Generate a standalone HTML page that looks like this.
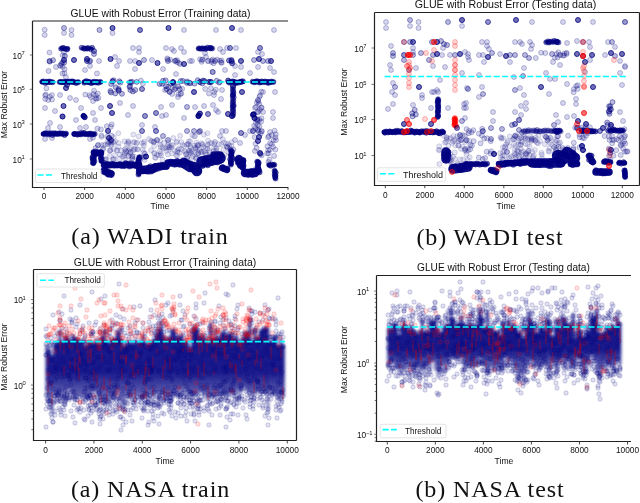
<!DOCTYPE html><html><head><meta charset="utf-8"><style>html,body{margin:0;padding:0;background:#fff;width:640px;height:503px;overflow:hidden}svg{position:absolute;left:0;top:0;filter:blur(0.35px)}text{font-family:"Liberation Sans",sans-serif;fill:#111}.cap{font-family:"Liberation Serif",serif}</style></head><body>
<svg width="640" height="503" viewBox="0 0 640 503">
<defs><filter id="bl" x="-10%" y="-10%" width="120%" height="120%"><feGaussianBlur stdDeviation="1.5"/></filter><clipPath id="c1"><rect x="32" y="21" width="256" height="166"/></clipPath><clipPath id="c2"><rect x="374" y="12.5" width="265" height="172.7"/></clipPath><clipPath id="c3"><rect x="33.4" y="269.5" width="263" height="171"/></clipPath><clipPath id="c4"><rect x="376.7" y="275.3" width="254" height="166"/></clipPath></defs>
<g clip-path="url(#c1)" class="w">
<path d="M61 48.5H68" fill="none" stroke="#000080" stroke-opacity="0.80" stroke-width="3.5" stroke-linecap="round" stroke-linejoin="round"/>
<g fill="#000080" fill-opacity="0.48" stroke="#000080" stroke-opacity="0.48" stroke-width="1"><circle cx=61.1 cy=48.7 r=2.5 /><circle cx=62.4 cy=48.1 r=2.5 /><circle cx=63.6 cy=48.0 r=2.5 /><circle cx=64.8 cy=48.7 r=2.5 /><circle cx=66.8 cy=49.4 r=2.5 /><circle cx=67.5 cy=48.8 r=2.5 /></g>
<path d="M82 48.5H92" fill="none" stroke="#000080" stroke-opacity="0.80" stroke-width="3.5" stroke-linecap="round" stroke-linejoin="round"/>
<g fill="#000080" fill-opacity="0.48" stroke="#000080" stroke-opacity="0.48" stroke-width="1"><circle cx=81.6 cy=47.7 r=2.5 /><circle cx=83.9 cy=48.3 r=2.5 /><circle cx=84.5 cy=48.7 r=2.5 /><circle cx=86.6 cy=48.4 r=2.5 /><circle cx=87.3 cy=48.6 r=2.5 /><circle cx=88.3 cy=48.0 r=2.5 /><circle cx=90.8 cy=49.3 r=2.5 /><circle cx=92.1 cy=47.8 r=2.5 /></g>
<path d="M198 48.5H212" fill="none" stroke="#000080" stroke-opacity="0.80" stroke-width="3.5" stroke-linecap="round" stroke-linejoin="round"/>
<g fill="#000080" fill-opacity="0.48" stroke="#000080" stroke-opacity="0.48" stroke-width="1"><circle cx=198.6 cy=48.5 r=2.5 /><circle cx=199.8 cy=48.4 r=2.5 /><circle cx=201.2 cy=48.8 r=2.5 /><circle cx=202.2 cy=48.4 r=2.5 /><circle cx=203.3 cy=48.4 r=2.5 /><circle cx=205.3 cy=48.7 r=2.5 /><circle cx=205.8 cy=48.8 r=2.5 /><circle cx=207.5 cy=47.6 r=2.5 /><circle cx=209.6 cy=47.9 r=2.5 /><circle cx=210.3 cy=48.3 r=2.5 /><circle cx=212.2 cy=48.5 r=2.5 /></g>
<path d="M42 82H52" fill="none" stroke="#000080" stroke-opacity="0.95" stroke-width="4.5" stroke-linecap="round" stroke-linejoin="round"/>
<g fill="#000080" fill-opacity="0.57" stroke="#000080" stroke-opacity="0.57" stroke-width="1"><circle cx=42.2 cy=81.8 r=2.5 /><circle cx=43.5 cy=81.4 r=2.5 /><circle cx=45.4 cy=83.0 r=2.5 /><circle cx=46.6 cy=81.7 r=2.5 /><circle cx=48.0 cy=82.2 r=2.5 /><circle cx=49.3 cy=81.5 r=2.5 /><circle cx=50.4 cy=82.0 r=2.5 /><circle cx=52.6 cy=82.2 r=2.5 /></g>
<path d="M60 82H78" fill="none" stroke="#000080" stroke-opacity="0.95" stroke-width="4.5" stroke-linecap="round" stroke-linejoin="round"/>
<g fill="#000080" fill-opacity="0.57" stroke="#000080" stroke-opacity="0.57" stroke-width="1"><circle cx=59.7 cy=82.0 r=2.5 /><circle cx=61.2 cy=81.9 r=2.5 /><circle cx=62.7 cy=82.2 r=2.5 /><circle cx=64.0 cy=82.2 r=2.5 /><circle cx=65.5 cy=81.6 r=2.5 /><circle cx=67.2 cy=81.8 r=2.5 /><circle cx=69.0 cy=81.6 r=2.5 /><circle cx=68.8 cy=82.2 r=2.5 /><circle cx=71.4 cy=81.4 r=2.5 /><circle cx=72.2 cy=82.0 r=2.5 /><circle cx=72.9 cy=81.5 r=2.5 /><circle cx=74.9 cy=82.4 r=2.5 /><circle cx=76.3 cy=83.0 r=2.5 /><circle cx=78.3 cy=82.2 r=2.5 /></g>
<path d="M84 82H100" fill="none" stroke="#000080" stroke-opacity="0.95" stroke-width="4.5" stroke-linecap="round" stroke-linejoin="round"/>
<g fill="#000080" fill-opacity="0.57" stroke="#000080" stroke-opacity="0.57" stroke-width="1"><circle cx=84.3 cy=82.7 r=2.5 /><circle cx=85.3 cy=81.4 r=2.5 /><circle cx=86.9 cy=81.3 r=2.5 /><circle cx=88.4 cy=82.2 r=2.5 /><circle cx=89.1 cy=81.9 r=2.5 /><circle cx=91.0 cy=83.0 r=2.5 /><circle cx=92.2 cy=82.6 r=2.5 /><circle cx=92.9 cy=82.4 r=2.5 /><circle cx=94.2 cy=81.7 r=2.5 /><circle cx=96.0 cy=82.5 r=2.5 /><circle cx=97.1 cy=81.9 r=2.5 /><circle cx=98.3 cy=82.8 r=2.5 /><circle cx=100.5 cy=81.9 r=2.5 /></g>
<path d="M228 82H243" fill="none" stroke="#000080" stroke-opacity="0.95" stroke-width="4.5" stroke-linecap="round" stroke-linejoin="round"/>
<g fill="#000080" fill-opacity="0.57" stroke="#000080" stroke-opacity="0.57" stroke-width="1"><circle cx=228.1 cy=80.5 r=2.5 /><circle cx=229.2 cy=82.6 r=2.5 /><circle cx=230.9 cy=82.1 r=2.5 /><circle cx=232.5 cy=81.4 r=2.5 /><circle cx=233.7 cy=81.8 r=2.5 /><circle cx=234.7 cy=82.2 r=2.5 /><circle cx=235.6 cy=83.0 r=2.5 /><circle cx=236.7 cy=82.7 r=2.5 /><circle cx=238.7 cy=82.6 r=2.5 /><circle cx=240.3 cy=81.8 r=2.5 /><circle cx=241.4 cy=81.7 r=2.5 /><circle cx=242.9 cy=81.3 r=2.5 /></g>
<path d="M253 82H273" fill="none" stroke="#000080" stroke-opacity="0.95" stroke-width="4.5" stroke-linecap="round" stroke-linejoin="round"/>
<g fill="#000080" fill-opacity="0.57" stroke="#000080" stroke-opacity="0.57" stroke-width="1"><circle cx=252.6 cy=81.7 r=2.5 /><circle cx=254.6 cy=82.3 r=2.5 /><circle cx=256.0 cy=81.4 r=2.5 /><circle cx=257.0 cy=81.4 r=2.5 /><circle cx=258.2 cy=81.5 r=2.5 /><circle cx=259.8 cy=82.6 r=2.5 /><circle cx=260.7 cy=82.1 r=2.5 /><circle cx=261.8 cy=81.4 r=2.5 /><circle cx=263.7 cy=82.1 r=2.5 /><circle cx=264.9 cy=81.5 r=2.5 /><circle cx=266.9 cy=81.9 r=2.5 /><circle cx=268.1 cy=82.9 r=2.5 /><circle cx=268.5 cy=81.9 r=2.5 /><circle cx=270.3 cy=82.3 r=2.5 /><circle cx=271.5 cy=81.6 r=2.5 /><circle cx=273.4 cy=81.9 r=2.5 /></g>
<path d="M233 88L233 115" fill="none" stroke="#000080" stroke-opacity="0.60" stroke-width="3.0" stroke-linecap="round" stroke-linejoin="round"/>
<g fill="#000080" fill-opacity="0.36" stroke="#000080" stroke-opacity="0.36" stroke-width="1"><circle cx=233.0 cy=87.9 r=2.5 /><circle cx=232.9 cy=89.2 r=2.5 /><circle cx=233.0 cy=91.1 r=2.5 /><circle cx=233.1 cy=91.9 r=2.5 /><circle cx=233.5 cy=92.9 r=2.5 /><circle cx=232.8 cy=95.0 r=2.5 /><circle cx=232.7 cy=96.3 r=2.5 /><circle cx=233.8 cy=97.2 r=2.5 /><circle cx=232.9 cy=99.0 r=2.5 /><circle cx=233.3 cy=100.3 r=2.5 /><circle cx=232.9 cy=101.8 r=2.5 /><circle cx=233.1 cy=102.8 r=2.5 /><circle cx=232.6 cy=103.9 r=2.5 /><circle cx=233.8 cy=105.6 r=2.5 /><circle cx=232.6 cy=107.2 r=2.5 /><circle cx=233.1 cy=108.7 r=2.5 /><circle cx=233.1 cy=110.2 r=2.5 /><circle cx=232.6 cy=110.8 r=2.5 /><circle cx=233.3 cy=112.3 r=2.5 /><circle cx=233.1 cy=114.0 r=2.5 /><circle cx=233.0 cy=115.5 r=2.5 /></g>
<path d="M43 134H66" fill="none" stroke="#000080" stroke-opacity="0.95" stroke-width="4.5" stroke-linecap="round" stroke-linejoin="round"/>
<g fill="#000080" fill-opacity="0.57" stroke="#000080" stroke-opacity="0.57" stroke-width="1"><circle cx=43.6 cy=133.9 r=2.5 /><circle cx=45.4 cy=133.6 r=2.5 /><circle cx=45.4 cy=133.2 r=2.5 /><circle cx=47.2 cy=133.4 r=2.5 /><circle cx=48.5 cy=134.5 r=2.5 /><circle cx=50.0 cy=133.3 r=2.5 /><circle cx=51.2 cy=133.4 r=2.5 /><circle cx=52.5 cy=135.1 r=2.5 /><circle cx=53.5 cy=133.2 r=2.5 /><circle cx=55.5 cy=133.6 r=2.5 /><circle cx=55.9 cy=133.5 r=2.5 /><circle cx=57.7 cy=133.9 r=2.5 /><circle cx=59.3 cy=133.3 r=2.5 /><circle cx=60.6 cy=133.5 r=2.5 /><circle cx=62.2 cy=133.5 r=2.5 /><circle cx=63.2 cy=133.7 r=2.5 /><circle cx=64.6 cy=135.1 r=2.5 /><circle cx=66.0 cy=133.5 r=2.5 /></g>
<path d="M74 134H94" fill="none" stroke="#000080" stroke-opacity="0.95" stroke-width="4.5" stroke-linecap="round" stroke-linejoin="round"/>
<g fill="#000080" fill-opacity="0.57" stroke="#000080" stroke-opacity="0.57" stroke-width="1"><circle cx=74.2 cy=134.0 r=2.5 /><circle cx=74.4 cy=133.9 r=2.5 /><circle cx=76.7 cy=133.9 r=2.5 /><circle cx=77.7 cy=134.7 r=2.5 /><circle cx=79.0 cy=134.1 r=2.5 /><circle cx=80.9 cy=134.4 r=2.5 /><circle cx=81.5 cy=133.1 r=2.5 /><circle cx=83.5 cy=133.4 r=2.5 /><circle cx=84.3 cy=132.9 r=2.5 /><circle cx=85.3 cy=134.2 r=2.5 /><circle cx=87.6 cy=134.2 r=2.5 /><circle cx=88.8 cy=134.0 r=2.5 /><circle cx=90.3 cy=133.5 r=2.5 /><circle cx=92.0 cy=134.2 r=2.5 /><circle cx=92.7 cy=134.6 r=2.5 /><circle cx=94.7 cy=134.0 r=2.5 /></g>
<path d="M94 153L101 153" fill="none" stroke="#000080" stroke-opacity="0.95" stroke-width="6.5" stroke-linecap="round" stroke-linejoin="round"/>
<g fill="#000080" fill-opacity="0.57" stroke="#000080" stroke-opacity="0.57" stroke-width="1"><circle cx=93.5 cy=152.0 r=2.5 /><circle cx=95.5 cy=151.4 r=2.5 /><circle cx=96.0 cy=154.1 r=2.5 /><circle cx=98.7 cy=152.4 r=2.5 /><circle cx=99.7 cy=153.0 r=2.5 /><circle cx=101.0 cy=152.1 r=2.5 /></g>
<path d="M94 157L93 163" fill="none" stroke="#000080" stroke-opacity="0.95" stroke-width="5.5" stroke-linecap="round" stroke-linejoin="round"/>
<g fill="#000080" fill-opacity="0.57" stroke="#000080" stroke-opacity="0.57" stroke-width="1"><circle cx=92.5 cy=157.0 r=2.5 /><circle cx=92.6 cy=158.3 r=2.5 /><circle cx=92.8 cy=159.4 r=2.5 /><circle cx=94.4 cy=161.2 r=2.5 /><circle cx=93.5 cy=163.1 r=2.5 /></g>
<path d="M101 156L101 161" fill="none" stroke="#000080" stroke-opacity="0.95" stroke-width="4.5" stroke-linecap="round" stroke-linejoin="round"/>
<g fill="#000080" fill-opacity="0.57" stroke="#000080" stroke-opacity="0.57" stroke-width="1"><circle cx=100.8 cy=154.9 r=2.5 /><circle cx=100.8 cy=158.1 r=2.5 /><circle cx=101.7 cy=158.7 r=2.5 /><circle cx=101.4 cy=161.0 r=2.5 /></g>
<path d="M104 165L139 165" fill="none" stroke="#000080" stroke-opacity="0.95" stroke-width="6.5" stroke-linecap="round" stroke-linejoin="round"/>
<g fill="#000080" fill-opacity="0.57" stroke="#000080" stroke-opacity="0.57" stroke-width="1"><circle cx=104.4 cy=163.1 r=2.5 /><circle cx=105.6 cy=164.8 r=2.5 /><circle cx=106.7 cy=166.3 r=2.5 /><circle cx=108.0 cy=164.0 r=2.5 /><circle cx=109.5 cy=165.6 r=2.5 /><circle cx=111.1 cy=164.3 r=2.5 /><circle cx=112.8 cy=164.0 r=2.5 /><circle cx=113.0 cy=164.5 r=2.5 /><circle cx=114.5 cy=165.5 r=2.5 /><circle cx=116.4 cy=164.8 r=2.5 /><circle cx=117.3 cy=165.3 r=2.5 /><circle cx=118.9 cy=164.7 r=2.5 /><circle cx=120.2 cy=164.1 r=2.5 /><circle cx=121.7 cy=166.0 r=2.5 /><circle cx=123.1 cy=165.0 r=2.5 /><circle cx=124.2 cy=166.1 r=2.5 /><circle cx=125.5 cy=163.1 r=2.5 /><circle cx=126.3 cy=163.7 r=2.5 /><circle cx=128.3 cy=163.7 r=2.5 /><circle cx=129.5 cy=166.5 r=2.5 /><circle cx=130.7 cy=163.2 r=2.5 /><circle cx=132.1 cy=165.4 r=2.5 /><circle cx=133.2 cy=164.2 r=2.5 /><circle cx=135.6 cy=166.1 r=2.5 /><circle cx=135.9 cy=165.7 r=2.5 /><circle cx=138.2 cy=165.6 r=2.5 /><circle cx=138.9 cy=164.4 r=2.5 /></g>
<path d="M104 171L111 174" fill="none" stroke="#000080" stroke-opacity="0.95" stroke-width="7.5" stroke-linecap="round" stroke-linejoin="round"/>
<g fill="#000080" fill-opacity="0.57" stroke="#000080" stroke-opacity="0.57" stroke-width="1"><circle cx=104.5 cy=171.2 r=2.5 /><circle cx=105.8 cy=171.1 r=2.5 /><circle cx=107.2 cy=172.2 r=2.5 /><circle cx=107.8 cy=174.5 r=2.5 /><circle cx=108.6 cy=174.6 r=2.5 /><circle cx=111.2 cy=172.9 r=2.5 /></g>
<path d="M139 157L139 174" fill="none" stroke="#000080" stroke-opacity="0.95" stroke-width="4.5" stroke-linecap="round" stroke-linejoin="round"/>
<g fill="#000080" fill-opacity="0.57" stroke="#000080" stroke-opacity="0.57" stroke-width="1"><circle cx=139.6 cy=157.2 r=2.5 /><circle cx=138.9 cy=158.8 r=2.5 /><circle cx=138.5 cy=160.0 r=2.5 /><circle cx=138.4 cy=161.8 r=2.5 /><circle cx=138.2 cy=162.3 r=2.5 /><circle cx=139.1 cy=163.4 r=2.5 /><circle cx=139.3 cy=165.1 r=2.5 /><circle cx=138.5 cy=167.1 r=2.5 /><circle cx=139.5 cy=167.9 r=2.5 /><circle cx=139.1 cy=169.5 r=2.5 /><circle cx=138.9 cy=169.1 r=2.5 /><circle cx=138.7 cy=171.3 r=2.5 /><circle cx=138.8 cy=172.6 r=2.5 /><circle cx=138.5 cy=174.5 r=2.5 /></g>
<path d="M142 170L153 169" fill="none" stroke="#000080" stroke-opacity="0.95" stroke-width="8.5" stroke-linecap="round" stroke-linejoin="round"/>
<g fill="#000080" fill-opacity="0.57" stroke="#000080" stroke-opacity="0.57" stroke-width="1"><circle cx=142.2 cy=169.0 r=2.5 /><circle cx=143.1 cy=170.7 r=2.5 /><circle cx=145.1 cy=171.2 r=2.5 /><circle cx=146.6 cy=171.5 r=2.5 /><circle cx=148.6 cy=171.8 r=2.5 /><circle cx=148.7 cy=167.5 r=2.5 /><circle cx=150.3 cy=166.3 r=2.5 /><circle cx=151.3 cy=171.6 r=2.5 /><circle cx=152.5 cy=170.4 r=2.5 /></g>
<path d="M155 167L166 166" fill="none" stroke="#000080" stroke-opacity="0.95" stroke-width="7.5" stroke-linecap="round" stroke-linejoin="round"/>
<g fill="#000080" fill-opacity="0.57" stroke="#000080" stroke-opacity="0.57" stroke-width="1"><circle cx=155.2 cy=165.8 r=2.5 /><circle cx=155.8 cy=169.4 r=2.5 /><circle cx=158.4 cy=168.6 r=2.5 /><circle cx=158.5 cy=165.3 r=2.5 /><circle cx=160.7 cy=167.5 r=2.5 /><circle cx=161.7 cy=164.7 r=2.5 /><circle cx=163.2 cy=165.0 r=2.5 /><circle cx=164.1 cy=165.9 r=2.5 /><circle cx=166.4 cy=166.9 r=2.5 /></g>
<path d="M168 163L180 163" fill="none" stroke="#000080" stroke-opacity="0.95" stroke-width="7.5" stroke-linecap="round" stroke-linejoin="round"/>
<g fill="#000080" fill-opacity="0.57" stroke="#000080" stroke-opacity="0.57" stroke-width="1"><circle cx=167.7 cy=164.4 r=2.5 /><circle cx=169.2 cy=162.4 r=2.5 /><circle cx=170.9 cy=161.6 r=2.5 /><circle cx=173.0 cy=162.5 r=2.5 /><circle cx=173.6 cy=162.1 r=2.5 /><circle cx=174.6 cy=164.8 r=2.5 /><circle cx=176.5 cy=164.3 r=2.5 /><circle cx=177.1 cy=160.8 r=2.5 /><circle cx=178.3 cy=162.2 r=2.5 /><circle cx=179.8 cy=164.9 r=2.5 /></g>
<path d="M184 163L190 167" fill="none" stroke="#000080" stroke-opacity="0.95" stroke-width="10.5" stroke-linecap="round" stroke-linejoin="round"/>
<g fill="#000080" fill-opacity="0.57" stroke="#000080" stroke-opacity="0.57" stroke-width="1"><circle cx=185.1 cy=161.0 r=2.5 /><circle cx=183.4 cy=165.4 r=2.5 /><circle cx=187.2 cy=162.4 r=2.5 /><circle cx=189.0 cy=163.0 r=2.5 /><circle cx=190.5 cy=164.0 r=2.5 /><circle cx=191.1 cy=163.6 r=2.5 /></g>
<path d="M194 167L197 171" fill="none" stroke="#000080" stroke-opacity="0.95" stroke-width="10.5" stroke-linecap="round" stroke-linejoin="round"/>
<g fill="#000080" fill-opacity="0.57" stroke="#000080" stroke-opacity="0.57" stroke-width="1"><circle cx=192.0 cy=168.1 r=2.5 /><circle cx=196.9 cy=167.2 r=2.5 /><circle cx=195.3 cy=171.4 r=2.5 /><circle cx=199.0 cy=169.9 r=2.5 /></g>
<path d="M202 162L212 160L220 158" fill="none" stroke="#000080" stroke-opacity="0.95" stroke-width="11.5" stroke-linecap="round" stroke-linejoin="round"/>
<g fill="#000080" fill-opacity="0.57" stroke="#000080" stroke-opacity="0.57" stroke-width="1"><circle cx=202.6 cy=166.0 r=2.5 /><circle cx=204.2 cy=163.8 r=2.5 /><circle cx=204.8 cy=159.0 r=2.5 /><circle cx=206.9 cy=161.0 r=2.5 /><circle cx=207.8 cy=165.3 r=2.5 /><circle cx=208.9 cy=161.0 r=2.5 /><circle cx=211.1 cy=161.7 r=2.5 /><circle cx=212.6 cy=161.9 r=2.5 /><circle cx=212.1 cy=160.1 r=2.5 /><circle cx=212.9 cy=159.3 r=2.5 /><circle cx=215.0 cy=159.8 r=2.5 /><circle cx=217.3 cy=162.5 r=2.5 /><circle cx=216.2 cy=155.6 r=2.5 /><circle cx=219.4 cy=161.6 r=2.5 /><circle cx=219.5 cy=155.4 r=2.5 /></g>
<path d="M214 155L220 155" fill="none" stroke="#000080" stroke-opacity="0.95" stroke-width="7.5" stroke-linecap="round" stroke-linejoin="round"/>
<g fill="#000080" fill-opacity="0.57" stroke="#000080" stroke-opacity="0.57" stroke-width="1"><circle cx=213.5 cy=157.0 r=2.5 /><circle cx=215.6 cy=156.0 r=2.5 /><circle cx=217.4 cy=156.3 r=2.5 /><circle cx=218.5 cy=156.6 r=2.5 /><circle cx=220.7 cy=156.9 r=2.5 /></g>
<path d="M222 168L227 170" fill="none" stroke="#000080" stroke-opacity="0.95" stroke-width="6.5" stroke-linecap="round" stroke-linejoin="round"/>
<g fill="#000080" fill-opacity="0.57" stroke="#000080" stroke-opacity="0.57" stroke-width="1"><circle cx=222.7 cy=167.1 r=2.5 /><circle cx=223.6 cy=167.6 r=2.5 /><circle cx=223.8 cy=169.0 r=2.5 /><circle cx=226.2 cy=168.8 r=2.5 /><circle cx=227.4 cy=168.5 r=2.5 /></g>
<path d="M231 151L231 164" fill="none" stroke="#000080" stroke-opacity="0.95" stroke-width="4.5" stroke-linecap="round" stroke-linejoin="round"/>
<g fill="#000080" fill-opacity="0.57" stroke="#000080" stroke-opacity="0.57" stroke-width="1"><circle cx=230.8 cy=150.2 r=2.5 /><circle cx=232.0 cy=151.7 r=2.5 /><circle cx=231.5 cy=153.2 r=2.5 /><circle cx=231.3 cy=154.6 r=2.5 /><circle cx=230.9 cy=155.7 r=2.5 /><circle cx=232.2 cy=157.6 r=2.5 /><circle cx=232.3 cy=159.4 r=2.5 /><circle cx=230.2 cy=159.2 r=2.5 /><circle cx=230.8 cy=161.4 r=2.5 /><circle cx=230.9 cy=163.0 r=2.5 /><circle cx=231.0 cy=164.6 r=2.5 /></g>
<path d="M239 159L241 165" fill="none" stroke="#000080" stroke-opacity="0.95" stroke-width="8.5" stroke-linecap="round" stroke-linejoin="round"/>
<g fill="#000080" fill-opacity="0.57" stroke="#000080" stroke-opacity="0.57" stroke-width="1"><circle cx=237.0 cy=159.6 r=2.5 /><circle cx=239.0 cy=161.0 r=2.5 /><circle cx=237.7 cy=162.7 r=2.5 /><circle cx=240.7 cy=162.9 r=2.5 /><circle cx=242.7 cy=164.6 r=2.5 /></g>
<path d="M245 173L255 173" fill="none" stroke="#000080" stroke-opacity="0.95" stroke-width="8.5" stroke-linecap="round" stroke-linejoin="round"/>
<g fill="#000080" fill-opacity="0.57" stroke="#000080" stroke-opacity="0.57" stroke-width="1"><circle cx=245.0 cy=172.3 r=2.5 /><circle cx=246.6 cy=172.9 r=2.5 /><circle cx=248.2 cy=174.9 r=2.5 /><circle cx=249.2 cy=172.0 r=2.5 /><circle cx=251.1 cy=170.9 r=2.5 /><circle cx=252.3 cy=175.0 r=2.5 /><circle cx=254.0 cy=170.4 r=2.5 /><circle cx=254.9 cy=171.0 r=2.5 /></g>
<path d="M243 160L243 168" fill="none" stroke="#000080" stroke-opacity="0.95" stroke-width="5.5" stroke-linecap="round" stroke-linejoin="round"/>
<g fill="#000080" fill-opacity="0.57" stroke="#000080" stroke-opacity="0.57" stroke-width="1"><circle cx=243.5 cy=160.3 r=2.5 /><circle cx=243.4 cy=161.4 r=2.5 /><circle cx=242.9 cy=162.4 r=2.5 /><circle cx=242.5 cy=163.7 r=2.5 /><circle cx=243.6 cy=165.8 r=2.5 /><circle cx=241.9 cy=166.4 r=2.5 /><circle cx=242.8 cy=168.0 r=2.5 /></g>
<path d="M258 162L258 172" fill="none" stroke="#000080" stroke-opacity="0.95" stroke-width="5.5" stroke-linecap="round" stroke-linejoin="round"/>
<g fill="#000080" fill-opacity="0.57" stroke="#000080" stroke-opacity="0.57" stroke-width="1"><circle cx=257.2 cy=161.7 r=2.5 /><circle cx=258.7 cy=162.9 r=2.5 /><circle cx=258.2 cy=164.1 r=2.5 /><circle cx=257.5 cy=166.8 r=2.5 /><circle cx=258.0 cy=168.8 r=2.5 /><circle cx=258.6 cy=169.1 r=2.5 /><circle cx=259.2 cy=170.6 r=2.5 /><circle cx=259.6 cy=172.3 r=2.5 /></g>
<path d="M269 165L274 165" fill="none" stroke="#000080" stroke-opacity="0.95" stroke-width="4.5" stroke-linecap="round" stroke-linejoin="round"/>
<g fill="#000080" fill-opacity="0.57" stroke="#000080" stroke-opacity="0.57" stroke-width="1"><circle cx=269.2 cy=164.9 r=2.5 /><circle cx=270.8 cy=165.7 r=2.5 /><circle cx=272.4 cy=164.6 r=2.5 /><circle cx=274.3 cy=164.8 r=2.5 /></g>
<path d="M275 171L275 178" fill="none" stroke="#000080" stroke-opacity="0.95" stroke-width="4.5" stroke-linecap="round" stroke-linejoin="round"/>
<g fill="#000080" fill-opacity="0.57" stroke="#000080" stroke-opacity="0.57" stroke-width="1"><circle cx=274.6 cy=170.7 r=2.5 /><circle cx=275.7 cy=172.7 r=2.5 /><circle cx=274.7 cy=174.3 r=2.5 /><circle cx=275.5 cy=175.7 r=2.5 /><circle cx=275.1 cy=176.7 r=2.5 /><circle cx=275.5 cy=178.5 r=2.5 /></g>
<g fill="#000080" fill-opacity="0.105" stroke="#000080" stroke-opacity="0.15" stroke-width="1">
<circle cx=113.9 cy=142.9 r=2.5 /><circle cx=138.0 cy=149.4 r=2.5 /><circle cx=136.2 cy=143.5 r=2.5 /><circle cx=119.9 cy=154.7 r=2.5 /><circle cx=103.7 cy=145.0 r=2.5 /><circle cx=131.7 cy=159.2 r=2.5 /><circle cx=143.7 cy=143.3 r=2.5 /><circle cx=124.2 cy=156.2 r=2.5 /><circle cx=124.1 cy=154.7 r=2.5 /><circle cx=110.9 cy=142.4 r=2.5 /><circle cx=107.5 cy=141.7 r=2.5 /><circle cx=126.2 cy=151.3 r=2.5 /><circle cx=126.9 cy=143.9 r=2.5 /><circle cx=110.8 cy=145.1 r=2.5 /><circle cx=138.3 cy=160.8 r=2.5 /><circle cx=141.9 cy=142.9 r=2.5 /><circle cx=105.6 cy=160.0 r=2.5 /><circle cx=122.4 cy=156.3 r=2.5 /><circle cx=116.7 cy=150.3 r=2.5 /><circle cx=124.6 cy=149.6 r=2.5 /><circle cx=128.2 cy=141.3 r=2.5 /><circle cx=132.4 cy=157.9 r=2.5 /><circle cx=110.6 cy=150.1 r=2.5 /><circle cx=134.1 cy=149.1 r=2.5 /><circle cx=111.2 cy=144.3 r=2.5 /><circle cx=124.5 cy=141.3 r=2.5 /><circle cx=140.5 cy=157.0 r=2.5 /><circle cx=132.6 cy=158.2 r=2.5 /><circle cx=129.4 cy=149.1 r=2.5 /><circle cx=128.2 cy=151.1 r=2.5 /><circle cx=144.3 cy=157.1 r=2.5 /><circle cx=113.8 cy=159.2 r=2.5 /><circle cx=134.3 cy=156.6 r=2.5 /><circle cx=137.2 cy=149.1 r=2.5 /><circle cx=140.7 cy=158.6 r=2.5 /><circle cx=132.2 cy=156.3 r=2.5 /><circle cx=135.1 cy=149.1 r=2.5 /><circle cx=133.4 cy=142.4 r=2.5 /><circle cx=117.4 cy=150.4 r=2.5 /><circle cx=103.4 cy=148.1 r=2.5 /><circle cx=129.8 cy=153.5 r=2.5 /><circle cx=112.7 cy=159.9 r=2.5 /><circle cx=131.0 cy=147.8 r=2.5 /><circle cx=130.7 cy=152.4 r=2.5 /><circle cx=125.4 cy=148.8 r=2.5 /><circle cx=145.0 cy=153.8 r=2.5 /><circle cx=132.5 cy=156.2 r=2.5 /><circle cx=144.2 cy=141.5 r=2.5 /><circle cx=128.8 cy=155.8 r=2.5 /><circle cx=113.8 cy=149.0 r=2.5 /><circle cx=105.1 cy=144.9 r=2.5 /><circle cx=118.8 cy=143.0 r=2.5 /><circle cx=113.5 cy=159.1 r=2.5 /><circle cx=126.1 cy=151.2 r=2.5 /><circle cx=143.6 cy=152.4 r=2.5 /><circle cx=144.8 cy=153.8 r=2.5 /><circle cx=137.0 cy=142.5 r=2.5 /><circle cx=128.1 cy=156.2 r=2.5 /><circle cx=104.9 cy=159.6 r=2.5 /><circle cx=109.7 cy=150.4 r=2.5 /><circle cx=110.1 cy=150.9 r=2.5 /><circle cx=128.7 cy=142.2 r=2.5 /><circle cx=142.7 cy=149.4 r=2.5 /><circle cx=125.1 cy=153.0 r=2.5 /><circle cx=118.4 cy=146.7 r=2.5 /><circle cx=130.5 cy=152.2 r=2.5 /><circle cx=114.9 cy=155.3 r=2.5 /><circle cx=115.4 cy=141.3 r=2.5 /><circle cx=113.3 cy=141.9 r=2.5 /><circle cx=109.6 cy=156.1 r=2.5 /><circle cx=119.4 cy=159.0 r=2.5 /><circle cx=134.4 cy=142.0 r=2.5 /><circle cx=144.5 cy=159.9 r=2.5 /><circle cx=106.1 cy=159.1 r=2.5 /><circle cx=121.0 cy=150.6 r=2.5 /><circle cx=143.9 cy=145.9 r=2.5 /><circle cx=125.0 cy=159.7 r=2.5 /><circle cx=133.4 cy=150.4 r=2.5 /><circle cx=144.1 cy=157.3 r=2.5 /><circle cx=128.4 cy=143.3 r=2.5 /><circle cx=181.2 cy=149.1 r=2.5 /><circle cx=160.2 cy=141.0 r=2.5 /><circle cx=176.4 cy=142.5 r=2.5 /><circle cx=172.1 cy=153.4 r=2.5 /><circle cx=172.8 cy=145.2 r=2.5 /><circle cx=179.1 cy=148.4 r=2.5 /><circle cx=188.9 cy=150.6 r=2.5 /><circle cx=199.9 cy=159.1 r=2.5 /><circle cx=186.7 cy=144.8 r=2.5 /><circle cx=155.7 cy=157.9 r=2.5 /><circle cx=189.2 cy=152.5 r=2.5 /><circle cx=168.0 cy=145.4 r=2.5 /><circle cx=184.3 cy=151.3 r=2.5 /><circle cx=179.6 cy=152.7 r=2.5 /><circle cx=187.7 cy=143.8 r=2.5 /><circle cx=162.4 cy=159.6 r=2.5 /><circle cx=195.8 cy=157.6 r=2.5 /><circle cx=152.0 cy=141.2 r=2.5 /><circle cx=163.5 cy=148.5 r=2.5 /><circle cx=181.2 cy=142.0 r=2.5 /><circle cx=177.1 cy=141.4 r=2.5 /><circle cx=154.3 cy=153.5 r=2.5 /><circle cx=177.5 cy=152.6 r=2.5 /><circle cx=168.7 cy=149.6 r=2.5 /><circle cx=160.5 cy=146.9 r=2.5 /><circle cx=187.2 cy=156.8 r=2.5 /><circle cx=153.7 cy=142.4 r=2.5 /><circle cx=190.5 cy=152.5 r=2.5 /><circle cx=188.4 cy=144.3 r=2.5 /><circle cx=171.2 cy=145.2 r=2.5 /><circle cx=190.5 cy=147.4 r=2.5 /><circle cx=182.7 cy=159.8 r=2.5 /><circle cx=166.3 cy=151.0 r=2.5 /><circle cx=187.3 cy=158.4 r=2.5 /><circle cx=171.4 cy=147.4 r=2.5 /><circle cx=154.9 cy=157.5 r=2.5 /><circle cx=153.9 cy=141.7 r=2.5 /><circle cx=178.2 cy=149.7 r=2.5 /><circle cx=184.3 cy=146.0 r=2.5 /><circle cx=188.8 cy=141.5 r=2.5 /><circle cx=160.7 cy=153.2 r=2.5 /><circle cx=154.1 cy=146.1 r=2.5 /><circle cx=186.2 cy=153.9 r=2.5 /><circle cx=164.1 cy=142.9 r=2.5 /><circle cx=167.9 cy=154.5 r=2.5 /><circle cx=168.3 cy=142.3 r=2.5 /><circle cx=185.5 cy=151.4 r=2.5 /><circle cx=195.9 cy=158.8 r=2.5 /><circle cx=195.7 cy=148.8 r=2.5 /><circle cx=190.2 cy=146.1 r=2.5 /><circle cx=165.9 cy=148.0 r=2.5 /><circle cx=196.7 cy=157.9 r=2.5 /><circle cx=162.4 cy=147.2 r=2.5 /><circle cx=168.3 cy=147.3 r=2.5 /><circle cx=169.8 cy=147.8 r=2.5 /><circle cx=159.7 cy=151.3 r=2.5 /><circle cx=189.9 cy=150.8 r=2.5 /><circle cx=191.8 cy=151.3 r=2.5 /><circle cx=158.8 cy=155.2 r=2.5 /><circle cx=194.0 cy=145.6 r=2.5 /><circle cx=151.1 cy=150.3 r=2.5 /><circle cx=177.2 cy=151.3 r=2.5 /><circle cx=198.3 cy=153.0 r=2.5 /><circle cx=190.2 cy=141.3 r=2.5 /><circle cx=177.3 cy=155.8 r=2.5 /><circle cx=154.2 cy=141.6 r=2.5 /><circle cx=186.9 cy=158.0 r=2.5 /><circle cx=154.2 cy=152.7 r=2.5 /><circle cx=157.2 cy=154.9 r=2.5 /><circle cx=182.5 cy=144.9 r=2.5 /><circle cx=161.0 cy=155.3 r=2.5 /><circle cx=176.1 cy=155.3 r=2.5 /><circle cx=169.7 cy=146.8 r=2.5 /><circle cx=198.4 cy=153.4 r=2.5 /><circle cx=174.7 cy=150.7 r=2.5 /><circle cx=186.0 cy=154.2 r=2.5 /><circle cx=195.7 cy=148.2 r=2.5 /><circle cx=191.3 cy=153.3 r=2.5 /><circle cx=192.7 cy=156.1 r=2.5 /><circle cx=191.7 cy=157.8 r=2.5 /><circle cx=233.3 cy=150.0 r=2.5 /><circle cx=216.0 cy=150.9 r=2.5 /><circle cx=227.1 cy=146.9 r=2.5 /><circle cx=211.8 cy=143.0 r=2.5 /><circle cx=224.6 cy=154.9 r=2.5 /><circle cx=210.0 cy=143.3 r=2.5 /><circle cx=203.2 cy=146.9 r=2.5 /><circle cx=206.7 cy=154.6 r=2.5 /><circle cx=197.4 cy=145.3 r=2.5 /><circle cx=199.6 cy=150.1 r=2.5 /><circle cx=226.0 cy=143.5 r=2.5 /><circle cx=197.5 cy=147.4 r=2.5 /><circle cx=218.4 cy=153.7 r=2.5 /><circle cx=196.5 cy=142.5 r=2.5 /><circle cx=202.4 cy=144.0 r=2.5 /><circle cx=204.4 cy=151.0 r=2.5 /><circle cx=218.8 cy=144.1 r=2.5 /><circle cx=202.4 cy=144.9 r=2.5 /><circle cx=201.9 cy=151.6 r=2.5 /><circle cx=207.5 cy=148.7 r=2.5 /><circle cx=227.7 cy=147.7 r=2.5 /><circle cx=205.4 cy=153.4 r=2.5 /><circle cx=231.6 cy=145.8 r=2.5 /><circle cx=216.9 cy=154.4 r=2.5 /><circle cx=214.3 cy=144.1 r=2.5 /><circle cx=197.0 cy=154.3 r=2.5 /><circle cx=227.1 cy=146.4 r=2.5 /><circle cx=216.1 cy=148.2 r=2.5 /><circle cx=206.0 cy=154.9 r=2.5 /><circle cx=221.3 cy=144.3 r=2.5 /><circle cx=195.4 cy=147.6 r=2.5 /><circle cx=209.9 cy=152.2 r=2.5 /><circle cx=223.5 cy=149.5 r=2.5 /><circle cx=201.3 cy=143.2 r=2.5 /><circle cx=207.9 cy=144.6 r=2.5 /><circle cx=229.8 cy=148.2 r=2.5 /><circle cx=220.5 cy=154.9 r=2.5 /><circle cx=205.7 cy=148.5 r=2.5 /><circle cx=201.0 cy=151.8 r=2.5 /><circle cx=195.1 cy=152.5 r=2.5 /><circle cx=228.8 cy=152.5 r=2.5 /><circle cx=198.3 cy=144.8 r=2.5 /><circle cx=223.7 cy=142.4 r=2.5 /><circle cx=214.2 cy=147.6 r=2.5 /><circle cx=233.2 cy=149.2 r=2.5 /><circle cx=229.3 cy=145.3 r=2.5 /><circle cx=226.6 cy=146.8 r=2.5 /><circle cx=231.7 cy=142.3 r=2.5 /><circle cx=228.1 cy=143.9 r=2.5 /><circle cx=216.7 cy=148.4 r=2.5 /><circle cx=201.3 cy=152.6 r=2.5 /><circle cx=207.5 cy=145.4 r=2.5 /><circle cx=198.0 cy=145.3 r=2.5 /><circle cx=213.7 cy=151.0 r=2.5 /><circle cx=209.4 cy=150.6 r=2.5 /><circle cx=113.7 cy=137.1 r=2.5 /><circle cx=160.0 cy=144.6 r=2.5 /><circle cx=207.9 cy=140.5 r=2.5 /><circle cx=101.6 cy=136.9 r=2.5 /><circle cx=192.3 cy=135.1 r=2.5 /><circle cx=173.3 cy=138.0 r=2.5 /><circle cx=101.4 cy=144.9 r=2.5 /><circle cx=203.9 cy=134.7 r=2.5 /><circle cx=180.1 cy=135.8 r=2.5 /><circle cx=148.9 cy=139.0 r=2.5 /><circle cx=138.8 cy=136.4 r=2.5 /><circle cx=151.0 cy=140.7 r=2.5 /><circle cx=133.3 cy=134.6 r=2.5 /><circle cx=195.1 cy=136.3 r=2.5 /><circle cx=222.9 cy=139.3 r=2.5 /><circle cx=194.1 cy=136.3 r=2.5 /><circle cx=207.5 cy=133.2 r=2.5 /><circle cx=118.3 cy=133.2 r=2.5 />
</g>
<g fill="#000080" fill-opacity="0.168" stroke="#000080" stroke-opacity="0.24" stroke-width="1">
<circle cx=44.7 cy=29.7 r=2.5 /><circle cx=44.7 cy=35.0 r=2.5 /><circle cx=64.0 cy=33.0 r=2.5 /><circle cx=71.5 cy=30.0 r=2.5 /><circle cx=71.5 cy=35.0 r=2.5 /><circle cx=112.5 cy=33.0 r=2.5 /><circle cx=184.0 cy=30.0 r=2.5 /><circle cx=216.0 cy=30.0 r=2.5 /><circle cx=241.0 cy=30.0 r=2.5 /><circle cx=274.0 cy=30.0 r=2.5 /><circle cx=64.0 cy=52.0 r=2.5 /><circle cx=65.0 cy=56.0 r=2.5 /><circle cx=205.0 cy=53.0 r=2.5 /><circle cx=206.0 cy=57.0 r=2.5 /><circle cx=49.5 cy=52.5 r=2.5 /><circle cx=133.0 cy=48.0 r=2.5 /><circle cx=139.0 cy=48.0 r=2.5 /><circle cx=139.0 cy=52.0 r=2.5 /><circle cx=166.0 cy=48.0 r=2.5 /><circle cx=172.0 cy=49.0 r=2.5 /><circle cx=174.0 cy=51.0 r=2.5 /><circle cx=181.0 cy=48.0 r=2.5 /><circle cx=184.0 cy=52.0 r=2.5 /><circle cx=220.0 cy=49.0 r=2.5 /><circle cx=258.0 cy=52.0 r=2.5 /><circle cx=262.0 cy=54.0 r=2.5 /><circle cx=227.0 cy=48.0 r=2.5 /><circle cx=236.0 cy=48.0 r=2.5 /><circle cx=223.0 cy=52.0 r=2.5 /><circle cx=62.7 cy=66.8 r=2.5 /><circle cx=64.5 cy=73.2 r=2.5 /><circle cx=62.4 cy=62.0 r=2.5 /><circle cx=62.4 cy=73.6 r=2.5 /><circle cx=64.8 cy=56.0 r=2.5 /><circle cx=65.9 cy=77.2 r=2.5 /><circle cx=64.6 cy=69.2 r=2.5 /><circle cx=62.6 cy=55.3 r=2.5 /><circle cx=89.4 cy=61.7 r=2.5 /><circle cx=90.2 cy=60.8 r=2.5 /><circle cx=90.1 cy=61.0 r=2.5 /><circle cx=99.0 cy=61.0 r=2.5 /><circle cx=115.0 cy=57.0 r=2.5 /><circle cx=119.0 cy=61.0 r=2.5 /><circle cx=117.0 cy=66.0 r=2.5 /><circle cx=130.0 cy=61.0 r=2.5 /><circle cx=135.0 cy=61.0 r=2.5 /><circle cx=152.0 cy=60.0 r=2.5 /><circle cx=190.0 cy=61.0 r=2.5 /><circle cx=192.0 cy=61.0 r=2.5 /><circle cx=170.2 cy=59.7 r=2.5 /><circle cx=180.0 cy=64.0 r=2.5 /><circle cx=177.1 cy=62.2 r=2.5 /><circle cx=167.7 cy=59.4 r=2.5 /><circle cx=167.2 cy=58.4 r=2.5 /><circle cx=175.8 cy=60.4 r=2.5 /><circle cx=177.2 cy=60.3 r=2.5 /><circle cx=179.2 cy=63.1 r=2.5 /><circle cx=200.0 cy=59.3 r=2.5 /><circle cx=220.0 cy=60.8 r=2.5 /><circle cx=221.6 cy=60.4 r=2.5 /><circle cx=201.6 cy=61.8 r=2.5 /><circle cx=217.1 cy=59.6 r=2.5 /><circle cx=201.9 cy=60.0 r=2.5 /><circle cx=221.2 cy=62.5 r=2.5 /><circle cx=202.6 cy=59.5 r=2.5 /><circle cx=211.6 cy=61.9 r=2.5 /><circle cx=211.4 cy=60.5 r=2.5 /><circle cx=212.6 cy=59.6 r=2.5 /><circle cx=221.7 cy=62.8 r=2.5 /><circle cx=213.6 cy=63.3 r=2.5 /><circle cx=48.5 cy=71.0 r=2.5 /><circle cx=97.0 cy=73.5 r=2.5 /><circle cx=85.0 cy=70.0 r=2.5 /><circle cx=135.0 cy=69.0 r=2.5 /><circle cx=163.0 cy=69.0 r=2.5 /><circle cx=176.0 cy=74.0 r=2.5 /><circle cx=213.0 cy=72.0 r=2.5 /><circle cx=235.0 cy=66.0 r=2.5 /><circle cx=241.0 cy=67.0 r=2.5 /><circle cx=258.0 cy=67.0 r=2.5 /><circle cx=270.0 cy=68.0 r=2.5 /><circle cx=274.0 cy=72.0 r=2.5 /><circle cx=235.0 cy=75.0 r=2.5 /><circle cx=90.0 cy=66.0 r=2.5 /><circle cx=56.0 cy=67.0 r=2.5 /><circle cx=225.0 cy=70.0 r=2.5 /><circle cx=250.0 cy=73.0 r=2.5 /><circle cx=142.9 cy=83.5 r=2.5 /><circle cx=140.9 cy=80.6 r=2.5 /><circle cx=220.0 cy=82.0 r=2.5 /><circle cx=51.9 cy=95.0 r=2.5 /><circle cx=46.4 cy=88.4 r=2.5 /><circle cx=45.2 cy=98.9 r=2.5 /><circle cx=52.0 cy=99.6 r=2.5 /><circle cx=45.2 cy=95.6 r=2.5 /><circle cx=49.8 cy=96.8 r=2.5 /><circle cx=48.2 cy=100.0 r=2.5 /><circle cx=45.8 cy=94.6 r=2.5 /><circle cx=95.8 cy=98.5 r=2.5 /><circle cx=95.8 cy=95.6 r=2.5 /><circle cx=96.7 cy=98.7 r=2.5 /><circle cx=89.6 cy=95.3 r=2.5 /><circle cx=98.4 cy=98.1 r=2.5 /><circle cx=90.7 cy=96.9 r=2.5 /><circle cx=97.8 cy=93.6 r=2.5 /><circle cx=94.0 cy=90.7 r=2.5 /><circle cx=93.3 cy=94.1 r=2.5 /><circle cx=85.3 cy=94.6 r=2.5 /><circle cx=172.2 cy=93.9 r=2.5 /><circle cx=169.5 cy=91.7 r=2.5 /><circle cx=166.6 cy=89.3 r=2.5 /><circle cx=180.5 cy=94.1 r=2.5 /><circle cx=182.2 cy=88.8 r=2.5 /><circle cx=175.4 cy=88.2 r=2.5 /><circle cx=165.1 cy=90.0 r=2.5 /><circle cx=181.3 cy=93.5 r=2.5 /><circle cx=178.4 cy=94.5 r=2.5 /><circle cx=168.4 cy=86.7 r=2.5 /><circle cx=172.4 cy=87.8 r=2.5 /><circle cx=166.9 cy=89.1 r=2.5 /><circle cx=214.2 cy=92.0 r=2.5 /><circle cx=209.0 cy=93.5 r=2.5 /><circle cx=205.2 cy=89.0 r=2.5 /><circle cx=210.9 cy=88.2 r=2.5 /><circle cx=215.8 cy=89.7 r=2.5 /><circle cx=45.0 cy=108.0 r=2.5 /><circle cx=76.0 cy=100.0 r=2.5 /><circle cx=76.0 cy=120.0 r=2.5 /><circle cx=93.0 cy=101.0 r=2.5 /><circle cx=101.0 cy=108.0 r=2.5 /><circle cx=93.0 cy=113.0 r=2.5 /><circle cx=95.0 cy=120.0 r=2.5 /><circle cx=50.0 cy=123.0 r=2.5 /><circle cx=133.0 cy=106.0 r=2.5 /><circle cx=161.0 cy=107.0 r=2.5 /><circle cx=178.0 cy=97.0 r=2.5 /><circle cx=195.0 cy=107.0 r=2.5 /><circle cx=204.0 cy=106.0 r=2.5 /><circle cx=213.0 cy=105.0 r=2.5 /><circle cx=162.0 cy=116.0 r=2.5 /><circle cx=166.0 cy=115.0 r=2.5 /><circle cx=184.0 cy=118.0 r=2.5 /><circle cx=218.0 cy=112.0 r=2.5 /><circle cx=222.0 cy=90.0 r=2.5 /><circle cx=214.0 cy=95.0 r=2.5 /><circle cx=221.0 cy=99.0 r=2.5 /><circle cx=216.0 cy=110.0 r=2.5 /><circle cx=263.0 cy=112.0 r=2.5 /><circle cx=273.0 cy=112.0 r=2.5 /><circle cx=273.0 cy=118.0 r=2.5 /><circle cx=263.0 cy=92.0 r=2.5 /><circle cx=275.0 cy=92.0 r=2.5 /><circle cx=142.0 cy=125.0 r=2.5 /><circle cx=155.0 cy=127.0 r=2.5 /><circle cx=60.0 cy=95.0 r=2.5 /><circle cx=70.0 cy=98.0 r=2.5 /><circle cx=120.0 cy=103.0 r=2.5 /><circle cx=128.0 cy=115.0 r=2.5 /><circle cx=172.0 cy=105.0 r=2.5 /><circle cx=55.0 cy=111.0 r=2.5 /><circle cx=81.0 cy=108.0 r=2.5 /><circle cx=255.1 cy=107.8 r=2.5 /><circle cx=260.0 cy=95.5 r=2.5 /><circle cx=256.9 cy=102.5 r=2.5 /><circle cx=259.9 cy=109.9 r=2.5 /><circle cx=259.3 cy=119.8 r=2.5 /><circle cx=257.8 cy=121.3 r=2.5 /><circle cx=261.3 cy=91.7 r=2.5 /><circle cx=261.5 cy=118.3 r=2.5 /><circle cx=255.9 cy=107.0 r=2.5 /><circle cx=259.4 cy=126.2 r=2.5 /><circle cx=257.6 cy=111.9 r=2.5 /><circle cx=261.2 cy=121.5 r=2.5 /><circle cx=261.6 cy=107.5 r=2.5 /><circle cx=259.6 cy=96.6 r=2.5 /><circle cx=45.0 cy=139.0 r=2.5 /><circle cx=48.0 cy=128.0 r=2.5 /><circle cx=60.0 cy=127.0 r=2.5 /><circle cx=80.0 cy=128.0 r=2.5 /><circle cx=86.0 cy=127.0 r=2.5 /><circle cx=52.0 cy=138.0 r=2.5 /><circle cx=90.0 cy=139.0 r=2.5 /><circle cx=102.8 cy=149.5 r=2.5 /><circle cx=97.9 cy=145.4 r=2.5 /><circle cx=95.5 cy=148.0 r=2.5 /><circle cx=101.4 cy=135.7 r=2.5 /><circle cx=92.9 cy=137.7 r=2.5 /><circle cx=98.1 cy=144.9 r=2.5 /><circle cx=97.4 cy=128.6 r=2.5 /><circle cx=100.9 cy=129.4 r=2.5 /><circle cx=110.8 cy=126.8 r=2.5 /><circle cx=108.0 cy=144.1 r=2.5 /><circle cx=106.8 cy=126.2 r=2.5 /><circle cx=109.1 cy=142.3 r=2.5 /><circle cx=111.0 cy=141.3 r=2.5 /><circle cx=111.7 cy=135.8 r=2.5 /><circle cx=111.7 cy=124.4 r=2.5 /><circle cx=107.3 cy=136.7 r=2.5 /><circle cx=255.6 cy=143.7 r=2.5 /><circle cx=258.7 cy=131.4 r=2.5 /><circle cx=260.6 cy=133.6 r=2.5 /><circle cx=255.8 cy=122.9 r=2.5 /><circle cx=260.6 cy=154.0 r=2.5 /><circle cx=254.9 cy=151.0 r=2.5 /><circle cx=261.7 cy=131.5 r=2.5 /><circle cx=258.2 cy=112.1 r=2.5 /><circle cx=257.8 cy=130.2 r=2.5 /><circle cx=258.4 cy=101.7 r=2.5 /><circle cx=261.7 cy=131.0 r=2.5 /><circle cx=256.6 cy=148.1 r=2.5 /><circle cx=258.1 cy=129.5 r=2.5 /><circle cx=259.2 cy=104.0 r=2.5 /><circle cx=257.8 cy=124.8 r=2.5 /><circle cx=261.6 cy=155.4 r=2.5 /><circle cx=255.4 cy=128.4 r=2.5 /><circle cx=254.1 cy=126.0 r=2.5 /><circle cx=260.3 cy=154.0 r=2.5 /><circle cx=257.3 cy=119.0 r=2.5 /><circle cx=254.7 cy=137.1 r=2.5 /><circle cx=261.3 cy=107.8 r=2.5 /><circle cx=274.6 cy=130.7 r=2.5 /><circle cx=268.1 cy=137.3 r=2.5 /><circle cx=273.6 cy=140.3 r=2.5 /><circle cx=269.9 cy=149.8 r=2.5 /><circle cx=267.2 cy=153.4 r=2.5 /><circle cx=267.4 cy=146.3 r=2.5 /><circle cx=268.8 cy=136.3 r=2.5 /><circle cx=271.8 cy=144.0 r=2.5 /><circle cx=270.1 cy=143.2 r=2.5 /><circle cx=271.8 cy=135.1 r=2.5 /><circle cx=268.2 cy=150.2 r=2.5 /><circle cx=273.0 cy=146.9 r=2.5 /><circle cx=275.4 cy=149.6 r=2.5 /><circle cx=275.4 cy=137.4 r=2.5 /><circle cx=274.1 cy=155.9 r=2.5 /><circle cx=275.9 cy=140.1 r=2.5 /><circle cx=269.5 cy=159.5 r=2.5 /><circle cx=268.4 cy=161.9 r=2.5 /><circle cx=275.8 cy=134.3 r=2.5 /><circle cx=268.6 cy=153.3 r=2.5 /><circle cx=215.0 cy=142.0 r=2.5 /><circle cx=220.0 cy=136.0 r=2.5 /><circle cx=240.0 cy=143.0 r=2.5 /><circle cx=222.0 cy=131.0 r=2.5 /><circle cx=226.0 cy=131.0 r=2.5 /><circle cx=250.0 cy=131.0 r=2.5 /><circle cx=235.0 cy=140.0 r=2.5 /><circle cx=245.0 cy=135.0 r=2.5 /><circle cx=270.0 cy=132.0 r=2.5 />
</g>
<g fill="#000080" fill-opacity="0.280" stroke="#000080" stroke-opacity="0.4" stroke-width="1">
<circle cx=64.0 cy=28.0 r=2.5 /><circle cx=99.5 cy=30.0 r=2.5 /><circle cx=140.0 cy=30.0 r=2.5 /><circle cx=140.0 cy=30.0 r=2.5 /><circle cx=94.0 cy=54.0 r=2.5 /><circle cx=49.7 cy=61.6 r=2.5 /><circle cx=53.0 cy=60.2 r=2.5 /><circle cx=49.5 cy=60.9 r=2.5 /><circle cx=64.2 cy=62.5 r=2.5 /><circle cx=61.5 cy=63.9 r=2.5 /><circle cx=60.2 cy=65.7 r=2.5 /><circle cx=144.0 cy=60.0 r=2.5 /><circle cx=168.0 cy=61.0 r=2.5 /><circle cx=175.0 cy=61.0 r=2.5 /><circle cx=208.0 cy=61.0 r=2.5 /><circle cx=215.0 cy=61.0 r=2.5 /><circle cx=254.0 cy=60.0 r=2.5 /><circle cx=263.0 cy=61.0 r=2.5 /><circle cx=268.0 cy=61.0 r=2.5 /><circle cx=212.5 cy=72.0 r=2.5 /><circle cx=112.5 cy=81.6 r=2.5 /><circle cx=120.3 cy=82.6 r=2.5 /><circle cx=111.2 cy=84.0 r=2.5 /><circle cx=112.6 cy=81.0 r=2.5 /><circle cx=119.3 cy=81.3 r=2.5 /><circle cx=113.6 cy=80.3 r=2.5 /><circle cx=129.7 cy=82.3 r=2.5 /><circle cx=130.9 cy=82.4 r=2.5 /><circle cx=132.0 cy=81.8 r=2.5 /><circle cx=136.7 cy=81.9 r=2.5 /><circle cx=173.5 cy=83.3 r=2.5 /><circle cx=163.0 cy=80.8 r=2.5 /><circle cx=170.8 cy=83.8 r=2.5 /><circle cx=162.1 cy=83.8 r=2.5 /><circle cx=173.1 cy=82.4 r=2.5 /><circle cx=165.7 cy=80.4 r=2.5 /><circle cx=159.6 cy=83.9 r=2.5 /><circle cx=189.5 cy=82.8 r=2.5 /><circle cx=190.3 cy=83.3 r=2.5 /><circle cx=203.9 cy=81.2 r=2.5 /><circle cx=187.0 cy=82.9 r=2.5 /><circle cx=182.8 cy=80.9 r=2.5 /><circle cx=202.4 cy=83.4 r=2.5 /><circle cx=204.6 cy=81.1 r=2.5 /><circle cx=216.7 cy=80.8 r=2.5 /><circle cx=180.7 cy=81.1 r=2.5 /><circle cx=197.8 cy=80.2 r=2.5 /><circle cx=187.1 cy=81.5 r=2.5 /><circle cx=202.9 cy=80.5 r=2.5 /><circle cx=194.5 cy=83.6 r=2.5 /><circle cx=219.2 cy=82.6 r=2.5 /><circle cx=121.9 cy=93.8 r=2.5 /><circle cx=118.7 cy=88.9 r=2.5 /><circle cx=118.8 cy=90.8 r=2.5 /><circle cx=115.3 cy=93.4 r=2.5 /><circle cx=111.0 cy=92.5 r=2.5 /><circle cx=110.4 cy=91.0 r=2.5 /><circle cx=115.8 cy=87.3 r=2.5 /><circle cx=118.4 cy=90.0 r=2.5 /><circle cx=132.9 cy=91.5 r=2.5 /><circle cx=130.0 cy=86.1 r=2.5 /><circle cx=130.4 cy=90.1 r=2.5 /><circle cx=129.6 cy=87.0 r=2.5 /><circle cx=135.2 cy=90.0 r=2.5 /><circle cx=174.4 cy=89.5 r=2.5 /><circle cx=169.7 cy=91.9 r=2.5 /><circle cx=179.7 cy=89.2 r=2.5 /><circle cx=166.1 cy=86.2 r=2.5 /><circle cx=178.1 cy=86.3 r=2.5 /><circle cx=187.0 cy=107.0 r=2.5 /><circle cx=258.0 cy=100.0 r=2.5 /><circle cx=257.0 cy=120.0 r=2.5 /><circle cx=187.0 cy=131.0 r=2.5 /><circle cx=194.0 cy=131.0 r=2.5 /><circle cx=199.0 cy=132.0 r=2.5 /><circle cx=200.0 cy=131.0 r=2.5 /><circle cx=163.0 cy=136.0 r=2.5 /><circle cx=168.0 cy=140.0 r=2.5 /><circle cx=157.0 cy=140.0 r=2.5 />
</g>
<g fill="#000080" fill-opacity="0.420" stroke="#000080" stroke-opacity="0.6" stroke-width="1">
<circle cx=94.0 cy=51.0 r=2.5 /><circle cx=211.0 cy=48.0 r=2.5 /><circle cx=230.0 cy=48.0 r=2.5 /><circle cx=260.0 cy=48.0 r=2.5 /><circle cx=87.0 cy=61.0 r=2.5 /><circle cx=231.6 cy=61.3 r=2.5 /><circle cx=231.4 cy=60.1 r=2.5 /><circle cx=229.0 cy=60.4 r=2.5 /><circle cx=232.2 cy=63.3 r=2.5 /><circle cx=67.0 cy=85.0 r=2.5 /><circle cx=142.0 cy=89.0 r=2.5 /><circle cx=145.0 cy=116.0 r=2.5 /><circle cx=156.0 cy=113.0 r=2.5 /><circle cx=208.0 cy=114.0 r=2.5 /><circle cx=111.0 cy=140.0 r=2.5 /><circle cx=253.0 cy=131.0 r=2.5 /><circle cx=241.0 cy=133.0 r=2.5 /><circle cx=142.0 cy=131.0 r=2.5 /><circle cx=156.0 cy=131.0 r=2.5 />
</g>
<g fill="#000080" fill-opacity="0.560" stroke="#000080" stroke-opacity="0.8" stroke-width="1">
<circle cx=112.5 cy=28.0 r=2.5 /><circle cx=168.5 cy=28.0 r=2.5 /><circle cx=232.0 cy=28.0 r=2.5 /><circle cx=64.0 cy=60.0 r=2.5 /><circle cx=74.0 cy=60.0 r=2.5 /><circle cx=87.0 cy=59.0 r=2.5 /><circle cx=110.5 cy=59.0 r=2.5 /><circle cx=139.0 cy=63.0 r=2.5 /><circle cx=157.5 cy=63.0 r=2.5 /><circle cx=184.0 cy=64.0 r=2.5 /><circle cx=241.0 cy=61.0 r=2.5 /><circle cx=259.0 cy=59.0 r=2.5 /><circle cx=271.0 cy=61.0 r=2.5 /><circle cx=173.0 cy=82.0 r=2.5 /><circle cx=200.0 cy=82.0 r=2.5 /><circle cx=209.0 cy=82.0 r=2.5 /><circle cx=211.0 cy=82.0 r=2.5 /><circle cx=66.0 cy=88.0 r=2.5 /><circle cx=194.0 cy=92.0 r=2.5 /><circle cx=63.5 cy=106.0 r=2.5 /><circle cx=110.0 cy=106.0 r=2.5 /><circle cx=112.0 cy=113.0 r=2.5 /><circle cx=233.0 cy=95.0 r=2.5 /><circle cx=233.0 cy=106.0 r=2.5 /><circle cx=233.0 cy=86.0 r=2.5 /><circle cx=228.0 cy=114.0 r=2.5 /><circle cx=242.0 cy=92.0 r=2.5 /><circle cx=108.0 cy=131.0 r=2.5 /><circle cx=109.0 cy=138.0 r=2.5 /><circle cx=260.0 cy=153.0 r=2.5 /><circle cx=259.0 cy=137.0 r=2.5 /><circle cx=258.0 cy=141.0 r=2.5 />
</g>
<g fill="#000080" fill-opacity="0.665" stroke="#000080" stroke-opacity="0.95" stroke-width="1">
<circle cx=62.5 cy=116.5 r=2.5 /><circle cx=84.7 cy=117.2 r=2.5 /><circle cx=83.8 cy=116.2 r=2.5 /><circle cx=83.5 cy=115.9 r=2.5 /><circle cx=199.9 cy=113.6 r=2.5 /><circle cx=198.7 cy=115.4 r=2.5 /><circle cx=198.4 cy=116.1 r=2.5 /><circle cx=232.0 cy=116.0 r=2.5 /><circle cx=253.7 cy=114.2 r=2.5 /><circle cx=253.0 cy=114.8 r=2.5 /><circle cx=254.5 cy=118.1 r=2.5 /><circle cx=146.0 cy=156.5 r=2.5 />
</g>
</g>
<path d="M42 82H276" stroke="#00ffff" stroke-width="1.6" stroke-dasharray="6 2.4"/>
<g clip-path="url(#c1)">
</g>
<path d="M32.5 21H288M32.5 21V187.5H288" fill="none" stroke="#222" stroke-width="1.2"/>
<path d="M44.0 187v3" stroke="#333" stroke-width="0.9"/>
<text x="44.0" y="199" font-size="8.3" text-anchor="middle">0</text>
<path d="M84.66666666666666 187v3" stroke="#333" stroke-width="0.9"/>
<text x="84.66666666666666" y="199" font-size="8.3" text-anchor="middle">2000</text>
<path d="M125.33333333333333 187v3" stroke="#333" stroke-width="0.9"/>
<text x="125.33333333333333" y="199" font-size="8.3" text-anchor="middle">4000</text>
<path d="M166.0 187v3" stroke="#333" stroke-width="0.9"/>
<text x="166.0" y="199" font-size="8.3" text-anchor="middle">6000</text>
<path d="M206.66666666666666 187v3" stroke="#333" stroke-width="0.9"/>
<text x="206.66666666666666" y="199" font-size="8.3" text-anchor="middle">8000</text>
<path d="M247.33333333333334 187v3" stroke="#333" stroke-width="0.9"/>
<text x="247.33333333333334" y="199" font-size="8.3" text-anchor="middle">10000</text>
<path d="M288.0 187v3" stroke="#333" stroke-width="0.9"/>
<text x="288.0" y="199" font-size="8.3" text-anchor="middle">12000</text>
<path d="M32.3 159h-2.5" stroke="#555" stroke-width="0.8"/>
<text x="21.799999999999997" y="162.6" font-size="8.3" text-anchor="end">10</text>
<text x="21.499999999999996" y="159.2" font-size="5.8">1</text>
<path d="M32.3 124h-2.5" stroke="#555" stroke-width="0.8"/>
<text x="21.799999999999997" y="127.6" font-size="8.3" text-anchor="end">10</text>
<text x="21.499999999999996" y="124.2" font-size="5.8">3</text>
<path d="M32.3 89.3h-2.5" stroke="#555" stroke-width="0.8"/>
<text x="21.799999999999997" y="92.89999999999999" font-size="8.3" text-anchor="end">10</text>
<text x="21.499999999999996" y="89.5" font-size="5.8">5</text>
<path d="M32.3 55h-2.5" stroke="#555" stroke-width="0.8"/>
<text x="21.799999999999997" y="58.6" font-size="8.3" text-anchor="end">10</text>
<text x="21.499999999999996" y="55.2" font-size="5.8">7</text>
<text x="160.5" y="17" font-size="10.3" text-anchor="middle" >GLUE with Robust Error (Training data)</text>
<text x="160" y="209" font-size="8.6" text-anchor="middle" >Time</text>
<text x="0" y="0" font-size="8.6" text-anchor="middle" transform="translate(7 104.5) rotate(-90)">Max Robust Error</text>
<rect x="35.5" y="169" width="65.5" height="13.5" rx="1.5" fill="#fff" fill-opacity="0.8" stroke="#ddd" stroke-width="0.8"/>
<path d="M37.5 175H52.5" stroke="#00ffff" stroke-width="1.6" stroke-dasharray="6 2.4"/>
<text x="61" y="178.75" font-size="8.2">Threshold</text>
<text x="150" y="244" font-size="24" text-anchor="middle" style='font-family:"Liberation Serif", serif' letter-spacing="0.9">(a) WADI train</text>
<g clip-path="url(#c2)" class="w">
<path d="M546 42L558 42" fill="none" stroke="#000080" stroke-opacity="0.80" stroke-width="3.5" stroke-linecap="round" stroke-linejoin="round"/>
<g fill="#000080" fill-opacity="0.48" stroke="#000080" stroke-opacity="0.48" stroke-width="1"><circle cx=546.2 cy=42.3 r=2.5 /><circle cx=548.0 cy=41.4 r=2.5 /><circle cx=548.7 cy=42.6 r=2.5 /><circle cx=549.4 cy=42.0 r=2.5 /><circle cx=550.9 cy=41.6 r=2.5 /><circle cx=553.1 cy=42.0 r=2.5 /><circle cx=554.1 cy=40.8 r=2.5 /><circle cx=555.9 cy=41.7 r=2.5 /><circle cx=556.8 cy=41.6 r=2.5 /><circle cx=558.5 cy=42.4 r=2.5 /></g>
<path d="M438 99L438 117" fill="none" stroke="#000080" stroke-opacity="0.95" stroke-width="3.5" stroke-linecap="round" stroke-linejoin="round"/>
<g fill="#000080" fill-opacity="0.57" stroke="#000080" stroke-opacity="0.57" stroke-width="1"><circle cx=438.1 cy=99.3 r=2.5 /><circle cx=438.2 cy=100.8 r=2.5 /><circle cx=437.9 cy=101.8 r=2.5 /><circle cx=437.7 cy=102.4 r=2.5 /><circle cx=438.2 cy=104.7 r=2.5 /><circle cx=438.0 cy=106.1 r=2.5 /><circle cx=438.2 cy=106.9 r=2.5 /><circle cx=438.2 cy=108.6 r=2.5 /><circle cx=438.0 cy=110.4 r=2.5 /><circle cx=437.9 cy=111.5 r=2.5 /><circle cx=437.8 cy=112.7 r=2.5 /><circle cx=438.0 cy=115.2 r=2.5 /><circle cx=438.0 cy=116.2 r=2.5 /><circle cx=437.6 cy=117.0 r=2.5 /></g>
<path d="M384 132L443 132" fill="none" stroke="#000080" stroke-opacity="0.95" stroke-width="5.0" stroke-linecap="round" stroke-linejoin="round"/>
<g fill="#000080" fill-opacity="0.57" stroke="#000080" stroke-opacity="0.57" stroke-width="1"><circle cx=384.9 cy=132.7 r=2.5 /><circle cx=385.1 cy=132.3 r=2.5 /><circle cx=386.3 cy=131.5 r=2.5 /><circle cx=388.1 cy=132.5 r=2.5 /><circle cx=389.7 cy=131.4 r=2.5 /><circle cx=390.2 cy=131.7 r=2.5 /><circle cx=392.2 cy=132.2 r=2.5 /><circle cx=392.7 cy=132.1 r=2.5 /><circle cx=394.9 cy=131.3 r=2.5 /><circle cx=395.6 cy=132.4 r=2.5 /><circle cx=396.9 cy=130.7 r=2.5 /><circle cx=398.6 cy=131.5 r=2.5 /><circle cx=399.1 cy=131.3 r=2.5 /><circle cx=401.1 cy=131.8 r=2.5 /><circle cx=402.0 cy=131.1 r=2.5 /><circle cx=403.6 cy=132.5 r=2.5 /><circle cx=405.2 cy=132.3 r=2.5 /><circle cx=406.1 cy=131.7 r=2.5 /><circle cx=407.5 cy=132.0 r=2.5 /><circle cx=409.2 cy=132.1 r=2.5 /><circle cx=410.7 cy=130.5 r=2.5 /><circle cx=411.5 cy=131.5 r=2.5 /><circle cx=412.2 cy=131.2 r=2.5 /><circle cx=414.6 cy=131.8 r=2.5 /><circle cx=414.8 cy=132.7 r=2.5 /><circle cx=416.5 cy=131.4 r=2.5 /><circle cx=418.0 cy=131.9 r=2.5 /><circle cx=419.5 cy=132.5 r=2.5 /><circle cx=419.9 cy=132.4 r=2.5 /><circle cx=421.6 cy=131.2 r=2.5 /><circle cx=423.6 cy=131.6 r=2.5 /><circle cx=424.7 cy=131.4 r=2.5 /><circle cx=426.2 cy=132.8 r=2.5 /><circle cx=426.8 cy=130.9 r=2.5 /><circle cx=428.4 cy=131.8 r=2.5 /><circle cx=429.2 cy=132.2 r=2.5 /><circle cx=430.6 cy=132.2 r=2.5 /><circle cx=432.9 cy=132.5 r=2.5 /><circle cx=433.8 cy=131.9 r=2.5 /><circle cx=434.6 cy=132.1 r=2.5 /><circle cx=436.6 cy=131.2 r=2.5 /><circle cx=438.5 cy=133.0 r=2.5 /><circle cx=438.6 cy=132.8 r=2.5 /><circle cx=440.1 cy=133.4 r=2.5 /><circle cx=442.1 cy=131.4 r=2.5 /><circle cx=443.2 cy=132.2 r=2.5 /></g>
<path d="M455 118L455 126" fill="none" stroke="#ff0000" stroke-opacity="0.95" stroke-width="3.0" stroke-linecap="round" stroke-linejoin="round"/>
<g fill="#ff0000" fill-opacity="0.57" stroke="#ff0000" stroke-opacity="0.57" stroke-width="1"><circle cx=454.9 cy=118.2 r=2.5 /><circle cx=454.5 cy=119.4 r=2.5 /><circle cx=455.5 cy=120.8 r=2.5 /><circle cx=454.7 cy=121.9 r=2.5 /><circle cx=454.8 cy=123.4 r=2.5 /><circle cx=454.4 cy=124.9 r=2.5 /><circle cx=456.1 cy=126.0 r=2.5 /></g>
<path d="M446 152L446 159" fill="none" stroke="#000080" stroke-opacity="0.95" stroke-width="9.5" stroke-linecap="round" stroke-linejoin="round"/>
<g fill="#000080" fill-opacity="0.57" stroke="#000080" stroke-opacity="0.57" stroke-width="1"><circle cx=448.4 cy=151.9 r=2.5 /><circle cx=444.0 cy=154.3 r=2.5 /><circle cx=448.5 cy=155.0 r=2.5 /><circle cx=447.1 cy=155.8 r=2.5 /><circle cx=445.7 cy=157.5 r=2.5 /><circle cx=445.6 cy=158.5 r=2.5 /></g>
<path d="M453 169L468 167" fill="none" stroke="#000080" stroke-opacity="0.95" stroke-width="9.5" stroke-linecap="round" stroke-linejoin="round"/>
<g fill="#000080" fill-opacity="0.57" stroke="#000080" stroke-opacity="0.57" stroke-width="1"><circle cx=452.2 cy=166.6 r=2.5 /><circle cx=454.8 cy=166.5 r=2.5 /><circle cx=455.1 cy=166.3 r=2.5 /><circle cx=457.4 cy=167.5 r=2.5 /><circle cx=459.1 cy=169.0 r=2.5 /><circle cx=460.5 cy=170.0 r=2.5 /><circle cx=461.5 cy=165.4 r=2.5 /><circle cx=462.4 cy=169.6 r=2.5 /><circle cx=464.5 cy=166.1 r=2.5 /><circle cx=465.5 cy=165.4 r=2.5 /><circle cx=465.9 cy=165.7 r=2.5 /><circle cx=468.3 cy=166.9 r=2.5 /></g>
<path d="M465 164L487 164" fill="none" stroke="#000080" stroke-opacity="0.95" stroke-width="3.5" stroke-linecap="round" stroke-linejoin="round"/>
<g fill="#000080" fill-opacity="0.57" stroke="#000080" stroke-opacity="0.57" stroke-width="1"><circle cx=464.8 cy=164.2 r=2.5 /><circle cx=467.0 cy=163.7 r=2.5 /><circle cx=466.9 cy=163.9 r=2.5 /><circle cx=469.3 cy=164.7 r=2.5 /><circle cx=470.2 cy=164.1 r=2.5 /><circle cx=471.6 cy=164.0 r=2.5 /><circle cx=472.7 cy=164.3 r=2.5 /><circle cx=474.7 cy=164.1 r=2.5 /><circle cx=475.8 cy=164.5 r=2.5 /><circle cx=476.8 cy=163.5 r=2.5 /><circle cx=478.5 cy=164.0 r=2.5 /><circle cx=479.9 cy=164.7 r=2.5 /><circle cx=482.0 cy=164.1 r=2.5 /><circle cx=482.9 cy=164.2 r=2.5 /><circle cx=484.4 cy=164.0 r=2.5 /><circle cx=485.2 cy=164.6 r=2.5 /><circle cx=487.1 cy=163.7 r=2.5 /></g>
<path d="M491 170L496 172" fill="none" stroke="#000080" stroke-opacity="0.95" stroke-width="6.5" stroke-linecap="round" stroke-linejoin="round"/>
<g fill="#000080" fill-opacity="0.57" stroke="#000080" stroke-opacity="0.57" stroke-width="1"><circle cx=491.0 cy=170.6 r=2.5 /><circle cx=492.1 cy=170.7 r=2.5 /><circle cx=493.8 cy=169.6 r=2.5 /><circle cx=494.2 cy=170.9 r=2.5 /><circle cx=496.5 cy=170.9 r=2.5 /></g>
<path d="M499 164L530 162" fill="none" stroke="#000080" stroke-opacity="0.95" stroke-width="6.5" stroke-linecap="round" stroke-linejoin="round"/>
<g fill="#000080" fill-opacity="0.57" stroke="#000080" stroke-opacity="0.57" stroke-width="1"><circle cx=499.2 cy=164.4 r=2.5 /><circle cx=500.6 cy=165.4 r=2.5 /><circle cx=501.0 cy=163.6 r=2.5 /><circle cx=503.3 cy=164.7 r=2.5 /><circle cx=504.8 cy=164.7 r=2.5 /><circle cx=505.2 cy=162.9 r=2.5 /><circle cx=506.6 cy=162.5 r=2.5 /><circle cx=508.5 cy=162.7 r=2.5 /><circle cx=510.3 cy=163.1 r=2.5 /><circle cx=511.1 cy=162.7 r=2.5 /><circle cx=512.1 cy=163.7 r=2.5 /><circle cx=513.4 cy=164.8 r=2.5 /><circle cx=514.8 cy=162.1 r=2.5 /><circle cx=516.6 cy=162.4 r=2.5 /><circle cx=518.7 cy=161.7 r=2.5 /><circle cx=519.4 cy=163.7 r=2.5 /><circle cx=520.8 cy=163.9 r=2.5 /><circle cx=521.4 cy=161.3 r=2.5 /><circle cx=522.7 cy=160.7 r=2.5 /><circle cx=524.6 cy=162.9 r=2.5 /><circle cx=525.6 cy=160.8 r=2.5 /><circle cx=527.0 cy=160.9 r=2.5 /><circle cx=528.7 cy=161.3 r=2.5 /><circle cx=530.3 cy=161.5 r=2.5 /></g>
<path d="M532 163L561 163" fill="none" stroke="#000080" stroke-opacity="0.95" stroke-width="9.5" stroke-linecap="round" stroke-linejoin="round"/>
<g fill="#000080" fill-opacity="0.57" stroke="#000080" stroke-opacity="0.57" stroke-width="1"><circle cx=532.0 cy=163.3 r=2.5 /><circle cx=533.6 cy=163.0 r=2.5 /><circle cx=534.4 cy=164.6 r=2.5 /><circle cx=536.0 cy=165.0 r=2.5 /><circle cx=537.5 cy=162.1 r=2.5 /><circle cx=538.4 cy=163.0 r=2.5 /><circle cx=539.7 cy=165.2 r=2.5 /><circle cx=541.4 cy=162.1 r=2.5 /><circle cx=543.0 cy=162.7 r=2.5 /><circle cx=543.7 cy=162.9 r=2.5 /><circle cx=545.6 cy=162.9 r=2.5 /><circle cx=546.7 cy=162.9 r=2.5 /><circle cx=547.6 cy=163.3 r=2.5 /><circle cx=548.6 cy=166.0 r=2.5 /><circle cx=550.8 cy=161.1 r=2.5 /><circle cx=550.9 cy=166.2 r=2.5 /><circle cx=553.5 cy=160.6 r=2.5 /><circle cx=554.1 cy=160.4 r=2.5 /><circle cx=555.8 cy=159.8 r=2.5 /><circle cx=557.3 cy=162.0 r=2.5 /><circle cx=558.8 cy=164.4 r=2.5 /><circle cx=560.0 cy=162.9 r=2.5 /><circle cx=560.7 cy=164.5 r=2.5 /></g>
<path d="M522 131L561 131" fill="none" stroke="#000080" stroke-opacity="0.40" stroke-width="3.5" stroke-linecap="round" stroke-linejoin="round"/>
<g fill="#000080" fill-opacity="0.24" stroke="#000080" stroke-opacity="0.24" stroke-width="1"><circle cx=521.9 cy=132.3 r=2.5 /><circle cx=523.5 cy=131.2 r=2.5 /><circle cx=524.8 cy=131.7 r=2.5 /><circle cx=525.6 cy=130.5 r=2.5 /><circle cx=527.4 cy=131.4 r=2.5 /><circle cx=528.2 cy=131.3 r=2.5 /><circle cx=528.7 cy=130.1 r=2.5 /><circle cx=530.7 cy=130.7 r=2.5 /><circle cx=532.7 cy=131.2 r=2.5 /><circle cx=533.7 cy=130.3 r=2.5 /><circle cx=535.2 cy=130.8 r=2.5 /><circle cx=536.1 cy=131.5 r=2.5 /><circle cx=537.6 cy=131.5 r=2.5 /><circle cx=539.6 cy=131.4 r=2.5 /><circle cx=540.0 cy=131.1 r=2.5 /><circle cx=541.3 cy=131.5 r=2.5 /><circle cx=543.2 cy=130.9 r=2.5 /><circle cx=544.1 cy=130.8 r=2.5 /><circle cx=545.1 cy=130.3 r=2.5 /><circle cx=546.6 cy=130.9 r=2.5 /><circle cx=548.0 cy=130.4 r=2.5 /><circle cx=548.9 cy=130.7 r=2.5 /><circle cx=551.1 cy=131.2 r=2.5 /><circle cx=551.5 cy=131.1 r=2.5 /><circle cx=553.5 cy=131.2 r=2.5 /><circle cx=554.3 cy=130.9 r=2.5 /><circle cx=555.9 cy=130.8 r=2.5 /><circle cx=557.3 cy=130.6 r=2.5 /><circle cx=557.7 cy=130.4 r=2.5 /><circle cx=559.3 cy=131.4 r=2.5 /><circle cx=560.8 cy=131.6 r=2.5 /></g>
<path d="M555 131L560 131" fill="none" stroke="#000080" stroke-opacity="0.95" stroke-width="3.5" stroke-linecap="round" stroke-linejoin="round"/>
<g fill="#000080" fill-opacity="0.57" stroke="#000080" stroke-opacity="0.57" stroke-width="1"><circle cx=554.9 cy=130.7 r=2.5 /><circle cx=556.4 cy=131.6 r=2.5 /><circle cx=558.0 cy=131.1 r=2.5 /><circle cx=559.8 cy=130.6 r=2.5 /></g>
<path d="M581 131L595 131" fill="none" stroke="#000080" stroke-opacity="0.95" stroke-width="3.5" stroke-linecap="round" stroke-linejoin="round"/>
<g fill="#000080" fill-opacity="0.57" stroke="#000080" stroke-opacity="0.57" stroke-width="1"><circle cx=581.9 cy=130.6 r=2.5 /><circle cx=582.4 cy=131.4 r=2.5 /><circle cx=583.9 cy=130.7 r=2.5 /><circle cx=585.9 cy=130.4 r=2.5 /><circle cx=586.4 cy=130.7 r=2.5 /><circle cx=588.6 cy=130.5 r=2.5 /><circle cx=589.4 cy=131.2 r=2.5 /><circle cx=591.5 cy=131.2 r=2.5 /><circle cx=592.2 cy=131.4 r=2.5 /><circle cx=593.3 cy=131.2 r=2.5 /><circle cx=595.5 cy=131.4 r=2.5 /></g>
<path d="M609 130.5L623 130.5" fill="none" stroke="#000080" stroke-opacity="0.95" stroke-width="3.5" stroke-linecap="round" stroke-linejoin="round"/>
<g fill="#000080" fill-opacity="0.57" stroke="#000080" stroke-opacity="0.57" stroke-width="1"><circle cx=608.2 cy=130.8 r=2.5 /><circle cx=610.5 cy=131.0 r=2.5 /><circle cx=612.0 cy=130.6 r=2.5 /><circle cx=613.2 cy=130.0 r=2.5 /><circle cx=614.3 cy=129.7 r=2.5 /><circle cx=615.8 cy=130.7 r=2.5 /><circle cx=617.5 cy=130.6 r=2.5 /><circle cx=619.2 cy=131.0 r=2.5 /><circle cx=620.2 cy=130.2 r=2.5 /><circle cx=621.7 cy=130.7 r=2.5 /><circle cx=623.0 cy=130.6 r=2.5 /></g>
<path d="M558 156L564 158" fill="none" stroke="#000080" stroke-opacity="0.95" stroke-width="12.5" stroke-linecap="round" stroke-linejoin="round"/>
<g fill="#000080" fill-opacity="0.57" stroke="#000080" stroke-opacity="0.57" stroke-width="1"><circle cx=558.4 cy=155.6 r=2.5 /><circle cx=560.0 cy=155.1 r=2.5 /><circle cx=561.7 cy=153.7 r=2.5 /><circle cx=563.8 cy=155.9 r=2.5 /><circle cx=564.4 cy=155.6 r=2.5 /></g>
<path d="M567 152L575 158" fill="none" stroke="#000080" stroke-opacity="0.95" stroke-width="10.5" stroke-linecap="round" stroke-linejoin="round"/>
<g fill="#000080" fill-opacity="0.57" stroke="#000080" stroke-opacity="0.57" stroke-width="1"><circle cx=565.4 cy=153.1 r=2.5 /><circle cx=566.1 cy=155.5 r=2.5 /><circle cx=566.8 cy=156.8 r=2.5 /><circle cx=571.5 cy=153.1 r=2.5 /><circle cx=573.4 cy=152.8 r=2.5 /><circle cx=573.8 cy=155.9 r=2.5 /><circle cx=571.8 cy=159.2 r=2.5 /><circle cx=576.8 cy=156.4 r=2.5 /></g>
<path d="M571 164L577 164" fill="none" stroke="#000080" stroke-opacity="0.95" stroke-width="6.5" stroke-linecap="round" stroke-linejoin="round"/>
<g fill="#000080" fill-opacity="0.57" stroke="#000080" stroke-opacity="0.57" stroke-width="1"><circle cx=570.2 cy=162.9 r=2.5 /><circle cx=572.7 cy=165.2 r=2.5 /><circle cx=573.4 cy=163.6 r=2.5 /><circle cx=576.1 cy=162.5 r=2.5 /><circle cx=577.2 cy=163.2 r=2.5 /></g>
<path d="M589 156L593 162" fill="none" stroke="#000080" stroke-opacity="0.95" stroke-width="6.5" stroke-linecap="round" stroke-linejoin="round"/>
<g fill="#000080" fill-opacity="0.57" stroke="#000080" stroke-opacity="0.57" stroke-width="1"><circle cx=590.0 cy=155.6 r=2.5 /><circle cx=591.5 cy=155.7 r=2.5 /><circle cx=589.1 cy=159.9 r=2.5 /><circle cx=591.0 cy=159.7 r=2.5 /><circle cx=591.6 cy=161.8 r=2.5 /><circle cx=591.6 cy=161.8 r=2.5 /></g>
<path d="M596 172L609 172" fill="none" stroke="#000080" stroke-opacity="0.95" stroke-width="7.5" stroke-linecap="round" stroke-linejoin="round"/>
<g fill="#000080" fill-opacity="0.57" stroke="#000080" stroke-opacity="0.57" stroke-width="1"><circle cx=595.9 cy=170.2 r=2.5 /><circle cx=596.8 cy=171.0 r=2.5 /><circle cx=599.2 cy=172.3 r=2.5 /><circle cx=600.7 cy=172.5 r=2.5 /><circle cx=601.0 cy=171.1 r=2.5 /><circle cx=602.6 cy=173.5 r=2.5 /><circle cx=603.5 cy=173.1 r=2.5 /><circle cx=605.2 cy=173.4 r=2.5 /><circle cx=606.5 cy=172.6 r=2.5 /><circle cx=607.9 cy=172.4 r=2.5 /><circle cx=608.9 cy=172.7 r=2.5 /></g>
<path d="M604 162L610 162" fill="none" stroke="#000080" stroke-opacity="0.95" stroke-width="5.5" stroke-linecap="round" stroke-linejoin="round"/>
<g fill="#000080" fill-opacity="0.57" stroke="#000080" stroke-opacity="0.57" stroke-width="1"><circle cx=604.5 cy=161.3 r=2.5 /><circle cx=605.7 cy=161.0 r=2.5 /><circle cx=607.6 cy=161.4 r=2.5 /><circle cx=608.6 cy=162.9 r=2.5 /><circle cx=610.5 cy=162.3 r=2.5 /></g>
<path d="M619 163L625 163" fill="none" stroke="#000080" stroke-opacity="0.95" stroke-width="4.5" stroke-linecap="round" stroke-linejoin="round"/>
<g fill="#000080" fill-opacity="0.57" stroke="#000080" stroke-opacity="0.57" stroke-width="1"><circle cx=619.0 cy=163.0 r=2.5 /><circle cx=619.8 cy=162.5 r=2.5 /><circle cx=621.4 cy=163.6 r=2.5 /><circle cx=623.6 cy=162.2 r=2.5 /><circle cx=624.2 cy=163.1 r=2.5 /></g>
<path d="M625 170L625 177" fill="none" stroke="#000080" stroke-opacity="0.95" stroke-width="4.5" stroke-linecap="round" stroke-linejoin="round"/>
<g fill="#000080" fill-opacity="0.57" stroke="#000080" stroke-opacity="0.57" stroke-width="1"><circle cx=624.4 cy=170.4 r=2.5 /><circle cx=624.7 cy=171.4 r=2.5 /><circle cx=625.0 cy=173.2 r=2.5 /><circle cx=624.9 cy=174.1 r=2.5 /><circle cx=625.0 cy=176.1 r=2.5 /><circle cx=625.1 cy=177.0 r=2.5 /></g>
<g fill="#000080" fill-opacity="0.105" stroke="#000080" stroke-opacity="0.15" stroke-width="1">
<circle cx=450.9 cy=162.9 r=2.5 /><circle cx=468.5 cy=150.4 r=2.5 /><circle cx=450.8 cy=137.9 r=2.5 /><circle cx=466.7 cy=140.1 r=2.5 /><circle cx=455.5 cy=145.5 r=2.5 /><circle cx=448.5 cy=145.7 r=2.5 /><circle cx=444.1 cy=136.1 r=2.5 /><circle cx=455.1 cy=158.9 r=2.5 /><circle cx=458.7 cy=141.0 r=2.5 /><circle cx=460.2 cy=136.6 r=2.5 /><circle cx=451.1 cy=159.8 r=2.5 /><circle cx=467.5 cy=148.8 r=2.5 /><circle cx=465.1 cy=150.0 r=2.5 /><circle cx=454.8 cy=152.5 r=2.5 /><circle cx=469.7 cy=157.3 r=2.5 /><circle cx=453.1 cy=156.8 r=2.5 /><circle cx=458.6 cy=145.6 r=2.5 /><circle cx=463.1 cy=159.6 r=2.5 /><circle cx=457.5 cy=163.3 r=2.5 /><circle cx=438.6 cy=150.0 r=2.5 /><circle cx=458.3 cy=145.2 r=2.5 /><circle cx=443.5 cy=155.8 r=2.5 /><circle cx=451.9 cy=143.1 r=2.5 /><circle cx=439.3 cy=164.0 r=2.5 /><circle cx=449.3 cy=138.5 r=2.5 /><circle cx=444.9 cy=142.6 r=2.5 /><circle cx=465.7 cy=140.4 r=2.5 /><circle cx=446.8 cy=137.9 r=2.5 /><circle cx=453.0 cy=141.2 r=2.5 /><circle cx=449.0 cy=157.0 r=2.5 /><circle cx=467.6 cy=160.0 r=2.5 /><circle cx=439.2 cy=146.3 r=2.5 /><circle cx=465.2 cy=136.0 r=2.5 /><circle cx=444.5 cy=149.7 r=2.5 /><circle cx=450.2 cy=157.5 r=2.5 /><circle cx=461.0 cy=148.9 r=2.5 /><circle cx=446.0 cy=141.9 r=2.5 /><circle cx=446.5 cy=137.0 r=2.5 /><circle cx=459.3 cy=139.7 r=2.5 /><circle cx=466.5 cy=154.4 r=2.5 /><circle cx=439.8 cy=150.0 r=2.5 /><circle cx=457.3 cy=136.3 r=2.5 /><circle cx=453.6 cy=135.9 r=2.5 /><circle cx=462.5 cy=135.1 r=2.5 /><circle cx=458.2 cy=164.6 r=2.5 /><circle cx=465.1 cy=142.0 r=2.5 /><circle cx=455.1 cy=139.2 r=2.5 /><circle cx=449.0 cy=160.9 r=2.5 /><circle cx=464.2 cy=135.3 r=2.5 /><circle cx=450.2 cy=154.2 r=2.5 /><circle cx=443.6 cy=159.1 r=2.5 /><circle cx=466.6 cy=151.5 r=2.5 /><circle cx=449.6 cy=160.5 r=2.5 /><circle cx=454.4 cy=140.7 r=2.5 /><circle cx=446.9 cy=139.8 r=2.5 /><circle cx=464.8 cy=150.3 r=2.5 /><circle cx=460.3 cy=159.5 r=2.5 /><circle cx=469.2 cy=140.7 r=2.5 /><circle cx=451.0 cy=161.2 r=2.5 /><circle cx=462.4 cy=146.6 r=2.5 /><circle cx=525.3 cy=143.9 r=2.5 /><circle cx=549.6 cy=142.7 r=2.5 /><circle cx=533.0 cy=156.9 r=2.5 /><circle cx=558.5 cy=144.4 r=2.5 /><circle cx=502.5 cy=158.8 r=2.5 /><circle cx=531.4 cy=140.4 r=2.5 /><circle cx=507.8 cy=141.0 r=2.5 /><circle cx=518.9 cy=138.5 r=2.5 /><circle cx=503.0 cy=159.9 r=2.5 /><circle cx=550.0 cy=137.8 r=2.5 /><circle cx=529.3 cy=155.0 r=2.5 /><circle cx=530.8 cy=136.7 r=2.5 /><circle cx=520.7 cy=144.5 r=2.5 /><circle cx=555.8 cy=149.6 r=2.5 /><circle cx=528.0 cy=150.8 r=2.5 /><circle cx=503.0 cy=152.2 r=2.5 /><circle cx=549.3 cy=151.8 r=2.5 /><circle cx=522.0 cy=142.1 r=2.5 /><circle cx=500.6 cy=137.1 r=2.5 /><circle cx=509.4 cy=146.3 r=2.5 /><circle cx=547.5 cy=140.4 r=2.5 /><circle cx=528.8 cy=150.9 r=2.5 /><circle cx=538.4 cy=135.5 r=2.5 /><circle cx=556.2 cy=149.6 r=2.5 /><circle cx=518.5 cy=141.0 r=2.5 /><circle cx=542.0 cy=158.3 r=2.5 /><circle cx=520.6 cy=145.0 r=2.5 /><circle cx=534.0 cy=139.4 r=2.5 /><circle cx=524.8 cy=157.9 r=2.5 /><circle cx=533.9 cy=155.6 r=2.5 /><circle cx=516.0 cy=156.7 r=2.5 /><circle cx=547.7 cy=140.6 r=2.5 /><circle cx=532.3 cy=152.0 r=2.5 /><circle cx=534.9 cy=150.0 r=2.5 /><circle cx=514.6 cy=148.8 r=2.5 /><circle cx=521.6 cy=154.9 r=2.5 /><circle cx=522.7 cy=159.5 r=2.5 /><circle cx=535.4 cy=140.7 r=2.5 /><circle cx=525.4 cy=138.2 r=2.5 /><circle cx=544.9 cy=136.1 r=2.5 /><circle cx=536.9 cy=142.7 r=2.5 /><circle cx=547.4 cy=138.2 r=2.5 /><circle cx=541.5 cy=152.8 r=2.5 /><circle cx=514.2 cy=138.3 r=2.5 /><circle cx=522.7 cy=151.2 r=2.5 /><circle cx=515.9 cy=135.2 r=2.5 /><circle cx=526.9 cy=155.2 r=2.5 /><circle cx=509.6 cy=158.5 r=2.5 /><circle cx=531.0 cy=139.0 r=2.5 /><circle cx=506.1 cy=144.3 r=2.5 /><circle cx=529.1 cy=139.4 r=2.5 /><circle cx=505.1 cy=147.5 r=2.5 /><circle cx=515.5 cy=146.1 r=2.5 /><circle cx=527.5 cy=152.4 r=2.5 /><circle cx=535.2 cy=140.7 r=2.5 /><circle cx=511.0 cy=156.5 r=2.5 /><circle cx=503.1 cy=138.1 r=2.5 /><circle cx=504.3 cy=155.7 r=2.5 /><circle cx=533.0 cy=158.1 r=2.5 /><circle cx=538.2 cy=143.4 r=2.5 /><circle cx=526.3 cy=153.3 r=2.5 /><circle cx=514.1 cy=155.1 r=2.5 /><circle cx=524.9 cy=136.1 r=2.5 /><circle cx=521.0 cy=149.0 r=2.5 /><circle cx=508.9 cy=157.6 r=2.5 /><circle cx=556.5 cy=147.8 r=2.5 /><circle cx=555.2 cy=152.2 r=2.5 /><circle cx=532.8 cy=139.0 r=2.5 /><circle cx=558.1 cy=158.0 r=2.5 /><circle cx=527.6 cy=144.6 r=2.5 /><circle cx=504.5 cy=150.5 r=2.5 /><circle cx=552.1 cy=144.7 r=2.5 /><circle cx=517.6 cy=150.3 r=2.5 /><circle cx=548.4 cy=139.2 r=2.5 /><circle cx=517.2 cy=151.1 r=2.5 /><circle cx=502.5 cy=155.4 r=2.5 /><circle cx=519.2 cy=155.8 r=2.5 /><circle cx=527.7 cy=139.1 r=2.5 /><circle cx=501.2 cy=137.8 r=2.5 /><circle cx=515.9 cy=153.9 r=2.5 /><circle cx=548.4 cy=150.8 r=2.5 /><circle cx=518.7 cy=151.6 r=2.5 /><circle cx=544.7 cy=144.2 r=2.5 /><circle cx=505.0 cy=146.7 r=2.5 /><circle cx=513.5 cy=139.7 r=2.5 /><circle cx=523.8 cy=136.9 r=2.5 /><circle cx=554.8 cy=142.0 r=2.5 /><circle cx=554.8 cy=153.4 r=2.5 /><circle cx=500.7 cy=157.5 r=2.5 /><circle cx=549.4 cy=148.1 r=2.5 /><circle cx=553.9 cy=147.0 r=2.5 /><circle cx=501.5 cy=138.7 r=2.5 /><circle cx=518.9 cy=156.5 r=2.5 /><circle cx=550.6 cy=137.9 r=2.5 /><circle cx=521.3 cy=137.8 r=2.5 /><circle cx=513.9 cy=143.8 r=2.5 /><circle cx=525.3 cy=138.7 r=2.5 /><circle cx=540.1 cy=141.1 r=2.5 /><circle cx=554.3 cy=147.0 r=2.5 /><circle cx=526.2 cy=154.1 r=2.5 /><circle cx=521.0 cy=141.4 r=2.5 /><circle cx=507.5 cy=142.4 r=2.5 /><circle cx=514.3 cy=153.4 r=2.5 /><circle cx=521.7 cy=152.7 r=2.5 /><circle cx=516.8 cy=136.7 r=2.5 /><circle cx=518.6 cy=144.8 r=2.5 /><circle cx=555.5 cy=140.0 r=2.5 /><circle cx=512.9 cy=138.9 r=2.5 /><circle cx=515.4 cy=159.0 r=2.5 /><circle cx=556.8 cy=140.7 r=2.5 /><circle cx=503.0 cy=147.2 r=2.5 /><circle cx=535.7 cy=137.8 r=2.5 /><circle cx=525.5 cy=154.2 r=2.5 /><circle cx=500.1 cy=153.0 r=2.5 /><circle cx=541.8 cy=154.7 r=2.5 /><circle cx=529.7 cy=146.6 r=2.5 /><circle cx=531.6 cy=138.4 r=2.5 /><circle cx=531.3 cy=141.0 r=2.5 /><circle cx=519.6 cy=136.1 r=2.5 /><circle cx=509.7 cy=136.4 r=2.5 />
</g>
<g fill="#000080" fill-opacity="0.168" stroke="#000080" stroke-opacity="0.24" stroke-width="1">
<circle cx=386.0 cy=22.0 r=2.5 /><circle cx=386.0 cy=28.0 r=2.5 /><circle cx=410.0 cy=26.0 r=2.5 /><circle cx=418.5 cy=22.0 r=2.5 /><circle cx=418.5 cy=28.0 r=2.5 /><circle cx=462.0 cy=26.0 r=2.5 /><circle cx=532.0 cy=22.0 r=2.5 /><circle cx=563.0 cy=22.0 r=2.5 /><circle cx=593.0 cy=22.0 r=2.5 /><circle cx=625.0 cy=22.0 r=2.5 /><circle cx=391.0 cy=46.0 r=2.5 /><circle cx=413.0 cy=48.0 r=2.5 /><circle cx=413.0 cy=52.0 r=2.5 /><circle cx=443.0 cy=48.0 r=2.5 /><circle cx=482.0 cy=42.0 r=2.5 /><circle cx=487.0 cy=42.0 r=2.5 /><circle cx=487.0 cy=46.0 r=2.5 /><circle cx=489.0 cy=49.0 r=2.5 /><circle cx=515.0 cy=42.0 r=2.5 /><circle cx=520.0 cy=42.0 r=2.5 /><circle cx=522.0 cy=44.0 r=2.5 /><circle cx=530.0 cy=42.0 r=2.5 /><circle cx=532.0 cy=45.0 r=2.5 /><circle cx=531.0 cy=49.0 r=2.5 /><circle cx=567.0 cy=43.0 r=2.5 /><circle cx=577.0 cy=41.0 r=2.5 /><circle cx=589.0 cy=42.0 r=2.5 /><circle cx=590.0 cy=47.0 r=2.5 /><circle cx=608.0 cy=42.0 r=2.5 /><circle cx=615.0 cy=47.0 r=2.5 /><circle cx=442.0 cy=55.0 r=2.5 /><circle cx=450.0 cy=55.0 r=2.5 /><circle cx=465.0 cy=52.0 r=2.5 /><circle cx=468.0 cy=57.0 r=2.5 /><circle cx=468.0 cy=54.0 r=2.5 /><circle cx=469.0 cy=60.0 r=2.5 /><circle cx=479.0 cy=55.0 r=2.5 /><circle cx=483.0 cy=55.0 r=2.5 /><circle cx=500.0 cy=54.0 r=2.5 /><circle cx=590.0 cy=60.0 r=2.5 /><circle cx=605.0 cy=55.0 r=2.5 /><circle cx=620.0 cy=61.0 r=2.5 /><circle cx=625.0 cy=66.0 r=2.5 /><circle cx=566.6 cy=52.8 r=2.5 /><circle cx=535.8 cy=58.0 r=2.5 /><circle cx=541.1 cy=52.7 r=2.5 /><circle cx=556.5 cy=54.1 r=2.5 /><circle cx=564.4 cy=53.4 r=2.5 /><circle cx=566.7 cy=53.9 r=2.5 /><circle cx=554.8 cy=57.6 r=2.5 /><circle cx=557.6 cy=57.5 r=2.5 /><circle cx=558.4 cy=52.3 r=2.5 /><circle cx=564.1 cy=55.5 r=2.5 /><circle cx=545.3 cy=53.1 r=2.5 /><circle cx=563.0 cy=55.5 r=2.5 /><circle cx=433.0 cy=66.0 r=2.5 /><circle cx=390.0 cy=65.0 r=2.5 /><circle cx=391.0 cy=70.0 r=2.5 /><circle cx=416.0 cy=68.0 r=2.5 /><circle cx=445.0 cy=67.0 r=2.5 /><circle cx=484.0 cy=62.0 r=2.5 /><circle cx=510.0 cy=62.0 r=2.5 /><circle cx=524.0 cy=68.0 r=2.5 /><circle cx=553.0 cy=62.0 r=2.5 /><circle cx=560.0 cy=65.0 r=2.5 /><circle cx=585.0 cy=72.0 r=2.5 /><circle cx=393.0 cy=83.0 r=2.5 /><circle cx=392.0 cy=92.0 r=2.5 /><circle cx=395.0 cy=95.0 r=2.5 /><circle cx=422.0 cy=95.0 r=2.5 /><circle cx=422.0 cy=98.0 r=2.5 /><circle cx=432.0 cy=92.0 r=2.5 /><circle cx=438.0 cy=92.0 r=2.5 /><circle cx=440.0 cy=80.0 r=2.5 /><circle cx=462.0 cy=73.0 r=2.5 /><circle cx=467.0 cy=88.0 r=2.5 /><circle cx=479.0 cy=75.0 r=2.5 /><circle cx=514.0 cy=77.0 r=2.5 /><circle cx=546.0 cy=73.0 r=2.5 /><circle cx=550.0 cy=79.0 r=2.5 /><circle cx=482.0 cy=87.0 r=2.5 /><circle cx=479.0 cy=97.0 r=2.5 /><circle cx=520.0 cy=88.0 r=2.5 /><circle cx=524.0 cy=95.0 r=2.5 /><circle cx=549.0 cy=94.0 r=2.5 /><circle cx=567.0 cy=84.0 r=2.5 /><circle cx=555.0 cy=79.0 r=2.5 /><circle cx=563.0 cy=103.0 r=2.5 /><circle cx=576.0 cy=99.0 r=2.5 /><circle cx=576.0 cy=104.0 r=2.5 /><circle cx=622.0 cy=85.0 r=2.5 /><circle cx=620.0 cy=73.0 r=2.5 /><circle cx=625.0 cy=67.0 r=2.5 /><circle cx=577.6 cy=88.9 r=2.5 /><circle cx=577.8 cy=85.2 r=2.5 /><circle cx=576.2 cy=86.0 r=2.5 /><circle cx=573.6 cy=92.2 r=2.5 /><circle cx=573.9 cy=89.1 r=2.5 /><circle cx=434.0 cy=92.0 r=2.5 /><circle cx=437.0 cy=90.0 r=2.5 /><circle cx=393.0 cy=104.0 r=2.5 /><circle cx=388.0 cy=109.0 r=2.5 /><circle cx=413.0 cy=105.0 r=2.5 /><circle cx=431.0 cy=108.0 r=2.5 /><circle cx=448.0 cy=108.0 r=2.5 /><circle cx=464.0 cy=104.0 r=2.5 /><circle cx=464.0 cy=108.0 r=2.5 /><circle cx=466.0 cy=103.0 r=2.5 /><circle cx=466.0 cy=108.0 r=2.5 /><circle cx=493.0 cy=112.0 r=2.5 /><circle cx=526.0 cy=103.0 r=2.5 /><circle cx=521.0 cy=106.0 r=2.5 /><circle cx=526.0 cy=109.0 r=2.5 /><circle cx=515.0 cy=112.0 r=2.5 /><circle cx=521.0 cy=115.0 r=2.5 /><circle cx=465.0 cy=118.0 r=2.5 /><circle cx=493.0 cy=121.0 r=2.5 /><circle cx=556.0 cy=115.0 r=2.5 /><circle cx=558.0 cy=122.0 r=2.5 /><circle cx=620.0 cy=112.0 r=2.5 /><circle cx=623.0 cy=121.0 r=2.5 /><circle cx=567.0 cy=117.0 r=2.5 /><circle cx=574.0 cy=116.0 r=2.5 /><circle cx=471.6 cy=132.3 r=2.5 /><circle cx=466.6 cy=129.1 r=2.5 /><circle cx=468.8 cy=133.2 r=2.5 /><circle cx=470.2 cy=149.3 r=2.5 /><circle cx=466.5 cy=140.3 r=2.5 /><circle cx=473.6 cy=141.2 r=2.5 /><circle cx=470.3 cy=144.9 r=2.5 /><circle cx=465.2 cy=148.9 r=2.5 /><circle cx=471.9 cy=145.7 r=2.5 /><circle cx=473.3 cy=130.2 r=2.5 /><circle cx=478.9 cy=133.7 r=2.5 /><circle cx=485.1 cy=158.0 r=2.5 /><circle cx=490.7 cy=141.2 r=2.5 /><circle cx=486.7 cy=151.7 r=2.5 /><circle cx=482.7 cy=159.1 r=2.5 /><circle cx=491.2 cy=151.3 r=2.5 /><circle cx=490.6 cy=153.6 r=2.5 /><circle cx=487.1 cy=138.3 r=2.5 /><circle cx=481.9 cy=135.6 r=2.5 /><circle cx=478.8 cy=157.6 r=2.5 /><circle cx=482.2 cy=128.8 r=2.5 /><circle cx=482.4 cy=131.3 r=2.5 /><circle cx=484.2 cy=138.6 r=2.5 /><circle cx=480.5 cy=143.3 r=2.5 /><circle cx=469.0 cy=131.0 r=2.5 /><circle cx=584.9 cy=129.3 r=2.5 /><circle cx=585.2 cy=133.1 r=2.5 /><circle cx=578.1 cy=127.8 r=2.5 /><circle cx=586.1 cy=135.5 r=2.5 /><circle cx=588.2 cy=133.1 r=2.5 /><circle cx=585.8 cy=126.3 r=2.5 /><circle cx=579.7 cy=137.2 r=2.5 /><circle cx=581.3 cy=127.5 r=2.5 /><circle cx=582.3 cy=137.7 r=2.5 /><circle cx=575.2 cy=127.6 r=2.5 /><circle cx=584.0 cy=138.2 r=2.5 /><circle cx=581.6 cy=129.5 r=2.5 /><circle cx=589.9 cy=127.3 r=2.5 /><circle cx=579.5 cy=134.4 r=2.5 /><circle cx=621.7 cy=137.9 r=2.5 /><circle cx=610.2 cy=129.0 r=2.5 /><circle cx=611.0 cy=126.8 r=2.5 /><circle cx=609.0 cy=136.5 r=2.5 /><circle cx=624.5 cy=129.1 r=2.5 /><circle cx=604.6 cy=136.1 r=2.5 /><circle cx=624.3 cy=136.9 r=2.5 /><circle cx=612.1 cy=136.2 r=2.5 /><circle cx=619.7 cy=136.2 r=2.5 /><circle cx=613.8 cy=140.0 r=2.5 /><circle cx=612.2 cy=143.2 r=2.5 /><circle cx=609.4 cy=140.0 r=2.5 /><circle cx=609.0 cy=156.0 r=2.5 /><circle cx=609.9 cy=149.5 r=2.5 /><circle cx=612.2 cy=139.9 r=2.5 /><circle cx=608.8 cy=148.6 r=2.5 /><circle cx=610.0 cy=153.1 r=2.5 /><circle cx=613.5 cy=155.6 r=2.5 /><circle cx=610.4 cy=153.0 r=2.5 /><circle cx=610.3 cy=159.7 r=2.5 /><circle cx=623.2 cy=148.7 r=2.5 /><circle cx=620.8 cy=144.6 r=2.5 /><circle cx=625.2 cy=143.6 r=2.5 /><circle cx=626.8 cy=151.7 r=2.5 /><circle cx=627.5 cy=151.3 r=2.5 /><circle cx=622.8 cy=143.4 r=2.5 /><circle cx=616.2 cy=150.2 r=2.5 /><circle cx=625.0 cy=151.6 r=2.5 /><circle cx=625.1 cy=135.8 r=2.5 /><circle cx=624.2 cy=141.4 r=2.5 /><circle cx=620.7 cy=155.0 r=2.5 /><circle cx=620.9 cy=145.7 r=2.5 /><circle cx=616.6 cy=139.2 r=2.5 /><circle cx=618.5 cy=139.9 r=2.5 /><circle cx=568.1 cy=135.7 r=2.5 /><circle cx=557.2 cy=136.3 r=2.5 /><circle cx=573.3 cy=149.6 r=2.5 /><circle cx=573.8 cy=142.7 r=2.5 /><circle cx=558.3 cy=146.8 r=2.5 /><circle cx=558.2 cy=136.2 r=2.5 /><circle cx=567.8 cy=147.9 r=2.5 /><circle cx=562.8 cy=148.0 r=2.5 /><circle cx=563.3 cy=149.5 r=2.5 /><circle cx=573.5 cy=148.0 r=2.5 /><circle cx=579.6 cy=147.3 r=2.5 /><circle cx=559.9 cy=142.7 r=2.5 />
</g>
<g fill="#000080" fill-opacity="0.280" stroke="#000080" stroke-opacity="0.4" stroke-width="1">
<circle cx=410.0 cy=20.0 r=2.5 /><circle cx=448.0 cy=22.0 r=2.5 /><circle cx=625.0 cy=22.0 r=2.5 /><circle cx=404.0 cy=42.0 r=2.5 /><circle cx=410.0 cy=42.0 r=2.5 /><circle cx=432.0 cy=42.0 r=2.5 /><circle cx=441.0 cy=41.0 r=2.5 /><circle cx=444.0 cy=44.0 r=2.5 /><circle cx=447.0 cy=45.0 r=2.5 /><circle cx=583.0 cy=42.0 r=2.5 /><circle cx=612.0 cy=42.0 r=2.5 /><circle cx=393.0 cy=53.0 r=2.5 /><circle cx=393.0 cy=56.0 r=2.5 /><circle cx=413.0 cy=55.0 r=2.5 /><circle cx=421.0 cy=53.0 r=2.5 /><circle cx=433.0 cy=55.0 r=2.5 /><circle cx=455.0 cy=55.0 r=2.5 /><circle cx=492.0 cy=53.0 r=2.5 /><circle cx=510.0 cy=55.0 r=2.5 /><circle cx=515.0 cy=55.0 r=2.5 /><circle cx=525.0 cy=55.0 r=2.5 /><circle cx=529.0 cy=58.0 r=2.5 /><circle cx=552.0 cy=54.0 r=2.5 /><circle cx=560.0 cy=55.0 r=2.5 /><circle cx=615.0 cy=56.0 r=2.5 /><circle cx=404.0 cy=60.0 r=2.5 /><circle cx=429.0 cy=60.0 r=2.5 /><circle cx=409.0 cy=70.0 r=2.5 /><circle cx=395.0 cy=87.0 r=2.5 /><circle cx=468.0 cy=89.0 r=2.5 /><circle cx=483.0 cy=94.0 r=2.5 /><circle cx=515.0 cy=90.0 r=2.5 /><circle cx=523.0 cy=76.0 r=2.5 /><circle cx=415.8 cy=114.5 r=2.5 /><circle cx=412.6 cy=116.3 r=2.5 /><circle cx=414.7 cy=109.9 r=2.5 /><circle cx=412.2 cy=113.3 r=2.5 /><circle cx=607.2 cy=122.5 r=2.5 /><circle cx=610.0 cy=109.1 r=2.5 /><circle cx=609.5 cy=113.8 r=2.5 /><circle cx=612.5 cy=102.1 r=2.5 /><circle cx=609.2 cy=111.2 r=2.5 /><circle cx=608.8 cy=111.7 r=2.5 /><circle cx=610.3 cy=106.3 r=2.5 /><circle cx=611.0 cy=109.4 r=2.5 /><circle cx=607.5 cy=124.9 r=2.5 /><circle cx=609.1 cy=106.2 r=2.5 /><circle cx=462.0 cy=121.0 r=2.5 /><circle cx=460.0 cy=135.0 r=2.5 /><circle cx=461.0 cy=140.0 r=2.5 /><circle cx=483.0 cy=131.0 r=2.5 /><circle cx=491.0 cy=128.0 r=2.5 /><circle cx=491.0 cy=139.0 r=2.5 /><circle cx=502.0 cy=129.0 r=2.5 /><circle cx=512.0 cy=125.0 r=2.5 /><circle cx=515.0 cy=136.0 r=2.5 /><circle cx=519.0 cy=130.0 r=2.5 /><circle cx=537.0 cy=130.0 r=2.5 /><circle cx=554.0 cy=125.0 r=2.5 /><circle cx=546.0 cy=137.0 r=2.5 /><circle cx=507.0 cy=152.0 r=2.5 />
</g>
<g fill="#000080" fill-opacity="0.420" stroke="#000080" stroke-opacity="0.6" stroke-width="1">
<circle cx=488.0 cy=22.0 r=2.5 /><circle cx=404.0 cy=55.0 r=2.5 /><circle cx=583.0 cy=56.0 r=2.5 /><circle cx=519.0 cy=120.0 r=2.5 /><circle cx=515.0 cy=124.0 r=2.5 /><circle cx=457.0 cy=128.0 r=2.5 /><circle cx=577.0 cy=128.0 r=2.5 /><circle cx=600.0 cy=131.0 r=2.5 />
</g>
<g fill="#000080" fill-opacity="0.560" stroke="#000080" stroke-opacity="0.8" stroke-width="1">
<circle cx=462.0 cy=20.0 r=2.5 /><circle cx=516.0 cy=20.0 r=2.5 /><circle cx=578.0 cy=20.0 r=2.5 /><circle cx=413.0 cy=42.0 r=2.5 /><circle cx=437.0 cy=42.0 r=2.5 /><circle cx=557.0 cy=42.0 r=2.5 /><circle cx=437.0 cy=54.0 r=2.5 /><circle cx=460.0 cy=54.0 r=2.5 /><circle cx=488.0 cy=57.0 r=2.5 /><circle cx=506.0 cy=56.0 r=2.5 /><circle cx=577.0 cy=54.0 r=2.5 /><circle cx=592.0 cy=55.0 r=2.5 /><circle cx=611.0 cy=53.0 r=2.5 /><circle cx=622.0 cy=54.0 r=2.5 /><circle cx=585.0 cy=62.0 r=2.5 /><circle cx=419.0 cy=87.0 r=2.5 /><circle cx=541.0 cy=87.0 r=2.5 /><circle cx=593.0 cy=87.0 r=2.5 /><circle cx=578.0 cy=121.0 r=2.5 /><circle cx=586.0 cy=124.0 r=2.5 /><circle cx=404.0 cy=124.0 r=2.5 /><circle cx=431.0 cy=124.0 r=2.5 /><circle cx=557.0 cy=132.0 r=2.5 /><circle cx=603.0 cy=128.0 r=2.5 /><circle cx=611.0 cy=125.0 r=2.5 /><circle cx=611.0 cy=150.0 r=2.5 />
</g>
<g fill="#000080" fill-opacity="0.665" stroke="#000080" stroke-opacity="0.95" stroke-width="1">
<circle cx=494.0 cy=154.0 r=2.5 /><circle cx=582.0 cy=146.0 r=2.5 /><circle cx=583.0 cy=150.0 r=2.5 />
</g>
<g fill="#ff0000" fill-opacity="0.168" stroke="#ff0000" stroke-opacity="0.24" stroke-width="1">
<circle cx=404.0 cy=42.0 r=2.5 /><circle cx=455.0 cy=42.0 r=2.5 /><circle cx=455.0 cy=46.0 r=2.5 /><circle cx=434.0 cy=50.0 r=2.5 /><circle cx=426.0 cy=53.0 r=2.5 /><circle cx=583.0 cy=52.0 r=2.5 /><circle cx=614.0 cy=60.0 r=2.5 /><circle cx=409.0 cy=62.0 r=2.5 /><circle cx=432.0 cy=61.0 r=2.5 /><circle cx=455.0 cy=60.0 r=2.5 /><circle cx=455.0 cy=65.0 r=2.5 /><circle cx=455.0 cy=70.0 r=2.5 /><circle cx=583.0 cy=68.0 r=2.5 /><circle cx=409.0 cy=65.0 r=2.5 /><circle cx=409.0 cy=70.0 r=2.5 /><circle cx=409.0 cy=74.0 r=2.5 /><circle cx=409.0 cy=78.0 r=2.5 /><circle cx=409.0 cy=83.0 r=2.5 /><circle cx=409.0 cy=87.0 r=2.5 /><circle cx=455.0 cy=65.0 r=2.5 /><circle cx=455.0 cy=70.0 r=2.5 /><circle cx=455.0 cy=75.0 r=2.5 /><circle cx=455.0 cy=80.0 r=2.5 /><circle cx=455.0 cy=85.0 r=2.5 /><circle cx=455.0 cy=90.0 r=2.5 /><circle cx=584.0 cy=66.0 r=2.5 /><circle cx=584.0 cy=71.0 r=2.5 /><circle cx=584.0 cy=76.0 r=2.5 /><circle cx=584.0 cy=81.0 r=2.5 /><circle cx=584.0 cy=86.0 r=2.5 /><circle cx=425.0 cy=119.0 r=2.5 /><circle cx=609.0 cy=150.0 r=2.5 /><circle cx=610.0 cy=155.0 r=2.5 />
</g>
<g fill="#ff0000" fill-opacity="0.280" stroke="#ff0000" stroke-opacity="0.4" stroke-width="1">
<circle cx=583.0 cy=42.0 r=2.5 /><circle cx=407.0 cy=66.0 r=2.5 /><circle cx=410.0 cy=68.0 r=2.5 /><circle cx=584.0 cy=87.0 r=2.5 /><circle cx=498.0 cy=168.0 r=2.5 />
</g>
<g fill="#ff0000" fill-opacity="0.420" stroke="#ff0000" stroke-opacity="0.6" stroke-width="1">
<circle cx=577.0 cy=124.0 r=2.5 /><circle cx=427.0 cy=132.0 r=2.5 /><circle cx=431.0 cy=131.0 r=2.5 /><circle cx=407.0 cy=120.0 r=2.5 /><circle cx=452.0 cy=172.0 r=2.5 />
</g>
<g fill="#ff0000" fill-opacity="0.560" stroke="#ff0000" stroke-opacity="0.8" stroke-width="1">
<circle cx=434.0 cy=42.0 r=2.5 /><circle cx=410.0 cy=55.0 r=2.5 /><circle cx=584.0 cy=113.0 r=2.5 /><circle cx=404.0 cy=132.0 r=2.5 /><circle cx=407.0 cy=131.0 r=2.5 /><circle cx=409.0 cy=124.0 r=2.5 /><circle cx=434.0 cy=120.0 r=2.5 /><circle cx=579.0 cy=131.0 r=2.5 /><circle cx=587.0 cy=131.0 r=2.5 /><circle cx=609.0 cy=166.0 r=2.5 />
</g>
<g fill="#ff0000" fill-opacity="0.665" stroke="#ff0000" stroke-opacity="0.95" stroke-width="1">
<circle cx=408.0 cy=55.0 r=2.5 /><circle cx=583.0 cy=56.0 r=2.5 />
</g>
</g>
<path d="M384.5 76.5H627" stroke="#00ffff" stroke-width="1.6" stroke-dasharray="6 2.4"/>
<path d="M374.5 12.5H639.5M374.5 12.5V185.5H639.5" fill="none" stroke="#222" stroke-width="1.2"/>
<path d="M639.5 12.5V185.5" fill="none" stroke="#222" stroke-width="1.2"/>
<path d="M385.3 185.2v3" stroke="#333" stroke-width="0.9"/>
<text x="385.3" y="198" font-size="8.3" text-anchor="middle">0</text>
<path d="M424.8 185.2v3" stroke="#333" stroke-width="0.9"/>
<text x="424.8" y="198" font-size="8.3" text-anchor="middle">2000</text>
<path d="M464.3 185.2v3" stroke="#333" stroke-width="0.9"/>
<text x="464.3" y="198" font-size="8.3" text-anchor="middle">4000</text>
<path d="M503.8 185.2v3" stroke="#333" stroke-width="0.9"/>
<text x="503.8" y="198" font-size="8.3" text-anchor="middle">6000</text>
<path d="M543.3 185.2v3" stroke="#333" stroke-width="0.9"/>
<text x="543.3" y="198" font-size="8.3" text-anchor="middle">8000</text>
<path d="M582.8 185.2v3" stroke="#333" stroke-width="0.9"/>
<text x="582.8" y="198" font-size="8.3" text-anchor="middle">10000</text>
<path d="M622.3 185.2v3" stroke="#333" stroke-width="0.9"/>
<text x="622.3" y="198" font-size="8.3" text-anchor="middle">12000</text>
<path d="M374 155.5h-2.5" stroke="#555" stroke-width="0.8"/>
<text x="363.5" y="159.1" font-size="8.3" text-anchor="end">10</text>
<text x="363.2" y="155.7" font-size="5.8">1</text>
<path d="M374 119.6h-2.5" stroke="#555" stroke-width="0.8"/>
<text x="363.5" y="123.19999999999999" font-size="8.3" text-anchor="end">10</text>
<text x="363.2" y="119.8" font-size="5.8">3</text>
<path d="M374 84.4h-2.5" stroke="#555" stroke-width="0.8"/>
<text x="363.5" y="88.0" font-size="8.3" text-anchor="end">10</text>
<text x="363.2" y="84.60000000000001" font-size="5.8">5</text>
<path d="M374 48h-2.5" stroke="#555" stroke-width="0.8"/>
<text x="363.5" y="51.6" font-size="8.3" text-anchor="end">10</text>
<text x="363.2" y="48.2" font-size="5.8">7</text>
<text x="505.5" y="8.4" font-size="10.65" text-anchor="middle" >GLUE with Robust Error (Testing data)</text>
<text x="506" y="209" font-size="8.6" text-anchor="middle" >Time</text>
<text x="0" y="0" font-size="8.6" text-anchor="middle" transform="translate(346.5 102) rotate(-90)">Max Robust Error</text>
<rect x="377.5" y="167.75" width="68.10000000000002" height="13.5" rx="1.5" fill="#fff" fill-opacity="0.8" stroke="#ddd" stroke-width="0.8"/>
<path d="M380 173.75H395" stroke="#00ffff" stroke-width="1.6" stroke-dasharray="6 2.4"/>
<text x="403" y="177.5" font-size="9">Threshold</text>
<text x="490" y="244.5" font-size="24" text-anchor="middle" style='font-family:"Liberation Serif", serif' letter-spacing="0.9">(b) WADI test</text>
<g clip-path="url(#c3)">
<linearGradient id="lg1" gradientUnits="userSpaceOnUse" x1="0" y1="337" x2="0" y2="396"><stop offset="0" stop-color="#000080" stop-opacity="0.9"/><stop offset="0.6" stop-color="#000080" stop-opacity="0.9"/><stop offset="1" stop-color="#000080" stop-opacity="0.6"/></linearGradient>
<path filter="url(#bl)" fill="url(#lg1)" d="M45.6 344.2h2.6v53.0h-2.6zM48.2 349.2h2.6v53.0h-2.6zM50.8 354.9h2.6v59.9h-2.6zM53.4 342.5h2.6v51.0h-2.6zM56.0 341.3h2.6v53.1h-2.6zM58.6 329.8h2.6v66.3h-2.6zM61.2 341.5h2.6v51.9h-2.6zM63.8 336.4h2.6v61.4h-2.6zM66.4 335.6h2.6v54.4h-2.6zM69.0 340.1h2.6v50.2h-2.6zM71.6 334.6h2.6v65.5h-2.6zM74.2 337.3h2.6v61.8h-2.6zM76.8 338.7h2.6v57.2h-2.6zM79.4 340.1h2.6v57.1h-2.6zM82.0 339.6h2.6v61.1h-2.6zM84.6 345.7h2.6v51.2h-2.6zM87.2 341.5h2.6v56.7h-2.6zM89.8 341.3h2.6v55.9h-2.6zM92.4 342.9h2.6v48.2h-2.6zM95.0 338.3h2.6v56.4h-2.6zM97.6 344.4h2.6v54.6h-2.6zM100.2 335.8h2.6v65.1h-2.6zM102.8 329.4h2.6v72.2h-2.6zM105.4 340.9h2.6v61.1h-2.6zM108.0 343.6h2.6v56.7h-2.6zM110.6 339.7h2.6v59.4h-2.6zM113.2 339.3h2.6v56.8h-2.6zM115.8 329.5h2.6v62.4h-2.6zM118.4 331.4h2.6v69.0h-2.6zM121.0 338.8h2.6v65.7h-2.6zM123.6 345.7h2.6v58.8h-2.6zM126.2 344.3h2.6v52.0h-2.6zM128.8 339.9h2.6v57.6h-2.6zM131.4 343.6h2.6v57.5h-2.6zM134.0 339.4h2.6v55.5h-2.6zM136.6 342.5h2.6v52.8h-2.6zM139.2 341.6h2.6v58.2h-2.6zM141.8 334.4h2.6v64.2h-2.6zM144.4 342.1h2.6v53.2h-2.6zM147.0 343.5h2.6v55.9h-2.6zM149.6 342.5h2.6v52.1h-2.6zM152.2 339.5h2.6v58.9h-2.6zM154.8 333.3h2.6v59.4h-2.6zM157.4 329.2h2.6v77.7h-2.6zM160.0 319.9h2.6v75.2h-2.6zM162.6 334.4h2.6v58.3h-2.6zM165.2 338.4h2.6v56.9h-2.6zM167.8 336.2h2.6v60.8h-2.6zM170.4 329.4h2.6v65.0h-2.6zM173.0 328.3h2.6v68.3h-2.6zM175.6 336.3h2.6v56.9h-2.6zM178.2 335.3h2.6v55.4h-2.6zM180.8 335.4h2.6v57.1h-2.6zM183.4 340.9h2.6v47.7h-2.6zM186.0 341.1h2.6v56.0h-2.6zM188.6 346.7h2.6v47.4h-2.6zM191.2 327.7h2.6v68.8h-2.6zM193.8 325.9h2.6v69.8h-2.6zM196.4 328.3h2.6v71.7h-2.6zM199.0 335.7h2.6v55.9h-2.6zM201.6 333.5h2.6v60.4h-2.6zM204.2 337.9h2.6v54.3h-2.6zM206.8 342.4h2.6v58.2h-2.6zM209.4 323.1h2.6v72.6h-2.6zM212.0 338.0h2.6v58.1h-2.6zM214.6 329.1h2.6v64.6h-2.6zM217.2 337.6h2.6v58.6h-2.6zM219.8 332.3h2.6v63.4h-2.6zM222.4 329.9h2.6v63.3h-2.6zM225.0 333.7h2.6v65.6h-2.6zM227.6 333.9h2.6v60.8h-2.6zM230.2 333.6h2.6v58.3h-2.6zM232.8 337.2h2.6v58.1h-2.6zM235.4 334.9h2.6v55.3h-2.6zM238.0 341.2h2.6v58.3h-2.6zM240.6 337.6h2.6v54.4h-2.6zM243.2 331.2h2.6v56.5h-2.6zM245.8 331.5h2.6v59.0h-2.6zM248.4 322.4h2.6v71.1h-2.6zM251.0 341.0h2.6v54.3h-2.6zM253.6 327.9h2.6v66.9h-2.6zM256.2 337.3h2.6v54.5h-2.6zM258.8 329.5h2.6v63.1h-2.6zM261.4 328.2h2.6v61.4h-2.6zM264.0 327.0h2.6v65.7h-2.6zM266.6 327.6h2.6v82.4h-2.6zM269.2 341.5h2.6v48.8h-2.6zM271.8 336.9h2.6v57.9h-2.6zM274.4 334.6h2.6v58.9h-2.6zM277.0 345.4h2.6v52.7h-2.6zM279.6 338.7h2.6v55.1h-2.6zM282.2 344.8h2.6v52.4h-2.6z"/>
<g fill="#000080" fill-opacity="0.119" stroke="#000080" stroke-opacity="0.170" stroke-width="1">
<circle cx=69 cy=346 r=2.2 /><circle cx=219 cy=348 r=2.2 /><circle cx=145 cy=382 r=2.2 /><circle cx=224 cy=367 r=2.2 /><circle cx=140 cy=353 r=2.2 /><circle cx=181 cy=347 r=2.2 /><circle cx=232 cy=335 r=2.2 /><circle cx=258 cy=389 r=2.2 /><circle cx=177 cy=369 r=2.2 /><circle cx=278 cy=382 r=2.2 /><circle cx=250 cy=357 r=2.2 /><circle cx=219 cy=338 r=2.2 /><circle cx=203 cy=363 r=2.2 /><circle cx=155 cy=345 r=2.2 /><circle cx=54 cy=368 r=2.2 /><circle cx=151 cy=372 r=2.2 /><circle cx=258 cy=345 r=2.2 /><circle cx=267 cy=354 r=2.2 /><circle cx=211 cy=333 r=2.2 /><circle cx=189 cy=391 r=2.2 /><circle cx=222 cy=354 r=2.2 /><circle cx=267 cy=399 r=2.2 /><circle cx=226 cy=366 r=2.2 /><circle cx=56 cy=347 r=2.2 /><circle cx=84 cy=370 r=2.2 /><circle cx=173 cy=357 r=2.2 /><circle cx=118 cy=358 r=2.2 /><circle cx=141 cy=352 r=2.2 /><circle cx=217 cy=353 r=2.2 /><circle cx=172 cy=368 r=2.2 /><circle cx=46 cy=355 r=2.2 /><circle cx=80 cy=366 r=2.2 /><circle cx=95 cy=348 r=2.2 /><circle cx=86 cy=371 r=2.2 /><circle cx=51 cy=382 r=2.2 /><circle cx=140 cy=343 r=2.2 /><circle cx=98 cy=350 r=2.2 /><circle cx=85 cy=378 r=2.2 /><circle cx=75 cy=340 r=2.2 /><circle cx=111 cy=387 r=2.2 /><circle cx=268 cy=352 r=2.2 /><circle cx=109 cy=390 r=2.2 /><circle cx=128 cy=349 r=2.2 /><circle cx=53 cy=360 r=2.2 /><circle cx=54 cy=345 r=2.2 /><circle cx=260 cy=342 r=2.2 /><circle cx=159 cy=392 r=2.2 /><circle cx=269 cy=343 r=2.2 /><circle cx=190 cy=392 r=2.2 /><circle cx=115 cy=388 r=2.2 /><circle cx=138 cy=360 r=2.2 /><circle cx=266 cy=338 r=2.2 /><circle cx=220 cy=385 r=2.2 /><circle cx=265 cy=351 r=2.2 /><circle cx=100 cy=387 r=2.2 /><circle cx=110 cy=353 r=2.2 /><circle cx=190 cy=380 r=2.2 /><circle cx=161 cy=331 r=2.2 /><circle cx=51 cy=383 r=2.2 /><circle cx=207 cy=343 r=2.2 /><circle cx=246 cy=369 r=2.2 /><circle cx=253 cy=365 r=2.2 /><circle cx=220 cy=353 r=2.2 /><circle cx=63 cy=362 r=2.2 /><circle cx=71 cy=369 r=2.2 /><circle cx=65 cy=376 r=2.2 /><circle cx=57 cy=349 r=2.2 /><circle cx=185 cy=341 r=2.2 /><circle cx=276 cy=348 r=2.2 /><circle cx=145 cy=384 r=2.2 /><circle cx=233 cy=368 r=2.2 /><circle cx=88 cy=346 r=2.2 /><circle cx=72 cy=336 r=2.2 /><circle cx=93 cy=386 r=2.2 /><circle cx=156 cy=347 r=2.2 /><circle cx=192 cy=372 r=2.2 /><circle cx=253 cy=360 r=2.2 /><circle cx=152 cy=348 r=2.2 /><circle cx=187 cy=387 r=2.2 /><circle cx=174 cy=360 r=2.2 /><circle cx=64 cy=358 r=2.2 /><circle cx=63 cy=370 r=2.2 /><circle cx=146 cy=377 r=2.2 /><circle cx=97 cy=358 r=2.2 /><circle cx=125 cy=371 r=2.2 /><circle cx=97 cy=348 r=2.2 /><circle cx=218 cy=389 r=2.2 /><circle cx=191 cy=392 r=2.2 /><circle cx=145 cy=393 r=2.2 /><circle cx=272 cy=365 r=2.2 /><circle cx=142 cy=398 r=2.2 /><circle cx=115 cy=392 r=2.2 /><circle cx=68 cy=375 r=2.2 /><circle cx=169 cy=375 r=2.2 /><circle cx=223 cy=347 r=2.2 /><circle cx=128 cy=383 r=2.2 /><circle cx=114 cy=345 r=2.2 /><circle cx=227 cy=380 r=2.2 /><circle cx=279 cy=392 r=2.2 /><circle cx=84 cy=359 r=2.2 /><circle cx=171 cy=365 r=2.2 /><circle cx=248 cy=343 r=2.2 /><circle cx=257 cy=381 r=2.2 /><circle cx=77 cy=369 r=2.2 /><circle cx=85 cy=348 r=2.2 /><circle cx=229 cy=362 r=2.2 /><circle cx=90 cy=342 r=2.2 /><circle cx=126 cy=349 r=2.2 /><circle cx=68 cy=353 r=2.2 /><circle cx=236 cy=358 r=2.2 /><circle cx=56 cy=364 r=2.2 /><circle cx=206 cy=387 r=2.2 /><circle cx=104 cy=339 r=2.2 /><circle cx=233 cy=367 r=2.2 /><circle cx=177 cy=352 r=2.2 /><circle cx=50 cy=383 r=2.2 /><circle cx=261 cy=359 r=2.2 /><circle cx=267 cy=380 r=2.2 /><circle cx=144 cy=368 r=2.2 /><circle cx=89 cy=380 r=2.2 /><circle cx=176 cy=360 r=2.2 /><circle cx=154 cy=387 r=2.2 /><circle cx=274 cy=346 r=2.2 /><circle cx=170 cy=361 r=2.2 /><circle cx=242 cy=388 r=2.2 /><circle cx=53 cy=389 r=2.2 /><circle cx=162 cy=341 r=2.2 /><circle cx=262 cy=334 r=2.2 /><circle cx=134 cy=373 r=2.2 /><circle cx=274 cy=374 r=2.2 /><circle cx=265 cy=339 r=2.2 /><circle cx=243 cy=355 r=2.2 /><circle cx=272 cy=388 r=2.2 /><circle cx=139 cy=357 r=2.2 /><circle cx=105 cy=400 r=2.2 /><circle cx=171 cy=378 r=2.2 /><circle cx=113 cy=397 r=2.2 /><circle cx=109 cy=371 r=2.2 /><circle cx=273 cy=345 r=2.2 /><circle cx=88 cy=398 r=2.2 /><circle cx=226 cy=345 r=2.2 /><circle cx=241 cy=385 r=2.2 /><circle cx=274 cy=368 r=2.2 /><circle cx=71 cy=360 r=2.2 /><circle cx=76 cy=359 r=2.2 /><circle cx=64 cy=348 r=2.2 /><circle cx=283 cy=396 r=2.2 /><circle cx=130 cy=395 r=2.2 /><circle cx=128 cy=383 r=2.2 /><circle cx=181 cy=362 r=2.2 /><circle cx=151 cy=370 r=2.2 /><circle cx=93 cy=372 r=2.2 /><circle cx=247 cy=342 r=2.2 /><circle cx=94 cy=345 r=2.2 /><circle cx=143 cy=390 r=2.2 /><circle cx=49 cy=395 r=2.2 /><circle cx=281 cy=376 r=2.2 /><circle cx=228 cy=340 r=2.2 /><circle cx=151 cy=350 r=2.2 /><circle cx=122 cy=372 r=2.2 /><circle cx=121 cy=362 r=2.2 /><circle cx=279 cy=395 r=2.2 /><circle cx=244 cy=347 r=2.2 /><circle cx=110 cy=351 r=2.2 /><circle cx=220 cy=358 r=2.2 /><circle cx=113 cy=397 r=2.2 /><circle cx=159 cy=370 r=2.2 /><circle cx=280 cy=368 r=2.2 /><circle cx=247 cy=377 r=2.2 /><circle cx=249 cy=350 r=2.2 /><circle cx=133 cy=356 r=2.2 /><circle cx=256 cy=357 r=2.2 /><circle cx=215 cy=352 r=2.2 /><circle cx=166 cy=361 r=2.2 /><circle cx=201 cy=385 r=2.2 /><circle cx=80 cy=353 r=2.2 /><circle cx=174 cy=391 r=2.2 /><circle cx=221 cy=385 r=2.2 /><circle cx=263 cy=355 r=2.2 /><circle cx=74 cy=392 r=2.2 /><circle cx=159 cy=398 r=2.2 /><circle cx=91 cy=387 r=2.2 /><circle cx=47 cy=388 r=2.2 /><circle cx=111 cy=363 r=2.2 /><circle cx=148 cy=379 r=2.2 /><circle cx=149 cy=349 r=2.2 /><circle cx=225 cy=393 r=2.2 /><circle cx=48 cy=370 r=2.2 /><circle cx=258 cy=382 r=2.2 /><circle cx=145 cy=373 r=2.2 /><circle cx=94 cy=362 r=2.2 /><circle cx=198 cy=330 r=2.2 /><circle cx=170 cy=371 r=2.2 /><circle cx=101 cy=366 r=2.2 /><circle cx=174 cy=348 r=2.2 /><circle cx=203 cy=365 r=2.2 /><circle cx=117 cy=386 r=2.2 /><circle cx=172 cy=370 r=2.2 /><circle cx=228 cy=389 r=2.2 /><circle cx=149 cy=361 r=2.2 /><circle cx=253 cy=353 r=2.2 /><circle cx=269 cy=337 r=2.2 /><circle cx=140 cy=354 r=2.2 /><circle cx=55 cy=368 r=2.2 /><circle cx=248 cy=381 r=2.2 /><circle cx=141 cy=364 r=2.2 /><circle cx=105 cy=348 r=2.2 /><circle cx=127 cy=350 r=2.2 /><circle cx=151 cy=372 r=2.2 /><circle cx=212 cy=350 r=2.2 /><circle cx=191 cy=355 r=2.2 /><circle cx=139 cy=373 r=2.2 /><circle cx=195 cy=357 r=2.2 /><circle cx=233 cy=384 r=2.2 /><circle cx=183 cy=351 r=2.2 /><circle cx=209 cy=355 r=2.2 /><circle cx=280 cy=358 r=2.2 /><circle cx=161 cy=333 r=2.2 /><circle cx=126 cy=382 r=2.2 /><circle cx=71 cy=367 r=2.2 /><circle cx=159 cy=371 r=2.2 /><circle cx=152 cy=368 r=2.2 /><circle cx=227 cy=370 r=2.2 /><circle cx=258 cy=386 r=2.2 /><circle cx=281 cy=385 r=2.2 /><circle cx=115 cy=340 r=2.2 /><circle cx=220 cy=355 r=2.2 /><circle cx=181 cy=349 r=2.2 /><circle cx=179 cy=357 r=2.2 /><circle cx=177 cy=355 r=2.2 /><circle cx=87 cy=366 r=2.2 /><circle cx=143 cy=371 r=2.2 /><circle cx=59 cy=362 r=2.2 /><circle cx=173 cy=391 r=2.2 /><circle cx=168 cy=360 r=2.2 /><circle cx=111 cy=358 r=2.2 /><circle cx=73 cy=397 r=2.2 /><circle cx=149 cy=358 r=2.2 /><circle cx=90 cy=373 r=2.2 /><circle cx=93 cy=354 r=2.2 /><circle cx=234 cy=380 r=2.2 /><circle cx=69 cy=375 r=2.2 /><circle cx=99 cy=369 r=2.2 /><circle cx=123 cy=389 r=2.2 /><circle cx=204 cy=352 r=2.2 /><circle cx=134 cy=388 r=2.2 /><circle cx=166 cy=378 r=2.2 /><circle cx=237 cy=349 r=2.2 /><circle cx=185 cy=359 r=2.2 /><circle cx=86 cy=378 r=2.2 /><circle cx=226 cy=367 r=2.2 /><circle cx=247 cy=374 r=2.2 /><circle cx=56 cy=371 r=2.2 /><circle cx=279 cy=384 r=2.2 /><circle cx=221 cy=342 r=2.2 /><circle cx=205 cy=371 r=2.2 /><circle cx=78 cy=374 r=2.2 /><circle cx=232 cy=356 r=2.2 /><circle cx=282 cy=372 r=2.2 /><circle cx=169 cy=356 r=2.2 /><circle cx=70 cy=380 r=2.2 /><circle cx=237 cy=359 r=2.2 /><circle cx=123 cy=354 r=2.2 /><circle cx=236 cy=354 r=2.2 /><circle cx=145 cy=347 r=2.2 /><circle cx=182 cy=367 r=2.2 /><circle cx=126 cy=355 r=2.2 /><circle cx=109 cy=387 r=2.2 /><circle cx=203 cy=378 r=2.2 /><circle cx=147 cy=361 r=2.2 /><circle cx=235 cy=366 r=2.2 /><circle cx=266 cy=365 r=2.2 /><circle cx=150 cy=349 r=2.2 /><circle cx=86 cy=364 r=2.2 /><circle cx=75 cy=368 r=2.2 /><circle cx=105 cy=396 r=2.2 /><circle cx=214 cy=388 r=2.2 /><circle cx=57 cy=377 r=2.2 /><circle cx=158 cy=353 r=2.2 /><circle cx=77 cy=374 r=2.2 /><circle cx=275 cy=337 r=2.2 /><circle cx=91 cy=346 r=2.2 /><circle cx=172 cy=379 r=2.2 /><circle cx=196 cy=332 r=2.2 /><circle cx=62 cy=377 r=2.2 /><circle cx=146 cy=380 r=2.2 /><circle cx=139 cy=367 r=2.2 /><circle cx=52 cy=373 r=2.2 /><circle cx=107 cy=370 r=2.2 /><circle cx=131 cy=377 r=2.2 /><circle cx=273 cy=365 r=2.2 /><circle cx=126 cy=349 r=2.2 /><circle cx=185 cy=370 r=2.2 /><circle cx=89 cy=347 r=2.2 /><circle cx=165 cy=349 r=2.2 /><circle cx=180 cy=354 r=2.2 /><circle cx=55 cy=380 r=2.2 /><circle cx=132 cy=385 r=2.2 /><circle cx=98 cy=357 r=2.2 /><circle cx=190 cy=377 r=2.2 /><circle cx=70 cy=379 r=2.2 /><circle cx=136 cy=367 r=2.2 /><circle cx=93 cy=362 r=2.2 /><circle cx=216 cy=388 r=2.2 /><circle cx=258 cy=381 r=2.2 /><circle cx=279 cy=353 r=2.2 /><circle cx=260 cy=337 r=2.2 /><circle cx=271 cy=356 r=2.2 /><circle cx=261 cy=357 r=2.2 /><circle cx=97 cy=385 r=2.2 /><circle cx=121 cy=362 r=2.2 /><circle cx=106 cy=342 r=2.2 /><circle cx=121 cy=358 r=2.2 /><circle cx=113 cy=345 r=2.2 /><circle cx=104 cy=345 r=2.2 /><circle cx=100 cy=394 r=2.2 /><circle cx=118 cy=343 r=2.2 /><circle cx=179 cy=357 r=2.2 /><circle cx=117 cy=382 r=2.2 /><circle cx=225 cy=382 r=2.2 /><circle cx=105 cy=344 r=2.2 /><circle cx=276 cy=388 r=2.2 /><circle cx=178 cy=342 r=2.2 /><circle cx=59 cy=390 r=2.2 /><circle cx=114 cy=393 r=2.2 /><circle cx=265 cy=347 r=2.2 /><circle cx=71 cy=385 r=2.2 /><circle cx=128 cy=378 r=2.2 /><circle cx=51 cy=407 r=2.2 /><circle cx=86 cy=362 r=2.2 /><circle cx=121 cy=369 r=2.2 /><circle cx=125 cy=363 r=2.2 /><circle cx=231 cy=359 r=2.2 /><circle cx=160 cy=329 r=2.2 /><circle cx=247 cy=360 r=2.2 /><circle cx=168 cy=388 r=2.2 /><circle cx=175 cy=361 r=2.2 /><circle cx=153 cy=367 r=2.2 /><circle cx=90 cy=396 r=2.2 /><circle cx=252 cy=351 r=2.2 /><circle cx=108 cy=346 r=2.2 /><circle cx=245 cy=379 r=2.2 /><circle cx=279 cy=348 r=2.2 /><circle cx=71 cy=378 r=2.2 /><circle cx=223 cy=380 r=2.2 /><circle cx=207 cy=385 r=2.2 /><circle cx=65 cy=391 r=2.2 /><circle cx=66 cy=387 r=2.2 /><circle cx=269 cy=345 r=2.2 /><circle cx=223 cy=369 r=2.2 /><circle cx=173 cy=394 r=2.2 /><circle cx=185 cy=347 r=2.2 /><circle cx=151 cy=370 r=2.2 /><circle cx=78 cy=380 r=2.2 /><circle cx=250 cy=342 r=2.2 /><circle cx=85 cy=392 r=2.2 /><circle cx=138 cy=370 r=2.2 /><circle cx=121 cy=361 r=2.2 /><circle cx=230 cy=351 r=2.2 /><circle cx=266 cy=375 r=2.2 /><circle cx=142 cy=396 r=2.2 /><circle cx=97 cy=344 r=2.2 /><circle cx=189 cy=361 r=2.2 /><circle cx=200 cy=361 r=2.2 /><circle cx=189 cy=376 r=2.2 /><circle cx=170 cy=366 r=2.2 /><circle cx=91 cy=385 r=2.2 /><circle cx=151 cy=380 r=2.2 /><circle cx=108 cy=351 r=2.2 /><circle cx=183 cy=335 r=2.2 /><circle cx=93 cy=389 r=2.2 /><circle cx=180 cy=351 r=2.2 /><circle cx=150 cy=368 r=2.2 /><circle cx=234 cy=356 r=2.2 /><circle cx=194 cy=367 r=2.2 /><circle cx=250 cy=359 r=2.2 /><circle cx=61 cy=367 r=2.2 /><circle cx=248 cy=366 r=2.2 /><circle cx=215 cy=370 r=2.2 /><circle cx=224 cy=344 r=2.2 /><circle cx=79 cy=355 r=2.2 /><circle cx=251 cy=381 r=2.2 /><circle cx=81 cy=365 r=2.2 /><circle cx=59 cy=391 r=2.2 /><circle cx=267 cy=385 r=2.2 /><circle cx=278 cy=359 r=2.2 /><circle cx=75 cy=348 r=2.2 /><circle cx=68 cy=376 r=2.2 /><circle cx=254 cy=379 r=2.2 /><circle cx=133 cy=368 r=2.2 /><circle cx=255 cy=377 r=2.2 /><circle cx=211 cy=349 r=2.2 /><circle cx=224 cy=382 r=2.2 /><circle cx=130 cy=375 r=2.2 /><circle cx=256 cy=328 r=2.2 /><circle cx=161 cy=335 r=2.2 /><circle cx=158 cy=404 r=2.2 /><circle cx=185 cy=383 r=2.2 /><circle cx=85 cy=388 r=2.2 /><circle cx=281 cy=381 r=2.2 /><circle cx=95 cy=374 r=2.2 /><circle cx=226 cy=371 r=2.2 /><circle cx=130 cy=357 r=2.2 /><circle cx=203 cy=356 r=2.2 /><circle cx=149 cy=379 r=2.2 /><circle cx=114 cy=395 r=2.2 /><circle cx=226 cy=352 r=2.2 /><circle cx=220 cy=386 r=2.2 /><circle cx=96 cy=379 r=2.2 /><circle cx=134 cy=372 r=2.2 /><circle cx=200 cy=378 r=2.2 /><circle cx=72 cy=372 r=2.2 /><circle cx=202 cy=369 r=2.2 /><circle cx=53 cy=402 r=2.2 /><circle cx=185 cy=356 r=2.2 /><circle cx=75 cy=370 r=2.2 /><circle cx=267 cy=394 r=2.2 /><circle cx=225 cy=359 r=2.2 /><circle cx=84 cy=392 r=2.2 /><circle cx=226 cy=339 r=2.2 /><circle cx=48 cy=379 r=2.2 /><circle cx=60 cy=358 r=2.2 /><circle cx=194 cy=348 r=2.2 /><circle cx=130 cy=392 r=2.2 /><circle cx=64 cy=396 r=2.2 /><circle cx=106 cy=388 r=2.2 /><circle cx=175 cy=387 r=2.2 /><circle cx=128 cy=384 r=2.2 /><circle cx=183 cy=371 r=2.2 /><circle cx=143 cy=398 r=2.2 /><circle cx=46 cy=355 r=2.2 /><circle cx=234 cy=349 r=2.2 /><circle cx=228 cy=344 r=2.2 /><circle cx=154 cy=392 r=2.2 /><circle cx=95 cy=381 r=2.2 /><circle cx=98 cy=347 r=2.2 /><circle cx=179 cy=352 r=2.2 /><circle cx=92 cy=364 r=2.2 /><circle cx=129 cy=391 r=2.2 /><circle cx=82 cy=354 r=2.2 /><circle cx=112 cy=392 r=2.2 /><circle cx=252 cy=375 r=2.2 /><circle cx=130 cy=344 r=2.2 /><circle cx=232 cy=385 r=2.2 /><circle cx=245 cy=363 r=2.2 /><circle cx=212 cy=364 r=2.2 /><circle cx=51 cy=360 r=2.2 /><circle cx=155 cy=341 r=2.2 /><circle cx=183 cy=378 r=2.2 /><circle cx=99 cy=393 r=2.2 /><circle cx=109 cy=351 r=2.2 /><circle cx=257 cy=381 r=2.2 /><circle cx=189 cy=352 r=2.2 /><circle cx=145 cy=382 r=2.2 /><circle cx=266 cy=329 r=2.2 /><circle cx=102 cy=389 r=2.2 /><circle cx=273 cy=364 r=2.2 /><circle cx=115 cy=387 r=2.2 /><circle cx=256 cy=368 r=2.2 /><circle cx=270 cy=357 r=2.2 /><circle cx=107 cy=343 r=2.2 /><circle cx=214 cy=395 r=2.2 /><circle cx=249 cy=381 r=2.2 /><circle cx=176 cy=348 r=2.2 /><circle cx=122 cy=377 r=2.2 /><circle cx=195 cy=337 r=2.2 /><circle cx=209 cy=339 r=2.2 /><circle cx=275 cy=358 r=2.2 /><circle cx=192 cy=393 r=2.2 /><circle cx=225 cy=373 r=2.2 /><circle cx=169 cy=371 r=2.2 /><circle cx=203 cy=388 r=2.2 /><circle cx=239 cy=350 r=2.2 /><circle cx=87 cy=396 r=2.2 /><circle cx=213 cy=372 r=2.2 /><circle cx=150 cy=372 r=2.2 /><circle cx=172 cy=381 r=2.2 /><circle cx=215 cy=368 r=2.2 /><circle cx=255 cy=333 r=2.2 /><circle cx=191 cy=359 r=2.2 /><circle cx=69 cy=348 r=2.2 /><circle cx=215 cy=385 r=2.2 /><circle cx=71 cy=359 r=2.2 /><circle cx=215 cy=348 r=2.2 /><circle cx=185 cy=355 r=2.2 /><circle cx=63 cy=372 r=2.2 /><circle cx=56 cy=367 r=2.2 /><circle cx=191 cy=354 r=2.2 /><circle cx=274 cy=361 r=2.2 /><circle cx=88 cy=381 r=2.2 /><circle cx=134 cy=377 r=2.2 /><circle cx=201 cy=389 r=2.2 /><circle cx=195 cy=370 r=2.2 /><circle cx=198 cy=375 r=2.2 /><circle cx=162 cy=376 r=2.2 /><circle cx=106 cy=401 r=2.2 /><circle cx=240 cy=375 r=2.2 /><circle cx=195 cy=326 r=2.2 /><circle cx=118 cy=387 r=2.2 /><circle cx=78 cy=362 r=2.2 /><circle cx=73 cy=391 r=2.2 /><circle cx=122 cy=368 r=2.2 /><circle cx=144 cy=395 r=2.2 /><circle cx=159 cy=396 r=2.2 /><circle cx=87 cy=388 r=2.2 /><circle cx=258 cy=382 r=2.2 /><circle cx=125 cy=352 r=2.2 /><circle cx=151 cy=360 r=2.2 /><circle cx=99 cy=392 r=2.2 /><circle cx=178 cy=372 r=2.2 /><circle cx=165 cy=358 r=2.2 /><circle cx=241 cy=386 r=2.2 /><circle cx=105 cy=397 r=2.2 /><circle cx=86 cy=378 r=2.2 /><circle cx=182 cy=342 r=2.2 /><circle cx=83 cy=361 r=2.2 /><circle cx=234 cy=381 r=2.2 /><circle cx=233 cy=391 r=2.2 /><circle cx=154 cy=393 r=2.2 /><circle cx=118 cy=378 r=2.2 /><circle cx=283 cy=390 r=2.2 /><circle cx=214 cy=349 r=2.2 /><circle cx=183 cy=363 r=2.2 /><circle cx=118 cy=342 r=2.2 /><circle cx=133 cy=350 r=2.2 /><circle cx=167 cy=377 r=2.2 /><circle cx=81 cy=359 r=2.2 /><circle cx=111 cy=394 r=2.2 /><circle cx=259 cy=341 r=2.2 /><circle cx=76 cy=346 r=2.2 /><circle cx=132 cy=374 r=2.2 /><circle cx=119 cy=354 r=2.2 /><circle cx=65 cy=362 r=2.2 /><circle cx=182 cy=350 r=2.2 /><circle cx=150 cy=387 r=2.2 /><circle cx=114 cy=385 r=2.2 /><circle cx=50 cy=384 r=2.2 /><circle cx=248 cy=358 r=2.2 /><circle cx=194 cy=375 r=2.2 /><circle cx=103 cy=360 r=2.2 /><circle cx=111 cy=379 r=2.2 /><circle cx=261 cy=352 r=2.2 /><circle cx=64 cy=344 r=2.2 /><circle cx=256 cy=356 r=2.2 /><circle cx=274 cy=393 r=2.2 /><circle cx=103 cy=357 r=2.2 /><circle cx=107 cy=362 r=2.2 /><circle cx=103 cy=384 r=2.2 /><circle cx=152 cy=367 r=2.2 /><circle cx=208 cy=344 r=2.2 /><circle cx=156 cy=354 r=2.2 /><circle cx=150 cy=365 r=2.2 /><circle cx=69 cy=367 r=2.2 /><circle cx=227 cy=368 r=2.2 /><circle cx=242 cy=362 r=2.2 /><circle cx=112 cy=343 r=2.2 /><circle cx=262 cy=386 r=2.2 /><circle cx=82 cy=354 r=2.2 /><circle cx=162 cy=352 r=2.2 /><circle cx=242 cy=359 r=2.2 /><circle cx=110 cy=369 r=2.2 /><circle cx=58 cy=369 r=2.2 /><circle cx=89 cy=356 r=2.2 /><circle cx=129 cy=354 r=2.2 /><circle cx=170 cy=360 r=2.2 /><circle cx=122 cy=353 r=2.2 /><circle cx=188 cy=346 r=2.2 /><circle cx=119 cy=399 r=2.2 /><circle cx=77 cy=378 r=2.2 /><circle cx=72 cy=392 r=2.2 /><circle cx=233 cy=371 r=2.2 /><circle cx=178 cy=375 r=2.2 /><circle cx=250 cy=383 r=2.2 /><circle cx=95 cy=369 r=2.2 /><circle cx=130 cy=389 r=2.2 /><circle cx=209 cy=374 r=2.2 /><circle cx=92 cy=386 r=2.2 /><circle cx=261 cy=369 r=2.2 /><circle cx=91 cy=375 r=2.2 /><circle cx=211 cy=330 r=2.2 /><circle cx=148 cy=368 r=2.2 /><circle cx=190 cy=368 r=2.2 /><circle cx=156 cy=335 r=2.2 /><circle cx=247 cy=354 r=2.2 /><circle cx=185 cy=375 r=2.2 /><circle cx=229 cy=334 r=2.2 /><circle cx=119 cy=375 r=2.2 /><circle cx=224 cy=354 r=2.2 /><circle cx=122 cy=394 r=2.2 /><circle cx=93 cy=379 r=2.2 /><circle cx=102 cy=348 r=2.2 /><circle cx=275 cy=342 r=2.2 /><circle cx=267 cy=349 r=2.2 /><circle cx=116 cy=379 r=2.2 /><circle cx=158 cy=339 r=2.2 /><circle cx=212 cy=355 r=2.2 /><circle cx=67 cy=350 r=2.2 /><circle cx=223 cy=387 r=2.2 /><circle cx=77 cy=324 r=2.2 /><circle cx=281 cy=334 r=2.2 /><circle cx=252 cy=314 r=2.2 /><circle cx=51 cy=344 r=2.2 /><circle cx=283 cy=337 r=2.2 /><circle cx=200 cy=335 r=2.2 /><circle cx=93 cy=332 r=2.2 /><circle cx=167 cy=331 r=2.2 /><circle cx=224 cy=326 r=2.2 /><circle cx=283 cy=347 r=2.2 /><circle cx=279 cy=334 r=2.2 /><circle cx=264 cy=328 r=2.2 /><circle cx=215 cy=321 r=2.2 /><circle cx=214 cy=340 r=2.2 /><circle cx=235 cy=333 r=2.2 /><circle cx=158 cy=318 r=2.2 /><circle cx=168 cy=303 r=2.2 /><circle cx=213 cy=333 r=2.2 /><circle cx=210 cy=326 r=2.2 /><circle cx=273 cy=337 r=2.2 /><circle cx=158 cy=324 r=2.2 /><circle cx=135 cy=336 r=2.2 /><circle cx=276 cy=331 r=2.2 /><circle cx=65 cy=339 r=2.2 /><circle cx=166 cy=305 r=2.2 /><circle cx=133 cy=347 r=2.2 /><circle cx=233 cy=331 r=2.2 /><circle cx=154 cy=315 r=2.2 /><circle cx=112 cy=320 r=2.2 /><circle cx=110 cy=333 r=2.2 /><circle cx=156 cy=326 r=2.2 /><circle cx=226 cy=318 r=2.2 /><circle cx=91 cy=334 r=2.2 /><circle cx=62 cy=328 r=2.2 /><circle cx=276 cy=325 r=2.2 /><circle cx=112 cy=329 r=2.2 /><circle cx=235 cy=316 r=2.2 /><circle cx=134 cy=330 r=2.2 /><circle cx=107 cy=335 r=2.2 /><circle cx=204 cy=303 r=2.2 /><circle cx=85 cy=335 r=2.2 /><circle cx=275 cy=319 r=2.2 /><circle cx=98 cy=346 r=2.2 /><circle cx=226 cy=294 r=2.2 /><circle cx=235 cy=326 r=2.2 /><circle cx=55 cy=336 r=2.2 /><circle cx=187 cy=337 r=2.2 /><circle cx=260 cy=313 r=2.2 /><circle cx=105 cy=296 r=2.2 /><circle cx=82 cy=330 r=2.2 /><circle cx=67 cy=333 r=2.2 /><circle cx=51 cy=338 r=2.2 /><circle cx=134 cy=342 r=2.2 /><circle cx=278 cy=347 r=2.2 /><circle cx=150 cy=317 r=2.2 /><circle cx=265 cy=305 r=2.2 /><circle cx=235 cy=335 r=2.2 /><circle cx=152 cy=333 r=2.2 /><circle cx=140 cy=306 r=2.2 /><circle cx=270 cy=337 r=2.2 /><circle cx=158 cy=331 r=2.2 /><circle cx=163 cy=318 r=2.2 /><circle cx=215 cy=328 r=2.2 /><circle cx=215 cy=322 r=2.2 /><circle cx=95 cy=325 r=2.2 /><circle cx=159 cy=323 r=2.2 /><circle cx=218 cy=330 r=2.2 /><circle cx=242 cy=334 r=2.2 /><circle cx=72 cy=323 r=2.2 /><circle cx=127 cy=347 r=2.2 /><circle cx=100 cy=333 r=2.2 /><circle cx=69 cy=341 r=2.2 /><circle cx=83 cy=326 r=2.2 /><circle cx=223 cy=320 r=2.2 /><circle cx=110 cy=342 r=2.2 /><circle cx=152 cy=342 r=2.2 /><circle cx=181 cy=336 r=2.2 /><circle cx=70 cy=319 r=2.2 /><circle cx=96 cy=322 r=2.2 /><circle cx=241 cy=344 r=2.2 /><circle cx=48 cy=353 r=2.2 /><circle cx=220 cy=323 r=2.2 /><circle cx=100 cy=332 r=2.2 /><circle cx=173 cy=332 r=2.2 /><circle cx=89 cy=323 r=2.2 /><circle cx=132 cy=347 r=2.2 /><circle cx=264 cy=331 r=2.2 /><circle cx=76 cy=318 r=2.2 /><circle cx=101 cy=299 r=2.2 /><circle cx=64 cy=296 r=2.2 /><circle cx=77 cy=339 r=2.2 /><circle cx=232 cy=328 r=2.2 /><circle cx=104 cy=325 r=2.2 /><circle cx=207 cy=333 r=2.2 /><circle cx=213 cy=341 r=2.2 /><circle cx=137 cy=332 r=2.2 /><circle cx=115 cy=338 r=2.2 /><circle cx=238 cy=305 r=2.2 /><circle cx=181 cy=320 r=2.2 /><circle cx=151 cy=310 r=2.2 /><circle cx=127 cy=343 r=2.2 /><circle cx=221 cy=317 r=2.2 /><circle cx=138 cy=340 r=2.2 /><circle cx=46 cy=344 r=2.2 /><circle cx=198 cy=324 r=2.2 /><circle cx=61 cy=333 r=2.2 /><circle cx=182 cy=320 r=2.2 /><circle cx=130 cy=334 r=2.2 /><circle cx=176 cy=335 r=2.2 /><circle cx=226 cy=331 r=2.2 /><circle cx=120 cy=317 r=2.2 /><circle cx=116 cy=315 r=2.2 /><circle cx=126 cy=336 r=2.2 /><circle cx=72 cy=322 r=2.2 /><circle cx=255 cy=330 r=2.2 /><circle cx=250 cy=320 r=2.2 /><circle cx=194 cy=316 r=2.2 /><circle cx=271 cy=337 r=2.2 /><circle cx=190 cy=324 r=2.2 /><circle cx=150 cy=345 r=2.2 /><circle cx=125 cy=333 r=2.2 /><circle cx=269 cy=309 r=2.2 /><circle cx=166 cy=339 r=2.2 /><circle cx=50 cy=345 r=2.2 /><circle cx=225 cy=335 r=2.2 /><circle cx=231 cy=324 r=2.2 /><circle cx=117 cy=324 r=2.2 /><circle cx=91 cy=334 r=2.2 /><circle cx=84 cy=342 r=2.2 /><circle cx=137 cy=333 r=2.2 /><circle cx=130 cy=326 r=2.2 /><circle cx=149 cy=330 r=2.2 /><circle cx=127 cy=344 r=2.2 /><circle cx=166 cy=324 r=2.2 /><circle cx=206 cy=338 r=2.2 /><circle cx=120 cy=330 r=2.2 /><circle cx=276 cy=321 r=2.2 /><circle cx=50 cy=346 r=2.2 /><circle cx=124 cy=319 r=2.2 /><circle cx=200 cy=324 r=2.2 /><circle cx=280 cy=337 r=2.2 /><circle cx=85 cy=344 r=2.2 /><circle cx=109 cy=336 r=2.2 /><circle cx=194 cy=327 r=2.2 /><circle cx=211 cy=322 r=2.2 /><circle cx=115 cy=341 r=2.2 /><circle cx=155 cy=333 r=2.2 /><circle cx=131 cy=334 r=2.2 /><circle cx=143 cy=323 r=2.2 /><circle cx=250 cy=325 r=2.2 /><circle cx=185 cy=315 r=2.2 /><circle cx=229 cy=321 r=2.2 /><circle cx=122 cy=330 r=2.2 /><circle cx=180 cy=305 r=2.2 /><circle cx=231 cy=325 r=2.2 /><circle cx=231 cy=335 r=2.2 /><circle cx=252 cy=311 r=2.2 /><circle cx=276 cy=338 r=2.2 /><circle cx=209 cy=328 r=2.2 /><circle cx=52 cy=342 r=2.2 /><circle cx=192 cy=331 r=2.2 /><circle cx=251 cy=320 r=2.2 /><circle cx=127 cy=342 r=2.2 /><circle cx=109 cy=340 r=2.2 /><circle cx=158 cy=329 r=2.2 /><circle cx=139 cy=333 r=2.2 /><circle cx=114 cy=341 r=2.2 /><circle cx=123 cy=309 r=2.2 /><circle cx=85 cy=337 r=2.2 /><circle cx=170 cy=316 r=2.2 /><circle cx=205 cy=293 r=2.2 /><circle cx=80 cy=305 r=2.2 /><circle cx=119 cy=284 r=2.2 /><circle cx=196 cy=319 r=2.2 /><circle cx=159 cy=316 r=2.2 /><circle cx=263 cy=320 r=2.2 /><circle cx=46 cy=329 r=2.2 /><circle cx=53 cy=315 r=2.2 /><circle cx=57 cy=333 r=2.2 /><circle cx=162 cy=314 r=2.2 /><circle cx=272 cy=318 r=2.2 /><circle cx=237 cy=309 r=2.2 /><circle cx=59 cy=312 r=2.2 /><circle cx=137 cy=320 r=2.2 /><circle cx=169 cy=330 r=2.2 /><circle cx=99 cy=344 r=2.2 /><circle cx=238 cy=330 r=2.2 /><circle cx=183 cy=311 r=2.2 /><circle cx=80 cy=334 r=2.2 /><circle cx=173 cy=310 r=2.2 /><circle cx=196 cy=308 r=2.2 /><circle cx=82 cy=330 r=2.2 /><circle cx=256 cy=339 r=2.2 /><circle cx=145 cy=337 r=2.2 /><circle cx=151 cy=345 r=2.2 /><circle cx=66 cy=329 r=2.2 /><circle cx=225 cy=329 r=2.2 /><circle cx=106 cy=331 r=2.2 /><circle cx=172 cy=315 r=2.2 /><circle cx=142 cy=344 r=2.2 /><circle cx=250 cy=318 r=2.2 /><circle cx=282 cy=348 r=2.2 /><circle cx=72 cy=320 r=2.2 /><circle cx=125 cy=346 r=2.2 /><circle cx=52 cy=354 r=2.2 /><circle cx=252 cy=332 r=2.2 /><circle cx=233 cy=285 r=2.2 /><circle cx=238 cy=341 r=2.2 /><circle cx=129 cy=339 r=2.2 /><circle cx=270 cy=319 r=2.2 /><circle cx=134 cy=307 r=2.2 /><circle cx=71 cy=310 r=2.2 /><circle cx=180 cy=296 r=2.2 /><circle cx=93 cy=332 r=2.2 /><circle cx=228 cy=295 r=2.2 /><circle cx=156 cy=329 r=2.2 /><circle cx=189 cy=333 r=2.2 /><circle cx=97 cy=282 r=2.2 /><circle cx=135 cy=323 r=2.2 /><circle cx=283 cy=346 r=2.2 /><circle cx=164 cy=332 r=2.2 /><circle cx=105 cy=332 r=2.2 /><circle cx=278 cy=336 r=2.2 /><circle cx=64 cy=335 r=2.2 /><circle cx=121 cy=328 r=2.2 /><circle cx=100 cy=340 r=2.2 /><circle cx=92 cy=332 r=2.2 /><circle cx=112 cy=325 r=2.2 /><circle cx=203 cy=323 r=2.2 /><circle cx=235 cy=319 r=2.2 /><circle cx=238 cy=328 r=2.2 /><circle cx=255 cy=312 r=2.2 /><circle cx=106 cy=332 r=2.2 /><circle cx=250 cy=321 r=2.2 /><circle cx=252 cy=340 r=2.2 /><circle cx=84 cy=339 r=2.2 /><circle cx=76 cy=327 r=2.2 /><circle cx=121 cy=332 r=2.2 /><circle cx=264 cy=313 r=2.2 /><circle cx=143 cy=328 r=2.2 /><circle cx=252 cy=343 r=2.2 /><circle cx=205 cy=336 r=2.2 /><circle cx=60 cy=321 r=2.2 /><circle cx=282 cy=332 r=2.2 /><circle cx=219 cy=306 r=2.2 /><circle cx=164 cy=326 r=2.2 /><circle cx=60 cy=320 r=2.2 /><circle cx=249 cy=308 r=2.2 /><circle cx=268 cy=310 r=2.2 /><circle cx=122 cy=328 r=2.2 /><circle cx=92 cy=336 r=2.2 /><circle cx=128 cy=345 r=2.2 /><circle cx=51 cy=349 r=2.2 /><circle cx=251 cy=320 r=2.2 /><circle cx=113 cy=325 r=2.2 /><circle cx=251 cy=311 r=2.2 /><circle cx=114 cy=342 r=2.2 /><circle cx=154 cy=331 r=2.2 /><circle cx=47 cy=337 r=2.2 /><circle cx=255 cy=331 r=2.2 /><circle cx=184 cy=326 r=2.2 /><circle cx=154 cy=338 r=2.2 /><circle cx=269 cy=318 r=2.2 /><circle cx=46 cy=336 r=2.2 /><circle cx=278 cy=298 r=2.2 /><circle cx=151 cy=347 r=2.2 /><circle cx=92 cy=292 r=2.2 /><circle cx=109 cy=346 r=2.2 /><circle cx=93 cy=334 r=2.2 /><circle cx=149 cy=322 r=2.2 /><circle cx=252 cy=323 r=2.2 /><circle cx=116 cy=323 r=2.2 /><circle cx=230 cy=333 r=2.2 /><circle cx=183 cy=333 r=2.2 /><circle cx=259 cy=322 r=2.2 /><circle cx=155 cy=300 r=2.2 /><circle cx=128 cy=346 r=2.2 /><circle cx=110 cy=329 r=2.2 /><circle cx=153 cy=326 r=2.2 /><circle cx=252 cy=332 r=2.2 /><circle cx=150 cy=327 r=2.2 /><circle cx=141 cy=345 r=2.2 /><circle cx=100 cy=329 r=2.2 /><circle cx=196 cy=304 r=2.2 /><circle cx=86 cy=342 r=2.2 /><circle cx=145 cy=333 r=2.2 /><circle cx=113 cy=341 r=2.2 /><circle cx=176 cy=335 r=2.2 /><circle cx=212 cy=341 r=2.2 /><circle cx=183 cy=327 r=2.2 /><circle cx=110 cy=329 r=2.2 /><circle cx=62 cy=314 r=2.2 /><circle cx=128 cy=328 r=2.2 /><circle cx=111 cy=337 r=2.2 /><circle cx=83 cy=402 r=2.2 /><circle cx=260 cy=398 r=2.2 /><circle cx=120 cy=408 r=2.2 /><circle cx=133 cy=402 r=2.2 /><circle cx=91 cy=413 r=2.2 /><circle cx=192 cy=398 r=2.2 /><circle cx=142 cy=397 r=2.2 /><circle cx=212 cy=397 r=2.2 /><circle cx=184 cy=397 r=2.2 /><circle cx=92 cy=401 r=2.2 /><circle cx=84 cy=419 r=2.2 /><circle cx=63 cy=407 r=2.2 /><circle cx=148 cy=403 r=2.2 /><circle cx=154 cy=402 r=2.2 /><circle cx=62 cy=397 r=2.2 /><circle cx=88 cy=398 r=2.2 /><circle cx=191 cy=394 r=2.2 /><circle cx=145 cy=404 r=2.2 /><circle cx=146 cy=402 r=2.2 /><circle cx=237 cy=398 r=2.2 /><circle cx=144 cy=408 r=2.2 /><circle cx=216 cy=396 r=2.2 /><circle cx=205 cy=394 r=2.2 /><circle cx=258 cy=390 r=2.2 /><circle cx=98 cy=402 r=2.2 /><circle cx=263 cy=408 r=2.2 /><circle cx=263 cy=389 r=2.2 /><circle cx=94 cy=398 r=2.2 /><circle cx=231 cy=389 r=2.2 /><circle cx=251 cy=397 r=2.2 /><circle cx=228 cy=401 r=2.2 /><circle cx=271 cy=392 r=2.2 /><circle cx=156 cy=405 r=2.2 /><circle cx=125 cy=412 r=2.2 /><circle cx=173 cy=396 r=2.2 /><circle cx=253 cy=409 r=2.2 /><circle cx=165 cy=398 r=2.2 /><circle cx=110 cy=408 r=2.2 /><circle cx=210 cy=394 r=2.2 /><circle cx=220 cy=415 r=2.2 /><circle cx=57 cy=395 r=2.2 /><circle cx=123 cy=410 r=2.2 /><circle cx=247 cy=419 r=2.2 /><circle cx=55 cy=396 r=2.2 /><circle cx=75 cy=396 r=2.2 /><circle cx=91 cy=408 r=2.2 /><circle cx=254 cy=398 r=2.2 /><circle cx=49 cy=407 r=2.2 /><circle cx=157 cy=397 r=2.2 /><circle cx=64 cy=404 r=2.2 /><circle cx=163 cy=390 r=2.2 /><circle cx=190 cy=400 r=2.2 /><circle cx=109 cy=402 r=2.2 /><circle cx=267 cy=413 r=2.2 /><circle cx=116 cy=399 r=2.2 /><circle cx=272 cy=394 r=2.2 /><circle cx=182 cy=394 r=2.2 /><circle cx=247 cy=389 r=2.2 /><circle cx=134 cy=403 r=2.2 /><circle cx=220 cy=394 r=2.2 /><circle cx=254 cy=398 r=2.2 /><circle cx=138 cy=401 r=2.2 /><circle cx=59 cy=400 r=2.2 /><circle cx=218 cy=394 r=2.2 /><circle cx=135 cy=399 r=2.2 /><circle cx=77 cy=400 r=2.2 /><circle cx=163 cy=401 r=2.2 /><circle cx=195 cy=421 r=2.2 /><circle cx=221 cy=404 r=2.2 /><circle cx=221 cy=399 r=2.2 /><circle cx=180 cy=395 r=2.2 /><circle cx=210 cy=404 r=2.2 /><circle cx=123 cy=419 r=2.2 /><circle cx=95 cy=405 r=2.2 /><circle cx=127 cy=396 r=2.2 /><circle cx=178 cy=393 r=2.2 /><circle cx=101 cy=409 r=2.2 /><circle cx=208 cy=399 r=2.2 /><circle cx=229 cy=394 r=2.2 /><circle cx=61 cy=396 r=2.2 /><circle cx=65 cy=404 r=2.2 /><circle cx=181 cy=416 r=2.2 /><circle cx=229 cy=393 r=2.2 /><circle cx=253 cy=406 r=2.2 /><circle cx=184 cy=397 r=2.2 /><circle cx=55 cy=396 r=2.2 /><circle cx=180 cy=395 r=2.2 /><circle cx=90 cy=395 r=2.2 /><circle cx=268 cy=425 r=2.2 /><circle cx=171 cy=394 r=2.2 /><circle cx=160 cy=397 r=2.2 /><circle cx=129 cy=394 r=2.2 /><circle cx=106 cy=410 r=2.2 /><circle cx=170 cy=401 r=2.2 /><circle cx=149 cy=399 r=2.2 /><circle cx=109 cy=412 r=2.2 /><circle cx=276 cy=406 r=2.2 /><circle cx=196 cy=394 r=2.2 /><circle cx=165 cy=394 r=2.2 /><circle cx=65 cy=399 r=2.2 /><circle cx=52 cy=418 r=2.2 /><circle cx=277 cy=397 r=2.2 /><circle cx=134 cy=395 r=2.2 /><circle cx=145 cy=400 r=2.2 /><circle cx=95 cy=388 r=2.2 /><circle cx=138 cy=397 r=2.2 /><circle cx=116 cy=410 r=2.2 /><circle cx=216 cy=394 r=2.2 /><circle cx=266 cy=391 r=2.2 /><circle cx=136 cy=409 r=2.2 /><circle cx=91 cy=398 r=2.2 /><circle cx=260 cy=394 r=2.2 /><circle cx=49 cy=402 r=2.2 /><circle cx=160 cy=407 r=2.2 /><circle cx=234 cy=404 r=2.2 /><circle cx=148 cy=425 r=2.2 /><circle cx=121 cy=417 r=2.2 /><circle cx=171 cy=408 r=2.2 /><circle cx=101 cy=400 r=2.2 /><circle cx=95 cy=398 r=2.2 /><circle cx=55 cy=396 r=2.2 /><circle cx=99 cy=411 r=2.2 /><circle cx=158 cy=416 r=2.2 /><circle cx=212 cy=396 r=2.2 /><circle cx=237 cy=399 r=2.2 /><circle cx=200 cy=409 r=2.2 /><circle cx=186 cy=408 r=2.2 /><circle cx=62 cy=396 r=2.2 /><circle cx=77 cy=410 r=2.2 /><circle cx=182 cy=393 r=2.2 /><circle cx=148 cy=402 r=2.2 /><circle cx=151 cy=404 r=2.2 /><circle cx=105 cy=405 r=2.2 /><circle cx=246 cy=391 r=2.2 /><circle cx=162 cy=413 r=2.2 /><circle cx=234 cy=405 r=2.2 /><circle cx=180 cy=404 r=2.2 /><circle cx=221 cy=399 r=2.2 /><circle cx=227 cy=407 r=2.2 /><circle cx=252 cy=397 r=2.2 /><circle cx=194 cy=401 r=2.2 /><circle cx=262 cy=392 r=2.2 /><circle cx=96 cy=405 r=2.2 /><circle cx=264 cy=402 r=2.2 /><circle cx=181 cy=395 r=2.2 /><circle cx=263 cy=406 r=2.2 /><circle cx=175 cy=412 r=2.2 /><circle cx=250 cy=393 r=2.2 /><circle cx=128 cy=396 r=2.2 /><circle cx=166 cy=401 r=2.2 /><circle cx=141 cy=402 r=2.2 /><circle cx=161 cy=399 r=2.2 /><circle cx=125 cy=402 r=2.2 /><circle cx=170 cy=401 r=2.2 /><circle cx=133 cy=403 r=2.2 /><circle cx=231 cy=402 r=2.2 /><circle cx=62 cy=395 r=2.2 /><circle cx=117 cy=404 r=2.2 /><circle cx=116 cy=393 r=2.2 /><circle cx=272 cy=395 r=2.2 /><circle cx=59 cy=408 r=2.2 /><circle cx=152 cy=404 r=2.2 /><circle cx=259 cy=405 r=2.2 /><circle cx=108 cy=404 r=2.2 /><circle cx=207 cy=390 r=2.2 /><circle cx=77 cy=400 r=2.2 /><circle cx=194 cy=415 r=2.2 /><circle cx=262 cy=391 r=2.2 /><circle cx=100 cy=419 r=2.2 /><circle cx=137 cy=397 r=2.2 /><circle cx=177 cy=395 r=2.2 /><circle cx=84 cy=410 r=2.2 /><circle cx=279 cy=399 r=2.2 /><circle cx=199 cy=412 r=2.2 /><circle cx=253 cy=400 r=2.2 /><circle cx=103 cy=419 r=2.2 /><circle cx=282 cy=402 r=2.2 /><circle cx=165 cy=394 r=2.2 /><circle cx=218 cy=402 r=2.2 /><circle cx=164 cy=399 r=2.2 /><circle cx=135 cy=400 r=2.2 /><circle cx=50 cy=401 r=2.2 /><circle cx=115 cy=394 r=2.2 /><circle cx=108 cy=402 r=2.2 /><circle cx=265 cy=392 r=2.2 /><circle cx=212 cy=404 r=2.2 /><circle cx=235 cy=400 r=2.2 /><circle cx=233 cy=390 r=2.2 /><circle cx=282 cy=394 r=2.2 /><circle cx=78 cy=408 r=2.2 /><circle cx=149 cy=422 r=2.2 /><circle cx=236 cy=407 r=2.2 /><circle cx=203 cy=400 r=2.2 /><circle cx=90 cy=405 r=2.2 /><circle cx=148 cy=411 r=2.2 /><circle cx=46 cy=427 r=2.2 /><circle cx=81 cy=408 r=2.2 /><circle cx=109 cy=415 r=2.2 /><circle cx=108 cy=400 r=2.2 /><circle cx=282 cy=392 r=2.2 /><circle cx=178 cy=393 r=2.2 /><circle cx=112 cy=406 r=2.2 /><circle cx=164 cy=414 r=2.2 /><circle cx=80 cy=412 r=2.2 /><circle cx=263 cy=394 r=2.2 /><circle cx=77 cy=396 r=2.2 /><circle cx=186 cy=398 r=2.2 /><circle cx=235 cy=393 r=2.2 /><circle cx=150 cy=396 r=2.2 /><circle cx=92 cy=400 r=2.2 /><circle cx=238 cy=415 r=2.2 /><circle cx=55 cy=401 r=2.2 /><circle cx=133 cy=408 r=2.2 /><circle cx=47 cy=404 r=2.2 /><circle cx=59 cy=393 r=2.2 /><circle cx=230 cy=420 r=2.2 /><circle cx=263 cy=391 r=2.2 /><circle cx=169 cy=410 r=2.2 /><circle cx=50 cy=401 r=2.2 /><circle cx=233 cy=395 r=2.2 /><circle cx=198 cy=409 r=2.2 /><circle cx=161 cy=404 r=2.2 /><circle cx=125 cy=410 r=2.2 /><circle cx=147 cy=402 r=2.2 /><circle cx=119 cy=406 r=2.2 /><circle cx=241 cy=389 r=2.2 /><circle cx=57 cy=402 r=2.2 /><circle cx=124 cy=406 r=2.2 /><circle cx=167 cy=397 r=2.2 /><circle cx=227 cy=401 r=2.2 /><circle cx=268 cy=412 r=2.2 /><circle cx=184 cy=404 r=2.2 /><circle cx=261 cy=397 r=2.2 /><circle cx=209 cy=425 r=2.2 /><circle cx=46 cy=395 r=2.2 /><circle cx=67 cy=395 r=2.2 /><circle cx=189 cy=403 r=2.2 /><circle cx=281 cy=404 r=2.2 /><circle cx=100 cy=407 r=2.2 /><circle cx=213 cy=403 r=2.2 /><circle cx=64 cy=397 r=2.2 /><circle cx=270 cy=388 r=2.2 /><circle cx=98 cy=403 r=2.2 /><circle cx=210 cy=402 r=2.2 /><circle cx=125 cy=409 r=2.2 /><circle cx=221 cy=406 r=2.2 /><circle cx=50 cy=408 r=2.2 /><circle cx=120 cy=409 r=2.2 /><circle cx=143 cy=397 r=2.2 /><circle cx=231 cy=414 r=2.2 /><circle cx=123 cy=405 r=2.2 /><circle cx=208 cy=409 r=2.2 /><circle cx=219 cy=408 r=2.2 /><circle cx=244 cy=400 r=2.2 /><circle cx=89 cy=396 r=2.2 /><circle cx=56 cy=393 r=2.2 /><circle cx=68 cy=392 r=2.2 /><circle cx=101 cy=400 r=2.2 /><circle cx=255 cy=394 r=2.2 /><circle cx=75 cy=399 r=2.2 /><circle cx=229 cy=398 r=2.2 /><circle cx=194 cy=414 r=2.2 /><circle cx=87 cy=397 r=2.2 /><circle cx=100 cy=424 r=2.2 /><circle cx=154 cy=421 r=2.2 /><circle cx=223 cy=396 r=2.2 /><circle cx=154 cy=405 r=2.2 /><circle cx=281 cy=392 r=2.2 /><circle cx=191 cy=397 r=2.2 /><circle cx=265 cy=392 r=2.2 /><circle cx=56 cy=392 r=2.2 /><circle cx=94 cy=397 r=2.2 /><circle cx=276 cy=410 r=2.2 /><circle cx=169 cy=405 r=2.2 /><circle cx=131 cy=410 r=2.2 /><circle cx=100 cy=397 r=2.2 /><circle cx=90 cy=405 r=2.2 /><circle cx=198 cy=408 r=2.2 /><circle cx=100 cy=401 r=2.2 /><circle cx=264 cy=389 r=2.2 /><circle cx=166 cy=398 r=2.2 /><circle cx=164 cy=403 r=2.2 /><circle cx=64 cy=398 r=2.2 /><circle cx=113 cy=411 r=2.2 /><circle cx=123 cy=409 r=2.2 /><circle cx=134 cy=405 r=2.2 /><circle cx=171 cy=405 r=2.2 /><circle cx=257 cy=399 r=2.2 /><circle cx=180 cy=399 r=2.2 /><circle cx=65 cy=402 r=2.2 /><circle cx=185 cy=390 r=2.2 /><circle cx=226 cy=398 r=2.2 /><circle cx=205 cy=392 r=2.2 /><circle cx=246 cy=415 r=2.2 /><circle cx=204 cy=408 r=2.2 /><circle cx=224 cy=391 r=2.2 /><circle cx=191 cy=403 r=2.2 /><circle cx=79 cy=409 r=2.2 /><circle cx=234 cy=393 r=2.2 /><circle cx=104 cy=414 r=2.2 /><circle cx=163 cy=395 r=2.2 /><circle cx=121 cy=430 r=2.2 /><circle cx=68 cy=398 r=2.2 /><circle cx=145 cy=396 r=2.2 /><circle cx=226 cy=409 r=2.2 /><circle cx=93 cy=395 r=2.2 /><circle cx=71 cy=392 r=2.2 /><circle cx=138 cy=405 r=2.2 /><circle cx=110 cy=404 r=2.2 /><circle cx=113 cy=414 r=2.2 /><circle cx=181 cy=408 r=2.2 /><circle cx=89 cy=410 r=2.2 /><circle cx=119 cy=405 r=2.2 /><circle cx=239 cy=403 r=2.2 /><circle cx=115 cy=410 r=2.2 /><circle cx=227 cy=408 r=2.2 /><circle cx=281 cy=398 r=2.2 /><circle cx=194 cy=401 r=2.2 /><circle cx=75 cy=423 r=2.2 /><circle cx=217 cy=401 r=2.2 /><circle cx=116 cy=405 r=2.2 /><circle cx=95 cy=405 r=2.2 /><circle cx=250 cy=404 r=2.2 /><circle cx=48 cy=400 r=2.2 /><circle cx=61 cy=415 r=2.2 /><circle cx=194 cy=410 r=2.2 /><circle cx=277 cy=401 r=2.2 /><circle cx=192 cy=394 r=2.2 /><circle cx=233 cy=414 r=2.2 /><circle cx=66 cy=400 r=2.2 /><circle cx=280 cy=411 r=2.2 /><circle cx=65 cy=401 r=2.2 /><circle cx=248 cy=398 r=2.2 /><circle cx=186 cy=389 r=2.2 /><circle cx=163 cy=392 r=2.2 /><circle cx=275 cy=394 r=2.2 /><circle cx=105 cy=404 r=2.2 /><circle cx=74 cy=405 r=2.2 /><circle cx=120 cy=417 r=2.2 /><circle cx=235 cy=399 r=2.2 /><circle cx=242 cy=399 r=2.2 /><circle cx=144 cy=409 r=2.2 /><circle cx=250 cy=407 r=2.2 /><circle cx=71 cy=411 r=2.2 /><circle cx=247 cy=395 r=2.2 /><circle cx=114 cy=398 r=2.2 /><circle cx=254 cy=402 r=2.2 /><circle cx=236 cy=392 r=2.2 /><circle cx=146 cy=394 r=2.2 /><circle cx=214 cy=394 r=2.2 /><circle cx=199 cy=401 r=2.2 /><circle cx=220 cy=400 r=2.2 /><circle cx=185 cy=416 r=2.2 /><circle cx=170 cy=398 r=2.2 /><circle cx=281 cy=393 r=2.2 /><circle cx=265 cy=416 r=2.2 /><circle cx=171 cy=401 r=2.2 /><circle cx=242 cy=396 r=2.2 /><circle cx=245 cy=402 r=2.2 /><circle cx=143 cy=410 r=2.2 /><circle cx=104 cy=400 r=2.2 /><circle cx=46 cy=409 r=2.2 /><circle cx=275 cy=392 r=2.2 /><circle cx=60 cy=398 r=2.2 /><circle cx=224 cy=394 r=2.2 /><circle cx=231 cy=390 r=2.2 /><circle cx=251 cy=400 r=2.2 /><circle cx=47 cy=399 r=2.2 /><circle cx=94 cy=406 r=2.2 /><circle cx=222 cy=400 r=2.2 /><circle cx=61 cy=412 r=2.2 /><circle cx=117 cy=400 r=2.2 /><circle cx=151 cy=406 r=2.2 /><circle cx=104 cy=410 r=2.2 /><circle cx=178 cy=397 r=2.2 /><circle cx=92 cy=392 r=2.2 /><circle cx=171 cy=398 r=2.2 /><circle cx=118 cy=396 r=2.2 /><circle cx=199 cy=415 r=2.2 /><circle cx=65 cy=416 r=2.2 /><circle cx=70 cy=398 r=2.2 /><circle cx=250 cy=401 r=2.2 /><circle cx=172 cy=399 r=2.2 /><circle cx=130 cy=397 r=2.2 /><circle cx=194 cy=393 r=2.2 /><circle cx=226 cy=427 r=2.2 /><circle cx=100 cy=410 r=2.2 /><circle cx=86 cy=400 r=2.2 /><circle cx=66 cy=398 r=2.2 /><circle cx=89 cy=399 r=2.2 /><circle cx=128 cy=404 r=2.2 /><circle cx=48 cy=401 r=2.2 /><circle cx=154 cy=409 r=2.2 /><circle cx=152 cy=401 r=2.2 /><circle cx=190 cy=403 r=2.2 /><circle cx=145 cy=403 r=2.2 /><circle cx=85 cy=420 r=2.2 /><circle cx=103 cy=412 r=2.2 /><circle cx=222 cy=394 r=2.2 /><circle cx=58 cy=396 r=2.2 /><circle cx=155 cy=392 r=2.2 /><circle cx=97 cy=397 r=2.2 /><circle cx=79 cy=397 r=2.2 /><circle cx=67 cy=394 r=2.2 /><circle cx=191 cy=414 r=2.2 /><circle cx=57 cy=400 r=2.2 /><circle cx=142 cy=403 r=2.2 /><circle cx=231 cy=390 r=2.2 /><circle cx=132 cy=421 r=2.2 /><circle cx=142 cy=418 r=2.2 /><circle cx=160 cy=399 r=2.2 /><circle cx=205 cy=395 r=2.2 /><circle cx=279 cy=407 r=2.2 /><circle cx=104 cy=403 r=2.2 /><circle cx=199 cy=400 r=2.2 /><circle cx=137 cy=396 r=2.2 /><circle cx=50 cy=404 r=2.2 /><circle cx=153 cy=418 r=2.2 /><circle cx=158 cy=408 r=2.2 /><circle cx=171 cy=401 r=2.2 /><circle cx=184 cy=404 r=2.2 /><circle cx=167 cy=399 r=2.2 /><circle cx=209 cy=411 r=2.2 /><circle cx=70 cy=397 r=2.2 /><circle cx=186 cy=412 r=2.2 /><circle cx=183 cy=393 r=2.2 /><circle cx=58 cy=395 r=2.2 /><circle cx=278 cy=405 r=2.2 /><circle cx=167 cy=394 r=2.2 /><circle cx=277 cy=418 r=2.2 /><circle cx=107 cy=409 r=2.2 /><circle cx=234 cy=396 r=2.2 /><circle cx=114 cy=397 r=2.2 /><circle cx=152 cy=411 r=2.2 /><circle cx=187 cy=421 r=2.2 /><circle cx=55 cy=415 r=2.2 /><circle cx=215 cy=397 r=2.2 /><circle cx=270 cy=393 r=2.2 /><circle cx=103 cy=403 r=2.2 /><circle cx=95 cy=403 r=2.2 /><circle cx=96 cy=405 r=2.2 /><circle cx=170 cy=412 r=2.2 /><circle cx=281 cy=392 r=2.2 /><circle cx=195 cy=405 r=2.2 /><circle cx=129 cy=399 r=2.2 /><circle cx=270 cy=387 r=2.2 /><circle cx=123 cy=425 r=2.2 /><circle cx=163 cy=393 r=2.2 /><circle cx=269 cy=418 r=2.2 /><circle cx=216 cy=409 r=2.2 /><circle cx=230 cy=403 r=2.2 /><circle cx=57 cy=398 r=2.2 /><circle cx=159 cy=424 r=2.2 /><circle cx=142 cy=397 r=2.2 /><circle cx=154 cy=405 r=2.2 /><circle cx=208 cy=405 r=2.2 /><circle cx=169 cy=404 r=2.2 /><circle cx=96 cy=410 r=2.2 /><circle cx=149 cy=404 r=2.2 /><circle cx=201 cy=393 r=2.2 /><circle cx=223 cy=393 r=2.2 /><circle cx=88 cy=406 r=2.2 /><circle cx=61 cy=401 r=2.2 /><circle cx=187 cy=397 r=2.2 /><circle cx=101 cy=416 r=2.2 /><circle cx=53 cy=422 r=2.2 /><circle cx=88 cy=416 r=2.2 /><circle cx=69 cy=400 r=2.2 /><circle cx=128 cy=410 r=2.2 /><circle cx=166 cy=399 r=2.2 /><circle cx=153 cy=402 r=2.2 /><circle cx=73 cy=417 r=2.2 /><circle cx=214 cy=398 r=2.2 /><circle cx=60 cy=410 r=2.2 /><circle cx=130 cy=415 r=2.2 /><circle cx=99 cy=414 r=2.2 /><circle cx=225 cy=400 r=2.2 /><circle cx=112 cy=401 r=2.2 /><circle cx=148 cy=402 r=2.2 /><circle cx=126 cy=422 r=2.2 /><circle cx=201 cy=400 r=2.2 /><circle cx=201 cy=397 r=2.2 /><circle cx=190 cy=407 r=2.2 /><circle cx=210 cy=395 r=2.2 /><circle cx=239 cy=398 r=2.2 /><circle cx=189 cy=400 r=2.2 /><circle cx=239 cy=397 r=2.2 /><circle cx=150 cy=395 r=2.2 /><circle cx=61 cy=402 r=2.2 /><circle cx=218 cy=401 r=2.2 /><circle cx=87 cy=397 r=2.2 /><circle cx=237 cy=403 r=2.2 /><circle cx=187 cy=396 r=2.2 /><circle cx=178 cy=395 r=2.2 /><circle cx=178 cy=403 r=2.2 /><circle cx=190 cy=401 r=2.2 /><circle cx=170 cy=397 r=2.2 /><circle cx=198 cy=402 r=2.2 /><circle cx=205 cy=396 r=2.2 /><circle cx=147 cy=405 r=2.2 /><circle cx=173 cy=394 r=2.2 /><circle cx=159 cy=406 r=2.2 /><circle cx=83 cy=398 r=2.2 /><circle cx=212 cy=415 r=2.2 /><circle cx=51 cy=414 r=2.2 /><circle cx=220 cy=397 r=2.2 /><circle cx=89 cy=409 r=2.2 /><circle cx=169 cy=395 r=2.2 /><circle cx=199 cy=406 r=2.2 /><circle cx=249 cy=393 r=2.2 /><circle cx=227 cy=417 r=2.2 /><circle cx=123 cy=407 r=2.2 /><circle cx=164 cy=400 r=2.2 /><circle cx=184 cy=392 r=2.2 /><circle cx=209 cy=395 r=2.2 /><circle cx=224 cy=392 r=2.2 /><circle cx=148 cy=398 r=2.2 /><circle cx=176 cy=418 r=2.2 /><circle cx=117 cy=412 r=2.2 /><circle cx=65 cy=405 r=2.2 /><circle cx=261 cy=392 r=2.2 /><circle cx=162 cy=395 r=2.2 /><circle cx=135 cy=400 r=2.2 /><circle cx=272 cy=391 r=2.2 /><circle cx=168 cy=395 r=2.2 /><circle cx=181 cy=397 r=2.2 /><circle cx=184 cy=400 r=2.2 /><circle cx=226 cy=409 r=2.2 /><circle cx=178 cy=403 r=2.2 /><circle cx=147 cy=394 r=2.2 /><circle cx=67 cy=396 r=2.2 /><circle cx=281 cy=399 r=2.2 /><circle cx=113 cy=400 r=2.2 /><circle cx=118 cy=398 r=2.2 /><circle cx=262 cy=400 r=2.2 /><circle cx=54 cy=403 r=2.2 /><circle cx=142 cy=408 r=2.2 /><circle cx=97 cy=409 r=2.2 /><circle cx=92 cy=411 r=2.2 /><circle cx=193 cy=406 r=2.2 /><circle cx=243 cy=408 r=2.2 /><circle cx=172 cy=416 r=2.2 /><circle cx=282 cy=400 r=2.2 /><circle cx=204 cy=411 r=2.2 /><circle cx=144 cy=411 r=2.2 /><circle cx=85 cy=402 r=2.2 /><circle cx=207 cy=406 r=2.2 /><circle cx=193 cy=397 r=2.2 /><circle cx=180 cy=397 r=2.2 /><circle cx=239 cy=399 r=2.2 /><circle cx=192 cy=403 r=2.2 /><circle cx=92 cy=422 r=2.2 /><circle cx=67 cy=393 r=2.2 /><circle cx=198 cy=406 r=2.2 /><circle cx=268 cy=409 r=2.2 /><circle cx=57 cy=395 r=2.2 /><circle cx=278 cy=397 r=2.2 /><circle cx=216 cy=402 r=2.2 /><circle cx=171 cy=400 r=2.2 /><circle cx=104 cy=402 r=2.2 /><circle cx=281 cy=410 r=2.2 /><circle cx=55 cy=411 r=2.2 /><circle cx=120 cy=401 r=2.2 /><circle cx=127 cy=403 r=2.2 /><circle cx=100 cy=417 r=2.2 /><circle cx=69 cy=398 r=2.2 /><circle cx=75 cy=400 r=2.2 /><circle cx=153 cy=414 r=2.2 /><circle cx=182 cy=402 r=2.2 /><circle cx=177 cy=394 r=2.2 /><circle cx=271 cy=399 r=2.2 /><circle cx=70 cy=393 r=2.2 /><circle cx=178 cy=413 r=2.2 /><circle cx=80 cy=403 r=2.2 /><circle cx=60 cy=401 r=2.2 /><circle cx=200 cy=401 r=2.2 /><circle cx=53 cy=422 r=2.2 /><circle cx=197 cy=401 r=2.2 /><circle cx=57 cy=394 r=2.2 /><circle cx=269 cy=388 r=2.2 /><circle cx=153 cy=397 r=2.2 /><circle cx=64 cy=410 r=2.2 /><circle cx=169 cy=401 r=2.2 /><circle cx=98 cy=401 r=2.2 /><circle cx=156 cy=403 r=2.2 /><circle cx=66 cy=399 r=2.2 />
</g>
<g fill="#ff0000" fill-opacity="0.119" stroke="#ff0000" stroke-opacity="0.170" stroke-width="1">
<circle cx=194 cy=329 r=2.2 /><circle cx=101 cy=341 r=2.2 /><circle cx=86 cy=347 r=2.2 /><circle cx=213 cy=341 r=2.2 /><circle cx=276 cy=370 r=2.2 /><circle cx=143 cy=339 r=2.2 /><circle cx=103 cy=388 r=2.2 /><circle cx=232 cy=391 r=2.2 /><circle cx=100 cy=349 r=2.2 /><circle cx=196 cy=383 r=2.2 /><circle cx=176 cy=331 r=2.2 /><circle cx=200 cy=344 r=2.2 /><circle cx=112 cy=348 r=2.2 /><circle cx=213 cy=356 r=2.2 /><circle cx=245 cy=341 r=2.2 /><circle cx=193 cy=332 r=2.2 /><circle cx=192 cy=337 r=2.2 /><circle cx=122 cy=357 r=2.2 /><circle cx=66 cy=338 r=2.2 /><circle cx=210 cy=329 r=2.2 /><circle cx=221 cy=345 r=2.2 /><circle cx=242 cy=349 r=2.2 /><circle cx=166 cy=348 r=2.2 /><circle cx=265 cy=340 r=2.2 /><circle cx=78 cy=339 r=2.2 /><circle cx=212 cy=338 r=2.2 /><circle cx=212 cy=335 r=2.2 /><circle cx=115 cy=341 r=2.2 /><circle cx=48 cy=374 r=2.2 /><circle cx=168 cy=393 r=2.2 /><circle cx=105 cy=338 r=2.2 /><circle cx=132 cy=365 r=2.2 /><circle cx=203 cy=335 r=2.2 /><circle cx=216 cy=332 r=2.2 /><circle cx=212 cy=324 r=2.2 /><circle cx=248 cy=336 r=2.2 /><circle cx=239 cy=380 r=2.2 /><circle cx=173 cy=352 r=2.2 /><circle cx=55 cy=351 r=2.2 /><circle cx=247 cy=334 r=2.2 /><circle cx=195 cy=328 r=2.2 /><circle cx=137 cy=356 r=2.2 /><circle cx=195 cy=391 r=2.2 /><circle cx=232 cy=343 r=2.2 /><circle cx=215 cy=392 r=2.2 /><circle cx=226 cy=340 r=2.2 /><circle cx=248 cy=355 r=2.2 /><circle cx=71 cy=347 r=2.2 /><circle cx=171 cy=339 r=2.2 /><circle cx=226 cy=357 r=2.2 /><circle cx=134 cy=375 r=2.2 /><circle cx=242 cy=344 r=2.2 /><circle cx=148 cy=341 r=2.2 /><circle cx=110 cy=311 r=2.2 /><circle cx=105 cy=326 r=2.2 /><circle cx=186 cy=330 r=2.2 /><circle cx=267 cy=324 r=2.2 /><circle cx=239 cy=327 r=2.2 /><circle cx=195 cy=329 r=2.2 /><circle cx=105 cy=315 r=2.2 /><circle cx=83 cy=332 r=2.2 /><circle cx=187 cy=320 r=2.2 /><circle cx=218 cy=331 r=2.2 /><circle cx=266 cy=328 r=2.2 /><circle cx=223 cy=308 r=2.2 /><circle cx=56 cy=340 r=2.2 /><circle cx=220 cy=330 r=2.2 /><circle cx=129 cy=322 r=2.2 /><circle cx=192 cy=330 r=2.2 /><circle cx=260 cy=314 r=2.2 /><circle cx=175 cy=314 r=2.2 /><circle cx=242 cy=304 r=2.2 /><circle cx=48 cy=335 r=2.2 /><circle cx=108 cy=338 r=2.2 /><circle cx=89 cy=344 r=2.2 /><circle cx=240 cy=327 r=2.2 /><circle cx=113 cy=323 r=2.2 /><circle cx=166 cy=338 r=2.2 /><circle cx=173 cy=297 r=2.2 /><circle cx=197 cy=325 r=2.2 /><circle cx=159 cy=314 r=2.2 /><circle cx=243 cy=322 r=2.2 /><circle cx=249 cy=324 r=2.2 /><circle cx=226 cy=320 r=2.2 /><circle cx=110 cy=321 r=2.2 /><circle cx=188 cy=332 r=2.2 /><circle cx=209 cy=320 r=2.2 /><circle cx=120 cy=329 r=2.2 /><circle cx=247 cy=321 r=2.2 /><circle cx=246 cy=335 r=2.2 /><circle cx=256 cy=319 r=2.2 /><circle cx=110 cy=328 r=2.2 /><circle cx=187 cy=312 r=2.2 /><circle cx=189 cy=337 r=2.2 /><circle cx=172 cy=308 r=2.2 /><circle cx=250 cy=320 r=2.2 /><circle cx=166 cy=325 r=2.2 /><circle cx=112 cy=339 r=2.2 /><circle cx=114 cy=295 r=2.2 /><circle cx=220 cy=327 r=2.2 /><circle cx=79 cy=337 r=2.2 /><circle cx=200 cy=336 r=2.2 /><circle cx=226 cy=337 r=2.2 /><circle cx=118 cy=301 r=2.2 /><circle cx=188 cy=340 r=2.2 /><circle cx=131 cy=332 r=2.2 /><circle cx=212 cy=331 r=2.2 /><circle cx=178 cy=339 r=2.2 /><circle cx=188 cy=308 r=2.2 /><circle cx=98 cy=332 r=2.2 /><circle cx=106 cy=330 r=2.2 /><circle cx=107 cy=326 r=2.2 /><circle cx=65 cy=323 r=2.2 /><circle cx=184 cy=343 r=2.2 /><circle cx=202 cy=321 r=2.2 /><circle cx=101 cy=316 r=2.2 /><circle cx=178 cy=332 r=2.2 /><circle cx=150 cy=342 r=2.2 /><circle cx=80 cy=334 r=2.2 /><circle cx=179 cy=330 r=2.2 /><circle cx=203 cy=319 r=2.2 /><circle cx=217 cy=288 r=2.2 /><circle cx=70 cy=334 r=2.2 /><circle cx=142 cy=335 r=2.2 /><circle cx=90 cy=341 r=2.2 /><circle cx=191 cy=350 r=2.2 /><circle cx=164 cy=337 r=2.2 /><circle cx=214 cy=342 r=2.2 /><circle cx=92 cy=328 r=2.2 /><circle cx=279 cy=346 r=2.2 /><circle cx=58 cy=313 r=2.2 /><circle cx=101 cy=328 r=2.2 /><circle cx=121 cy=335 r=2.2 /><circle cx=216 cy=314 r=2.2 /><circle cx=197 cy=325 r=2.2 /><circle cx=247 cy=336 r=2.2 /><circle cx=246 cy=324 r=2.2 /><circle cx=67 cy=331 r=2.2 /><circle cx=265 cy=317 r=2.2 /><circle cx=133 cy=310 r=2.2 /><circle cx=231 cy=331 r=2.2 /><circle cx=143 cy=323 r=2.2 /><circle cx=106 cy=325 r=2.2 /><circle cx=89 cy=328 r=2.2 /><circle cx=65 cy=337 r=2.2 /><circle cx=247 cy=318 r=2.2 /><circle cx=217 cy=332 r=2.2 /><circle cx=179 cy=323 r=2.2 /><circle cx=110 cy=330 r=2.2 /><circle cx=280 cy=338 r=2.2 /><circle cx=135 cy=325 r=2.2 /><circle cx=156 cy=303 r=2.2 /><circle cx=150 cy=342 r=2.2 /><circle cx=123 cy=338 r=2.2 /><circle cx=105 cy=303 r=2.2 /><circle cx=228 cy=326 r=2.2 /><circle cx=243 cy=337 r=2.2 /><circle cx=240 cy=344 r=2.2 /><circle cx=54 cy=328 r=2.2 /><circle cx=81 cy=299 r=2.2 /><circle cx=185 cy=317 r=2.2 /><circle cx=273 cy=319 r=2.2 /><circle cx=214 cy=327 r=2.2 /><circle cx=195 cy=317 r=2.2 /><circle cx=130 cy=327 r=2.2 /><circle cx=62 cy=331 r=2.2 /><circle cx=247 cy=315 r=2.2 /><circle cx=97 cy=303 r=2.2 /><circle cx=118 cy=306 r=2.2 /><circle cx=85 cy=339 r=2.2 /><circle cx=249 cy=319 r=2.2 /><circle cx=126 cy=310 r=2.2 /><circle cx=236 cy=333 r=2.2 /><circle cx=267 cy=325 r=2.2 /><circle cx=215 cy=316 r=2.2 /><circle cx=128 cy=340 r=2.2 /><circle cx=258 cy=337 r=2.2 /><circle cx=48 cy=341 r=2.2 /><circle cx=216 cy=282 r=2.2 /><circle cx=158 cy=331 r=2.2 /><circle cx=64 cy=326 r=2.2 /><circle cx=238 cy=333 r=2.2 /><circle cx=169 cy=340 r=2.2 /><circle cx=209 cy=338 r=2.2 /><circle cx=145 cy=331 r=2.2 /><circle cx=89 cy=336 r=2.2 /><circle cx=245 cy=333 r=2.2 /><circle cx=239 cy=345 r=2.2 /><circle cx=169 cy=327 r=2.2 /><circle cx=247 cy=333 r=2.2 /><circle cx=51 cy=334 r=2.2 /><circle cx=203 cy=330 r=2.2 /><circle cx=159 cy=325 r=2.2 /><circle cx=162 cy=309 r=2.2 /><circle cx=130 cy=307 r=2.2 /><circle cx=80 cy=332 r=2.2 /><circle cx=83 cy=328 r=2.2 /><circle cx=121 cy=325 r=2.2 /><circle cx=69 cy=333 r=2.2 /><circle cx=251 cy=290 r=2.2 /><circle cx=172 cy=328 r=2.2 /><circle cx=133 cy=318 r=2.2 /><circle cx=99 cy=300 r=2.2 /><circle cx=61 cy=325 r=2.2 /><circle cx=101 cy=334 r=2.2 /><circle cx=256 cy=331 r=2.2 /><circle cx=234 cy=329 r=2.2 /><circle cx=142 cy=333 r=2.2 /><circle cx=210 cy=284 r=2.2 /><circle cx=159 cy=329 r=2.2 /><circle cx=162 cy=295 r=2.2 /><circle cx=223 cy=315 r=2.2 /><circle cx=223 cy=315 r=2.2 /><circle cx=67 cy=338 r=2.2 /><circle cx=168 cy=325 r=2.2 /><circle cx=211 cy=311 r=2.2 /><circle cx=212 cy=318 r=2.2 /><circle cx=213 cy=336 r=2.2 /><circle cx=175 cy=329 r=2.2 /><circle cx=122 cy=338 r=2.2 /><circle cx=225 cy=312 r=2.2 /><circle cx=249 cy=310 r=2.2 /><circle cx=233 cy=325 r=2.2 /><circle cx=268 cy=310 r=2.2 /><circle cx=260 cy=313 r=2.2 /><circle cx=201 cy=339 r=2.2 /><circle cx=50 cy=334 r=2.2 /><circle cx=98 cy=348 r=2.2 /><circle cx=78 cy=340 r=2.2 /><circle cx=112 cy=339 r=2.2 /><circle cx=167 cy=323 r=2.2 /><circle cx=142 cy=337 r=2.2 /><circle cx=196 cy=326 r=2.2 /><circle cx=148 cy=346 r=2.2 /><circle cx=250 cy=310 r=2.2 /><circle cx=257 cy=325 r=2.2 /><circle cx=257 cy=338 r=2.2 /><circle cx=193 cy=291 r=2.2 /><circle cx=208 cy=342 r=2.2 /><circle cx=100 cy=332 r=2.2 /><circle cx=248 cy=316 r=2.2 /><circle cx=269 cy=325 r=2.2 /><circle cx=99 cy=345 r=2.2 /><circle cx=100 cy=337 r=2.2 /><circle cx=181 cy=334 r=2.2 /><circle cx=148 cy=331 r=2.2 /><circle cx=91 cy=331 r=2.2 /><circle cx=60 cy=318 r=2.2 /><circle cx=167 cy=327 r=2.2 /><circle cx=55 cy=328 r=2.2 /><circle cx=224 cy=319 r=2.2 /><circle cx=117 cy=295 r=2.2 /><circle cx=246 cy=319 r=2.2 /><circle cx=262 cy=322 r=2.2 /><circle cx=126 cy=285 r=2.2 /><circle cx=236 cy=320 r=2.2 /><circle cx=65 cy=335 r=2.2 /><circle cx=215 cy=327 r=2.2 /><circle cx=190 cy=338 r=2.2 /><circle cx=62 cy=335 r=2.2 /><circle cx=246 cy=320 r=2.2 /><circle cx=165 cy=320 r=2.2 /><circle cx=187 cy=338 r=2.2 /><circle cx=100 cy=342 r=2.2 /><circle cx=100 cy=332 r=2.2 /><circle cx=187 cy=340 r=2.2 /><circle cx=243 cy=319 r=2.2 /><circle cx=162 cy=305 r=2.2 /><circle cx=121 cy=324 r=2.2 /><circle cx=72 cy=329 r=2.2 /><circle cx=115 cy=325 r=2.2 /><circle cx=96 cy=338 r=2.2 /><circle cx=162 cy=323 r=2.2 /><circle cx=107 cy=334 r=2.2 /><circle cx=104 cy=325 r=2.2 /><circle cx=98 cy=343 r=2.2 /><circle cx=192 cy=323 r=2.2 /><circle cx=229 cy=325 r=2.2 /><circle cx=53 cy=330 r=2.2 /><circle cx=148 cy=328 r=2.2 /><circle cx=164 cy=321 r=2.2 /><circle cx=267 cy=314 r=2.2 /><circle cx=188 cy=329 r=2.2 /><circle cx=87 cy=310 r=2.2 /><circle cx=260 cy=324 r=2.2 /><circle cx=218 cy=332 r=2.2 /><circle cx=121 cy=306 r=2.2 /><circle cx=80 cy=330 r=2.2 /><circle cx=69 cy=326 r=2.2 /><circle cx=114 cy=343 r=2.2 /><circle cx=71 cy=306 r=2.2 /><circle cx=161 cy=306 r=2.2 /><circle cx=189 cy=334 r=2.2 /><circle cx=251 cy=334 r=2.2 /><circle cx=93 cy=342 r=2.2 /><circle cx=266 cy=321 r=2.2 /><circle cx=132 cy=336 r=2.2 /><circle cx=203 cy=322 r=2.2 /><circle cx=118 cy=324 r=2.2 /><circle cx=237 cy=314 r=2.2 /><circle cx=189 cy=350 r=2.2 /><circle cx=103 cy=333 r=2.2 /><circle cx=218 cy=309 r=2.2 /><circle cx=101 cy=340 r=2.2 /><circle cx=89 cy=342 r=2.2 /><circle cx=86 cy=317 r=2.2 /><circle cx=49 cy=326 r=2.2 /><circle cx=49 cy=335 r=2.2 /><circle cx=151 cy=334 r=2.2 /><circle cx=172 cy=309 r=2.2 /><circle cx=85 cy=333 r=2.2 /><circle cx=226 cy=314 r=2.2 /><circle cx=281 cy=323 r=2.2 /><circle cx=234 cy=340 r=2.2 /><circle cx=206 cy=320 r=2.2 /><circle cx=204 cy=340 r=2.2 /><circle cx=257 cy=327 r=2.2 /><circle cx=122 cy=309 r=2.2 /><circle cx=60 cy=306 r=2.2 /><circle cx=174 cy=307 r=2.2 /><circle cx=60 cy=325 r=2.2 /><circle cx=250 cy=319 r=2.2 /><circle cx=173 cy=312 r=2.2 /><circle cx=123 cy=325 r=2.2 /><circle cx=138 cy=320 r=2.2 /><circle cx=110 cy=330 r=2.2 /><circle cx=252 cy=330 r=2.2 /><circle cx=104 cy=303 r=2.2 /><circle cx=157 cy=310 r=2.2 /><circle cx=59 cy=325 r=2.2 /><circle cx=205 cy=323 r=2.2 /><circle cx=214 cy=340 r=2.2 /><circle cx=224 cy=315 r=2.2 /><circle cx=107 cy=333 r=2.2 /><circle cx=140 cy=336 r=2.2 /><circle cx=116 cy=333 r=2.2 /><circle cx=60 cy=320 r=2.2 /><circle cx=175 cy=315 r=2.2 /><circle cx=232 cy=333 r=2.2 /><circle cx=106 cy=328 r=2.2 /><circle cx=272 cy=333 r=2.2 /><circle cx=124 cy=346 r=2.2 /><circle cx=174 cy=309 r=2.2 /><circle cx=252 cy=336 r=2.2 /><circle cx=135 cy=327 r=2.2 /><circle cx=201 cy=332 r=2.2 /><circle cx=263 cy=315 r=2.2 /><circle cx=185 cy=340 r=2.2 /><circle cx=225 cy=328 r=2.2 /><circle cx=245 cy=329 r=2.2 /><circle cx=269 cy=325 r=2.2 /><circle cx=140 cy=345 r=2.2 /><circle cx=268 cy=322 r=2.2 /><circle cx=152 cy=317 r=2.2 /><circle cx=78 cy=321 r=2.2 /><circle cx=165 cy=321 r=2.2 /><circle cx=58 cy=334 r=2.2 /><circle cx=151 cy=329 r=2.2 /><circle cx=174 cy=324 r=2.2 /><circle cx=147 cy=339 r=2.2 /><circle cx=223 cy=325 r=2.2 /><circle cx=136 cy=336 r=2.2 /><circle cx=91 cy=336 r=2.2 /><circle cx=60 cy=333 r=2.2 /><circle cx=199 cy=297 r=2.2 /><circle cx=190 cy=324 r=2.2 /><circle cx=208 cy=340 r=2.2 /><circle cx=203 cy=335 r=2.2 /><circle cx=265 cy=308 r=2.2 /><circle cx=75 cy=288 r=2.2 /><circle cx=274 cy=314 r=2.2 /><circle cx=174 cy=304 r=2.2 /><circle cx=214 cy=337 r=2.2 /><circle cx=74 cy=333 r=2.2 /><circle cx=130 cy=331 r=2.2 /><circle cx=166 cy=341 r=2.2 /><circle cx=104 cy=323 r=2.2 /><circle cx=198 cy=424 r=2.2 /><circle cx=80 cy=402 r=2.2 /><circle cx=124 cy=411 r=2.2 /><circle cx=117 cy=394 r=2.2 /><circle cx=131 cy=395 r=2.2 /><circle cx=107 cy=413 r=2.2 /><circle cx=143 cy=396 r=2.2 /><circle cx=119 cy=408 r=2.2 /><circle cx=197 cy=404 r=2.2 /><circle cx=179 cy=388 r=2.2 /><circle cx=118 cy=390 r=2.2 /><circle cx=94 cy=396 r=2.2 /><circle cx=80 cy=402 r=2.2 /><circle cx=92 cy=402 r=2.2 />
</g>
<path fill="none" stroke="#c00010" stroke-opacity="0.5" stroke-width="1" d="M61 342v4M165 359v10M255 360v6M114 352v12M264 375v13M48 380v13M156 334v7M64 345v9M79 350v12M80 357v7M91 355v8M232 363v6M121 339v12M64 366v9M126 384v6M209 335v7M239 354v5M257 350v13M126 355v10M157 349v5M216 349v13M60 340v10M145 367v11M281 349v9M199 342v12M164 387v13M135 389v14M183 348v4M283 387v12M202 342v10M133 367v7M144 377v8M79 368v12M214 371v4M75 358v13M204 384v5M242 360v6M52 383v4M208 386v14M254 381v12M170 357v13M88 350v13M70 361v7M163 366v14M69 340v8M78 363v7M153 387v9M52 392v13M77 343v10M232 336v12M261 358v11M224 344v11M94 370v11M74 335v4M122 368v12M138 369v5M158 332v8M221 333v12M217 336v4M91 349v7M188 362v13M204 362v14M198 334v10M207 339v13M90 348v9M102 353v9M217 340v8M146 361v11M188 370v7M271 346v13M153 357v11M164 339v8M149 368v8M48 356v9M104 377v12M101 395v10M146 386v13M198 366v12M225 343v12M110 378v8M235 364v8M97 374v12M236 364v14M230 361v7M126 355v8M136 350v10M186 342v7M107 389v12M213 342v5M116 338v6"/>
</g>
<path d="M45 341.6H285" stroke="#00ffff" stroke-width="1.6" stroke-dasharray="6 2.4"/>
<path d="M33.5 269.5H296.5M33.5 269.5V440.5H296.5" fill="none" stroke="#222" stroke-width="1.2"/>
<path d="M296.5 269.5V440.5" fill="none" stroke="#222" stroke-width="1.2"/>
<path d="M45.6 440.5v3" stroke="#333" stroke-width="0.9"/>
<text x="45.6" y="453" font-size="8.3" text-anchor="middle">0</text>
<path d="M93.93 440.5v3" stroke="#333" stroke-width="0.9"/>
<text x="93.93" y="453" font-size="8.3" text-anchor="middle">2000</text>
<path d="M142.26 440.5v3" stroke="#333" stroke-width="0.9"/>
<text x="142.26" y="453" font-size="8.3" text-anchor="middle">4000</text>
<path d="M190.59 440.5v3" stroke="#333" stroke-width="0.9"/>
<text x="190.59" y="453" font-size="8.3" text-anchor="middle">6000</text>
<path d="M238.92 440.5v3" stroke="#333" stroke-width="0.9"/>
<text x="238.92" y="453" font-size="8.3" text-anchor="middle">8000</text>
<path d="M287.25 440.5v3" stroke="#333" stroke-width="0.9"/>
<text x="287.25" y="453" font-size="8.3" text-anchor="middle">10000</text>
<path d="M33.4 299.6h-2.5" stroke="#555" stroke-width="0.8"/>
<text x="22.9" y="303.20000000000005" font-size="8.3" text-anchor="end">10</text>
<text x="22.599999999999998" y="299.8" font-size="5.8">1</text>
<path d="M33.4 385h-2.5" stroke="#555" stroke-width="0.8"/>
<text x="22.9" y="388.6" font-size="8.3" text-anchor="end">10</text>
<text x="22.599999999999998" y="385.2" font-size="5.8">0</text>
<path d="M33.4 359.292038370296h-2" stroke="#333" stroke-width="0.7"/>
<path d="M33.4 344.2538448469408h-2" stroke="#333" stroke-width="0.7"/>
<path d="M33.4 333.584076740592h-2" stroke="#333" stroke-width="0.7"/>
<path d="M33.4 325.307961629704h-2" stroke="#333" stroke-width="0.7"/>
<path d="M33.4 318.54588321723685h-2" stroke="#333" stroke-width="0.7"/>
<path d="M33.4 312.82862738278243h-2" stroke="#333" stroke-width="0.7"/>
<path d="M33.4 307.876115110888h-2" stroke="#333" stroke-width="0.7"/>
<path d="M33.4 303.5076896938816h-2" stroke="#333" stroke-width="0.7"/>
<path d="M33.4 429.65384484694084h-2" stroke="#333" stroke-width="0.7"/>
<path d="M33.4 418.984076740592h-2" stroke="#333" stroke-width="0.7"/>
<path d="M33.4 410.707961629704h-2" stroke="#333" stroke-width="0.7"/>
<path d="M33.4 403.9458832172368h-2" stroke="#333" stroke-width="0.7"/>
<path d="M33.4 398.22862738278246h-2" stroke="#333" stroke-width="0.7"/>
<path d="M33.4 393.27611511088804h-2" stroke="#333" stroke-width="0.7"/>
<path d="M33.4 388.90768969388165h-2" stroke="#333" stroke-width="0.7"/>
<text x="165" y="265.5" font-size="10.45" text-anchor="middle" >GLUE with Robust Error (Training data)</text>
<text x="165" y="463.5" font-size="8.6" text-anchor="middle" >Time</text>
<text x="0" y="0" font-size="8.6" text-anchor="middle" transform="translate(7.2 357) rotate(-90)">Max Robust Error</text>
<rect x="36.9" y="273.7" width="67.5" height="13.300000000000011" rx="1.5" fill="#fff" fill-opacity="0.8" stroke="#ddd" stroke-width="0.8"/>
<path d="M40 280.3H54" stroke="#00ffff" stroke-width="1.6" stroke-dasharray="6 2.4"/>
<text x="64.4" y="283.35" font-size="8.2">Threshold</text>
<text x="150.5" y="497" font-size="24" text-anchor="middle" style='font-family:"Liberation Serif", serif' letter-spacing="0.9">(a) NASA train</text>
<g clip-path="url(#c4)">
<linearGradient id="lg2" gradientUnits="userSpaceOnUse" x1="0" y1="325" x2="0" y2="367"><stop offset="0" stop-color="#000080" stop-opacity="0.9"/><stop offset="0.6" stop-color="#000080" stop-opacity="0.9"/><stop offset="1" stop-color="#000080" stop-opacity="0.6"/></linearGradient>
<path filter="url(#bl)" fill="url(#lg2)" d="M387.3 327.6h2.6v39.2h-2.6zM389.9 329.1h2.6v33.0h-2.6zM392.5 323.0h2.6v42.6h-2.6zM395.1 323.7h2.6v44.7h-2.6zM397.7 334.7h2.6v35.3h-2.6zM400.3 325.8h2.6v50.2h-2.6zM402.9 319.5h2.6v50.1h-2.6zM405.5 326.3h2.6v38.8h-2.6zM408.1 330.2h2.6v39.8h-2.6zM410.7 325.7h2.6v41.4h-2.6zM413.3 330.4h2.6v39.5h-2.6zM415.9 334.3h2.6v34.1h-2.6zM418.5 329.9h2.6v44.6h-2.6zM421.1 319.5h2.6v48.7h-2.6zM423.7 332.0h2.6v40.9h-2.6zM426.3 331.5h2.6v34.5h-2.6zM428.9 318.7h2.6v51.4h-2.6zM431.5 321.0h2.6v39.9h-2.6zM434.1 319.0h2.6v51.4h-2.6zM436.7 328.4h2.6v49.5h-2.6zM439.3 332.2h2.6v38.3h-2.6zM441.9 327.5h2.6v39.0h-2.6zM444.5 323.1h2.6v48.8h-2.6zM447.1 324.0h2.6v40.2h-2.6zM449.7 307.5h2.6v50.7h-2.6zM452.3 318.1h2.6v40.6h-2.6zM454.9 325.9h2.6v32.8h-2.6zM457.5 324.1h2.6v35.1h-2.6zM460.1 315.8h2.6v42.5h-2.6zM462.7 322.8h2.6v47.6h-2.6zM465.3 325.5h2.6v41.8h-2.6zM467.9 319.4h2.6v47.8h-2.6zM470.5 324.6h2.6v44.8h-2.6zM473.1 325.0h2.6v42.0h-2.6zM475.7 324.2h2.6v42.7h-2.6zM478.3 309.0h2.6v48.2h-2.6zM480.9 317.0h2.6v47.5h-2.6zM483.5 328.3h2.6v39.1h-2.6zM486.1 310.2h2.6v61.9h-2.6zM488.7 327.1h2.6v41.2h-2.6zM491.3 327.3h2.6v41.0h-2.6zM493.9 331.4h2.6v35.8h-2.6zM496.5 331.1h2.6v35.1h-2.6zM499.1 335.1h2.6v34.9h-2.6zM501.7 322.6h2.6v43.1h-2.6zM504.3 326.5h2.6v30.5h-2.6zM506.9 319.4h2.6v47.7h-2.6zM509.5 325.5h2.6v34.2h-2.6zM512.1 322.2h2.6v43.9h-2.6zM514.7 326.8h2.6v42.0h-2.6zM517.3 332.2h2.6v50.4h-2.6zM519.9 329.2h2.6v43.9h-2.6zM522.5 337.5h2.6v47.1h-2.6zM525.1 326.3h2.6v45.6h-2.6zM527.7 311.8h2.6v53.0h-2.6zM530.3 321.6h2.6v38.8h-2.6zM532.9 325.2h2.6v42.3h-2.6zM535.5 333.4h2.6v33.8h-2.6zM538.1 327.8h2.6v42.5h-2.6zM540.7 326.1h2.6v39.4h-2.6zM543.3 330.0h2.6v34.1h-2.6zM545.9 317.2h2.6v48.9h-2.6zM548.5 319.7h2.6v51.4h-2.6zM551.1 336.8h2.6v25.7h-2.6zM553.7 326.6h2.6v41.5h-2.6zM556.3 319.6h2.6v51.2h-2.6zM558.9 328.4h2.6v33.7h-2.6zM561.5 316.1h2.6v43.5h-2.6zM564.1 318.3h2.6v52.3h-2.6zM566.7 323.0h2.6v38.1h-2.6zM569.3 325.2h2.6v43.8h-2.6zM571.9 313.0h2.6v55.1h-2.6zM574.5 337.2h2.6v30.6h-2.6zM577.1 322.5h2.6v34.8h-2.6zM579.7 330.1h2.6v35.3h-2.6zM582.3 337.0h2.6v34.1h-2.6zM584.9 330.1h2.6v43.7h-2.6zM587.5 330.9h2.6v31.1h-2.6zM590.1 318.3h2.6v36.7h-2.6zM592.7 315.7h2.6v43.9h-2.6zM595.3 308.7h2.6v63.1h-2.6zM597.9 331.7h2.6v44.0h-2.6zM600.5 334.1h2.6v37.2h-2.6zM603.1 331.8h2.6v32.2h-2.6zM605.7 328.5h2.6v40.3h-2.6zM608.3 328.5h2.6v36.1h-2.6zM610.9 323.6h2.6v44.0h-2.6zM613.5 327.0h2.6v45.1h-2.6zM616.1 316.8h2.6v44.5h-2.6zM618.7 322.8h2.6v41.6h-2.6z"/>
<g fill="#000080" fill-opacity="0.119" stroke="#000080" stroke-opacity="0.170" stroke-width="1">
<circle cx=408 cy=365 r=2.2 /><circle cx=409 cy=339 r=2.2 /><circle cx=543 cy=361 r=2.2 /><circle cx=414 cy=344 r=2.2 /><circle cx=618 cy=324 r=2.2 /><circle cx=584 cy=341 r=2.2 /><circle cx=456 cy=345 r=2.2 /><circle cx=599 cy=335 r=2.2 /><circle cx=395 cy=338 r=2.2 /><circle cx=617 cy=344 r=2.2 /><circle cx=610 cy=363 r=2.2 /><circle cx=616 cy=330 r=2.2 /><circle cx=552 cy=354 r=2.2 /><circle cx=499 cy=350 r=2.2 /><circle cx=472 cy=358 r=2.2 /><circle cx=438 cy=340 r=2.2 /><circle cx=433 cy=346 r=2.2 /><circle cx=472 cy=356 r=2.2 /><circle cx=432 cy=335 r=2.2 /><circle cx=580 cy=356 r=2.2 /><circle cx=503 cy=324 r=2.2 /><circle cx=555 cy=343 r=2.2 /><circle cx=475 cy=344 r=2.2 /><circle cx=570 cy=357 r=2.2 /><circle cx=414 cy=342 r=2.2 /><circle cx=596 cy=339 r=2.2 /><circle cx=510 cy=332 r=2.2 /><circle cx=527 cy=354 r=2.2 /><circle cx=393 cy=342 r=2.2 /><circle cx=454 cy=336 r=2.2 /><circle cx=535 cy=332 r=2.2 /><circle cx=545 cy=349 r=2.2 /><circle cx=606 cy=340 r=2.2 /><circle cx=513 cy=346 r=2.2 /><circle cx=588 cy=337 r=2.2 /><circle cx=415 cy=365 r=2.2 /><circle cx=618 cy=323 r=2.2 /><circle cx=526 cy=329 r=2.2 /><circle cx=591 cy=321 r=2.2 /><circle cx=570 cy=352 r=2.2 /><circle cx=449 cy=326 r=2.2 /><circle cx=589 cy=337 r=2.2 /><circle cx=453 cy=346 r=2.2 /><circle cx=594 cy=328 r=2.2 /><circle cx=388 cy=348 r=2.2 /><circle cx=584 cy=339 r=2.2 /><circle cx=406 cy=343 r=2.2 /><circle cx=453 cy=352 r=2.2 /><circle cx=578 cy=330 r=2.2 /><circle cx=388 cy=339 r=2.2 /><circle cx=486 cy=316 r=2.2 /><circle cx=543 cy=351 r=2.2 /><circle cx=515 cy=356 r=2.2 /><circle cx=565 cy=335 r=2.2 /><circle cx=452 cy=337 r=2.2 /><circle cx=537 cy=336 r=2.2 /><circle cx=424 cy=363 r=2.2 /><circle cx=486 cy=329 r=2.2 /><circle cx=564 cy=346 r=2.2 /><circle cx=445 cy=354 r=2.2 /><circle cx=500 cy=358 r=2.2 /><circle cx=523 cy=364 r=2.2 /><circle cx=611 cy=353 r=2.2 /><circle cx=610 cy=345 r=2.2 /><circle cx=458 cy=335 r=2.2 /><circle cx=461 cy=325 r=2.2 /><circle cx=455 cy=338 r=2.2 /><circle cx=461 cy=352 r=2.2 /><circle cx=464 cy=362 r=2.2 /><circle cx=540 cy=351 r=2.2 /><circle cx=445 cy=370 r=2.2 /><circle cx=444 cy=345 r=2.2 /><circle cx=455 cy=329 r=2.2 /><circle cx=619 cy=341 r=2.2 /><circle cx=517 cy=381 r=2.2 /><circle cx=472 cy=359 r=2.2 /><circle cx=502 cy=368 r=2.2 /><circle cx=558 cy=340 r=2.2 /><circle cx=454 cy=323 r=2.2 /><circle cx=559 cy=354 r=2.2 /><circle cx=461 cy=344 r=2.2 /><circle cx=480 cy=353 r=2.2 /><circle cx=602 cy=367 r=2.2 /><circle cx=581 cy=355 r=2.2 /><circle cx=555 cy=363 r=2.2 /><circle cx=532 cy=357 r=2.2 /><circle cx=465 cy=327 r=2.2 /><circle cx=534 cy=354 r=2.2 /><circle cx=430 cy=343 r=2.2 /><circle cx=470 cy=340 r=2.2 /><circle cx=584 cy=341 r=2.2 /><circle cx=390 cy=352 r=2.2 /><circle cx=497 cy=357 r=2.2 /><circle cx=420 cy=346 r=2.2 /><circle cx=554 cy=350 r=2.2 /><circle cx=615 cy=362 r=2.2 /><circle cx=614 cy=369 r=2.2 /><circle cx=468 cy=344 r=2.2 /><circle cx=571 cy=365 r=2.2 /><circle cx=543 cy=336 r=2.2 /><circle cx=431 cy=352 r=2.2 /><circle cx=391 cy=361 r=2.2 /><circle cx=458 cy=326 r=2.2 /><circle cx=567 cy=329 r=2.2 /><circle cx=583 cy=357 r=2.2 /><circle cx=400 cy=329 r=2.2 /><circle cx=556 cy=353 r=2.2 /><circle cx=573 cy=316 r=2.2 /><circle cx=500 cy=347 r=2.2 /><circle cx=522 cy=360 r=2.2 /><circle cx=466 cy=352 r=2.2 /><circle cx=446 cy=328 r=2.2 /><circle cx=466 cy=355 r=2.2 /><circle cx=477 cy=333 r=2.2 /><circle cx=586 cy=358 r=2.2 /><circle cx=584 cy=362 r=2.2 /><circle cx=551 cy=348 r=2.2 /><circle cx=427 cy=347 r=2.2 /><circle cx=510 cy=355 r=2.2 /><circle cx=519 cy=345 r=2.2 /><circle cx=450 cy=308 r=2.2 /><circle cx=519 cy=377 r=2.2 /><circle cx=603 cy=358 r=2.2 /><circle cx=569 cy=359 r=2.2 /><circle cx=549 cy=340 r=2.2 /><circle cx=539 cy=354 r=2.2 /><circle cx=594 cy=339 r=2.2 /><circle cx=459 cy=327 r=2.2 /><circle cx=409 cy=351 r=2.2 /><circle cx=580 cy=357 r=2.2 /><circle cx=577 cy=355 r=2.2 /><circle cx=600 cy=332 r=2.2 /><circle cx=527 cy=334 r=2.2 /><circle cx=594 cy=331 r=2.2 /><circle cx=432 cy=360 r=2.2 /><circle cx=426 cy=363 r=2.2 /><circle cx=395 cy=332 r=2.2 /><circle cx=496 cy=350 r=2.2 /><circle cx=427 cy=344 r=2.2 /><circle cx=579 cy=338 r=2.2 /><circle cx=600 cy=362 r=2.2 /><circle cx=575 cy=352 r=2.2 /><circle cx=413 cy=356 r=2.2 /><circle cx=598 cy=367 r=2.2 /><circle cx=501 cy=369 r=2.2 /><circle cx=475 cy=348 r=2.2 /><circle cx=530 cy=320 r=2.2 /><circle cx=462 cy=342 r=2.2 /><circle cx=426 cy=348 r=2.2 /><circle cx=458 cy=334 r=2.2 /><circle cx=550 cy=322 r=2.2 /><circle cx=400 cy=366 r=2.2 /><circle cx=580 cy=324 r=2.2 /><circle cx=447 cy=355 r=2.2 /><circle cx=417 cy=336 r=2.2 /><circle cx=485 cy=343 r=2.2 /><circle cx=473 cy=350 r=2.2 /><circle cx=417 cy=350 r=2.2 /><circle cx=566 cy=356 r=2.2 /><circle cx=491 cy=342 r=2.2 /><circle cx=411 cy=357 r=2.2 /><circle cx=533 cy=342 r=2.2 /><circle cx=402 cy=360 r=2.2 /><circle cx=396 cy=354 r=2.2 /><circle cx=482 cy=341 r=2.2 /><circle cx=482 cy=355 r=2.2 /><circle cx=517 cy=366 r=2.2 /><circle cx=592 cy=342 r=2.2 /><circle cx=559 cy=356 r=2.2 /><circle cx=427 cy=332 r=2.2 /><circle cx=530 cy=334 r=2.2 /><circle cx=411 cy=349 r=2.2 /><circle cx=588 cy=339 r=2.2 /><circle cx=416 cy=348 r=2.2 /><circle cx=509 cy=341 r=2.2 /><circle cx=426 cy=367 r=2.2 /><circle cx=454 cy=332 r=2.2 /><circle cx=535 cy=344 r=2.2 /><circle cx=539 cy=364 r=2.2 /><circle cx=456 cy=348 r=2.2 /><circle cx=599 cy=349 r=2.2 /><circle cx=564 cy=331 r=2.2 /><circle cx=532 cy=336 r=2.2 /><circle cx=468 cy=330 r=2.2 /><circle cx=527 cy=372 r=2.2 /><circle cx=486 cy=346 r=2.2 /><circle cx=505 cy=344 r=2.2 /><circle cx=588 cy=359 r=2.2 /><circle cx=562 cy=355 r=2.2 /><circle cx=503 cy=329 r=2.2 /><circle cx=529 cy=320 r=2.2 /><circle cx=473 cy=367 r=2.2 /><circle cx=506 cy=341 r=2.2 /><circle cx=468 cy=337 r=2.2 /><circle cx=517 cy=350 r=2.2 /><circle cx=490 cy=352 r=2.2 /><circle cx=417 cy=357 r=2.2 /><circle cx=586 cy=336 r=2.2 /><circle cx=457 cy=347 r=2.2 /><circle cx=539 cy=352 r=2.2 /><circle cx=440 cy=370 r=2.2 /><circle cx=424 cy=354 r=2.2 /><circle cx=573 cy=322 r=2.2 /><circle cx=597 cy=352 r=2.2 /><circle cx=506 cy=336 r=2.2 /><circle cx=557 cy=357 r=2.2 /><circle cx=427 cy=334 r=2.2 /><circle cx=419 cy=374 r=2.2 /><circle cx=522 cy=368 r=2.2 /><circle cx=547 cy=334 r=2.2 /><circle cx=497 cy=336 r=2.2 /><circle cx=504 cy=365 r=2.2 /><circle cx=388 cy=366 r=2.2 /><circle cx=572 cy=362 r=2.2 /><circle cx=552 cy=353 r=2.2 /><circle cx=513 cy=363 r=2.2 /><circle cx=571 cy=328 r=2.2 /><circle cx=505 cy=343 r=2.2 /><circle cx=502 cy=355 r=2.2 /><circle cx=545 cy=350 r=2.2 /><circle cx=454 cy=353 r=2.2 /><circle cx=554 cy=344 r=2.2 /><circle cx=438 cy=349 r=2.2 /><circle cx=592 cy=345 r=2.2 /><circle cx=444 cy=356 r=2.2 /><circle cx=429 cy=325 r=2.2 /><circle cx=541 cy=358 r=2.2 /><circle cx=499 cy=340 r=2.2 /><circle cx=441 cy=341 r=2.2 /><circle cx=426 cy=364 r=2.2 /><circle cx=449 cy=354 r=2.2 /><circle cx=457 cy=352 r=2.2 /><circle cx=576 cy=364 r=2.2 /><circle cx=407 cy=342 r=2.2 /><circle cx=454 cy=353 r=2.2 /><circle cx=604 cy=334 r=2.2 /><circle cx=534 cy=358 r=2.2 /><circle cx=597 cy=327 r=2.2 /><circle cx=432 cy=329 r=2.2 /><circle cx=558 cy=329 r=2.2 /><circle cx=488 cy=371 r=2.2 /><circle cx=576 cy=344 r=2.2 /><circle cx=393 cy=329 r=2.2 /><circle cx=511 cy=343 r=2.2 /><circle cx=468 cy=351 r=2.2 /><circle cx=524 cy=371 r=2.2 /><circle cx=565 cy=361 r=2.2 /><circle cx=402 cy=347 r=2.2 /><circle cx=426 cy=348 r=2.2 /><circle cx=417 cy=361 r=2.2 /><circle cx=613 cy=357 r=2.2 /><circle cx=555 cy=350 r=2.2 /><circle cx=572 cy=340 r=2.2 /><circle cx=593 cy=333 r=2.2 /><circle cx=592 cy=327 r=2.2 /><circle cx=479 cy=344 r=2.2 /><circle cx=461 cy=319 r=2.2 /><circle cx=561 cy=350 r=2.2 /><circle cx=597 cy=311 r=2.2 /><circle cx=535 cy=340 r=2.2 /><circle cx=439 cy=369 r=2.2 /><circle cx=545 cy=362 r=2.2 /><circle cx=466 cy=344 r=2.2 /><circle cx=579 cy=344 r=2.2 /><circle cx=543 cy=357 r=2.2 /><circle cx=581 cy=349 r=2.2 /><circle cx=417 cy=355 r=2.2 /><circle cx=472 cy=349 r=2.2 /><circle cx=441 cy=335 r=2.2 /><circle cx=580 cy=339 r=2.2 /><circle cx=419 cy=357 r=2.2 /><circle cx=415 cy=334 r=2.2 /><circle cx=407 cy=355 r=2.2 /><circle cx=457 cy=329 r=2.2 /><circle cx=474 cy=364 r=2.2 /><circle cx=519 cy=355 r=2.2 /><circle cx=523 cy=383 r=2.2 /><circle cx=429 cy=370 r=2.2 /><circle cx=439 cy=363 r=2.2 /><circle cx=528 cy=338 r=2.2 /><circle cx=400 cy=329 r=2.2 /><circle cx=443 cy=347 r=2.2 /><circle cx=565 cy=327 r=2.2 /><circle cx=563 cy=345 r=2.2 /><circle cx=537 cy=360 r=2.2 /><circle cx=543 cy=353 r=2.2 /><circle cx=550 cy=331 r=2.2 /><circle cx=476 cy=356 r=2.2 /><circle cx=451 cy=313 r=2.2 /><circle cx=466 cy=345 r=2.2 /><circle cx=520 cy=348 r=2.2 /><circle cx=558 cy=366 r=2.2 /><circle cx=617 cy=347 r=2.2 /><circle cx=505 cy=347 r=2.2 /><circle cx=608 cy=361 r=2.2 /><circle cx=502 cy=341 r=2.2 /><circle cx=609 cy=353 r=2.2 /><circle cx=543 cy=330 r=2.2 /><circle cx=469 cy=366 r=2.2 /><circle cx=473 cy=348 r=2.2 /><circle cx=510 cy=350 r=2.2 /><circle cx=487 cy=358 r=2.2 /><circle cx=545 cy=359 r=2.2 /><circle cx=511 cy=346 r=2.2 /><circle cx=572 cy=361 r=2.2 /><circle cx=418 cy=362 r=2.2 /><circle cx=554 cy=344 r=2.2 /><circle cx=537 cy=351 r=2.2 /><circle cx=457 cy=359 r=2.2 /><circle cx=428 cy=343 r=2.2 /><circle cx=417 cy=352 r=2.2 /><circle cx=400 cy=355 r=2.2 /><circle cx=438 cy=356 r=2.2 /><circle cx=592 cy=343 r=2.2 /><circle cx=467 cy=350 r=2.2 /><circle cx=546 cy=364 r=2.2 /><circle cx=494 cy=356 r=2.2 /><circle cx=473 cy=326 r=2.2 /><circle cx=506 cy=352 r=2.2 /><circle cx=593 cy=351 r=2.2 /><circle cx=569 cy=325 r=2.2 /><circle cx=569 cy=350 r=2.2 /><circle cx=469 cy=328 r=2.2 /><circle cx=525 cy=362 r=2.2 /><circle cx=488 cy=369 r=2.2 /><circle cx=560 cy=350 r=2.2 /><circle cx=463 cy=329 r=2.2 /><circle cx=545 cy=356 r=2.2 /><circle cx=481 cy=315 r=2.2 /><circle cx=590 cy=338 r=2.2 /><circle cx=522 cy=350 r=2.2 /><circle cx=391 cy=360 r=2.2 /><circle cx=503 cy=324 r=2.2 /><circle cx=505 cy=355 r=2.2 /><circle cx=417 cy=364 r=2.2 /><circle cx=503 cy=345 r=2.2 /><circle cx=495 cy=347 r=2.2 /><circle cx=444 cy=338 r=2.2 /><circle cx=403 cy=349 r=2.2 /><circle cx=590 cy=323 r=2.2 /><circle cx=590 cy=353 r=2.2 /><circle cx=429 cy=360 r=2.2 /><circle cx=541 cy=367 r=2.2 /><circle cx=456 cy=345 r=2.2 /><circle cx=505 cy=344 r=2.2 /><circle cx=560 cy=351 r=2.2 /><circle cx=453 cy=325 r=2.2 /><circle cx=586 cy=369 r=2.2 /><circle cx=586 cy=371 r=2.2 /><circle cx=464 cy=335 r=2.2 /><circle cx=519 cy=378 r=2.2 /><circle cx=615 cy=334 r=2.2 /><circle cx=461 cy=340 r=2.2 /><circle cx=399 cy=355 r=2.2 /><circle cx=448 cy=328 r=2.2 /><circle cx=448 cy=331 r=2.2 /><circle cx=521 cy=350 r=2.2 /><circle cx=415 cy=339 r=2.2 /><circle cx=481 cy=318 r=2.2 /><circle cx=515 cy=341 r=2.2 /><circle cx=513 cy=329 r=2.2 /><circle cx=449 cy=358 r=2.2 /><circle cx=405 cy=326 r=2.2 /><circle cx=505 cy=336 r=2.2 /><circle cx=420 cy=351 r=2.2 /><circle cx=605 cy=352 r=2.2 /><circle cx=396 cy=346 r=2.2 /><circle cx=542 cy=338 r=2.2 /><circle cx=553 cy=355 r=2.2 /><circle cx=610 cy=333 r=2.2 /><circle cx=403 cy=359 r=2.2 /><circle cx=617 cy=359 r=2.2 /><circle cx=525 cy=366 r=2.2 /><circle cx=576 cy=367 r=2.2 /><circle cx=484 cy=344 r=2.2 /><circle cx=424 cy=339 r=2.2 /><circle cx=429 cy=349 r=2.2 /><circle cx=483 cy=364 r=2.2 /><circle cx=482 cy=354 r=2.2 /><circle cx=412 cy=353 r=2.2 /><circle cx=398 cy=360 r=2.2 /><circle cx=561 cy=330 r=2.2 /><circle cx=579 cy=337 r=2.2 /><circle cx=462 cy=323 r=2.2 /><circle cx=447 cy=354 r=2.2 /><circle cx=568 cy=334 r=2.2 /><circle cx=607 cy=347 r=2.2 /><circle cx=399 cy=362 r=2.2 /><circle cx=438 cy=352 r=2.2 /><circle cx=469 cy=337 r=2.2 /><circle cx=466 cy=333 r=2.2 /><circle cx=511 cy=338 r=2.2 /><circle cx=411 cy=342 r=2.2 /><circle cx=500 cy=365 r=2.2 /><circle cx=482 cy=346 r=2.2 /><circle cx=462 cy=345 r=2.2 /><circle cx=479 cy=320 r=2.2 /><circle cx=559 cy=343 r=2.2 /><circle cx=458 cy=331 r=2.2 /><circle cx=517 cy=336 r=2.2 /><circle cx=593 cy=318 r=2.2 /><circle cx=414 cy=365 r=2.2 /><circle cx=416 cy=344 r=2.2 /><circle cx=528 cy=354 r=2.2 /><circle cx=439 cy=357 r=2.2 /><circle cx=432 cy=353 r=2.2 /><circle cx=525 cy=349 r=2.2 /><circle cx=586 cy=336 r=2.2 /><circle cx=612 cy=351 r=2.2 /><circle cx=441 cy=345 r=2.2 /><circle cx=569 cy=342 r=2.2 /><circle cx=491 cy=359 r=2.2 /><circle cx=408 cy=346 r=2.2 /><circle cx=558 cy=351 r=2.2 /><circle cx=503 cy=341 r=2.2 /><circle cx=502 cy=326 r=2.2 /><circle cx=490 cy=335 r=2.2 /><circle cx=463 cy=329 r=2.2 /><circle cx=392 cy=359 r=2.2 /><circle cx=449 cy=362 r=2.2 /><circle cx=452 cy=336 r=2.2 /><circle cx=610 cy=358 r=2.2 /><circle cx=515 cy=331 r=2.2 /><circle cx=487 cy=351 r=2.2 /><circle cx=541 cy=365 r=2.2 /><circle cx=612 cy=328 r=2.2 /><circle cx=523 cy=359 r=2.2 /><circle cx=483 cy=321 r=2.2 /><circle cx=586 cy=346 r=2.2 /><circle cx=422 cy=367 r=2.2 /><circle cx=391 cy=350 r=2.2 /><circle cx=507 cy=323 r=2.2 /><circle cx=439 cy=369 r=2.2 /><circle cx=511 cy=347 r=2.2 /><circle cx=536 cy=334 r=2.2 /><circle cx=603 cy=365 r=2.2 /><circle cx=605 cy=337 r=2.2 /><circle cx=566 cy=320 r=2.2 /><circle cx=513 cy=366 r=2.2 /><circle cx=495 cy=363 r=2.2 /><circle cx=582 cy=356 r=2.2 /><circle cx=467 cy=351 r=2.2 /><circle cx=453 cy=351 r=2.2 /><circle cx=514 cy=326 r=2.2 /><circle cx=537 cy=338 r=2.2 /><circle cx=539 cy=355 r=2.2 /><circle cx=580 cy=355 r=2.2 /><circle cx=405 cy=358 r=2.2 /><circle cx=571 cy=351 r=2.2 /><circle cx=492 cy=339 r=2.2 /><circle cx=594 cy=340 r=2.2 /><circle cx=549 cy=370 r=2.2 /><circle cx=518 cy=377 r=2.2 /><circle cx=442 cy=335 r=2.2 /><circle cx=459 cy=343 r=2.2 /><circle cx=456 cy=334 r=2.2 /><circle cx=571 cy=342 r=2.2 /><circle cx=550 cy=338 r=2.2 /><circle cx=388 cy=338 r=2.2 /><circle cx=414 cy=332 r=2.2 /><circle cx=518 cy=365 r=2.2 /><circle cx=462 cy=354 r=2.2 /><circle cx=556 cy=355 r=2.2 /><circle cx=413 cy=355 r=2.2 /><circle cx=503 cy=352 r=2.2 /><circle cx=471 cy=362 r=2.2 /><circle cx=581 cy=332 r=2.2 /><circle cx=431 cy=335 r=2.2 /><circle cx=571 cy=353 r=2.2 /><circle cx=513 cy=349 r=2.2 /><circle cx=474 cy=343 r=2.2 /><circle cx=466 cy=364 r=2.2 /><circle cx=417 cy=365 r=2.2 /><circle cx=535 cy=334 r=2.2 /><circle cx=422 cy=346 r=2.2 /><circle cx=479 cy=316 r=2.2 /><circle cx=469 cy=360 r=2.2 /><circle cx=424 cy=355 r=2.2 /><circle cx=450 cy=349 r=2.2 /><circle cx=462 cy=345 r=2.2 /><circle cx=608 cy=351 r=2.2 /><circle cx=609 cy=362 r=2.2 /><circle cx=490 cy=359 r=2.2 /><circle cx=406 cy=362 r=2.2 /><circle cx=611 cy=340 r=2.2 /><circle cx=473 cy=340 r=2.2 /><circle cx=558 cy=337 r=2.2 /><circle cx=567 cy=356 r=2.2 /><circle cx=487 cy=366 r=2.2 /><circle cx=472 cy=352 r=2.2 /><circle cx=509 cy=323 r=2.2 /><circle cx=430 cy=349 r=2.2 /><circle cx=399 cy=343 r=2.2 /><circle cx=398 cy=338 r=2.2 /><circle cx=481 cy=320 r=2.2 /><circle cx=440 cy=365 r=2.2 /><circle cx=592 cy=351 r=2.2 /><circle cx=439 cy=356 r=2.2 /><circle cx=602 cy=342 r=2.2 /><circle cx=531 cy=325 r=2.2 /><circle cx=499 cy=356 r=2.2 /><circle cx=546 cy=322 r=2.2 /><circle cx=553 cy=340 r=2.2 /><circle cx=551 cy=330 r=2.2 /><circle cx=508 cy=360 r=2.2 /><circle cx=586 cy=351 r=2.2 /><circle cx=596 cy=336 r=2.2 /><circle cx=458 cy=329 r=2.2 /><circle cx=457 cy=327 r=2.2 /><circle cx=469 cy=335 r=2.2 /><circle cx=460 cy=351 r=2.2 /><circle cx=510 cy=345 r=2.2 /><circle cx=609 cy=329 r=2.2 /><circle cx=510 cy=343 r=2.2 /><circle cx=526 cy=327 r=2.2 /><circle cx=569 cy=341 r=2.2 /><circle cx=492 cy=345 r=2.2 /><circle cx=524 cy=378 r=2.2 /><circle cx=485 cy=332 r=2.2 /><circle cx=462 cy=336 r=2.2 /><circle cx=515 cy=330 r=2.2 /><circle cx=422 cy=364 r=2.2 /><circle cx=617 cy=338 r=2.2 /><circle cx=519 cy=371 r=2.2 /><circle cx=536 cy=345 r=2.2 /><circle cx=403 cy=356 r=2.2 /><circle cx=518 cy=359 r=2.2 /><circle cx=558 cy=358 r=2.2 /><circle cx=584 cy=342 r=2.2 /><circle cx=592 cy=325 r=2.2 /><circle cx=565 cy=365 r=2.2 /><circle cx=567 cy=356 r=2.2 /><circle cx=586 cy=363 r=2.2 /><circle cx=561 cy=356 r=2.2 /><circle cx=597 cy=347 r=2.2 /><circle cx=480 cy=325 r=2.2 /><circle cx=533 cy=343 r=2.2 /><circle cx=492 cy=351 r=2.2 /><circle cx=389 cy=340 r=2.2 /><circle cx=572 cy=323 r=2.2 /><circle cx=551 cy=307 r=2.2 /><circle cx=428 cy=322 r=2.2 /><circle cx=440 cy=321 r=2.2 /><circle cx=509 cy=294 r=2.2 /><circle cx=393 cy=312 r=2.2 /><circle cx=576 cy=310 r=2.2 /><circle cx=611 cy=332 r=2.2 /><circle cx=553 cy=330 r=2.2 /><circle cx=487 cy=305 r=2.2 /><circle cx=502 cy=313 r=2.2 /><circle cx=477 cy=292 r=2.2 /><circle cx=431 cy=318 r=2.2 /><circle cx=477 cy=292 r=2.2 /><circle cx=524 cy=323 r=2.2 /><circle cx=420 cy=320 r=2.2 /><circle cx=528 cy=311 r=2.2 /><circle cx=457 cy=323 r=2.2 /><circle cx=511 cy=310 r=2.2 /><circle cx=531 cy=318 r=2.2 /><circle cx=561 cy=321 r=2.2 /><circle cx=504 cy=321 r=2.2 /><circle cx=526 cy=300 r=2.2 /><circle cx=488 cy=292 r=2.2 /><circle cx=525 cy=330 r=2.2 /><circle cx=544 cy=323 r=2.2 /><circle cx=479 cy=311 r=2.2 /><circle cx=409 cy=316 r=2.2 /><circle cx=579 cy=316 r=2.2 /><circle cx=410 cy=332 r=2.2 /><circle cx=548 cy=291 r=2.2 /><circle cx=537 cy=328 r=2.2 /><circle cx=483 cy=321 r=2.2 /><circle cx=466 cy=324 r=2.2 /><circle cx=504 cy=315 r=2.2 /><circle cx=541 cy=303 r=2.2 /><circle cx=453 cy=312 r=2.2 /><circle cx=542 cy=324 r=2.2 /><circle cx=483 cy=304 r=2.2 /><circle cx=437 cy=329 r=2.2 /><circle cx=501 cy=331 r=2.2 /><circle cx=500 cy=329 r=2.2 /><circle cx=524 cy=330 r=2.2 /><circle cx=517 cy=336 r=2.2 /><circle cx=528 cy=315 r=2.2 /><circle cx=555 cy=319 r=2.2 /><circle cx=598 cy=324 r=2.2 /><circle cx=507 cy=318 r=2.2 /><circle cx=412 cy=315 r=2.2 /><circle cx=556 cy=303 r=2.2 /><circle cx=425 cy=316 r=2.2 /><circle cx=521 cy=325 r=2.2 /><circle cx=391 cy=322 r=2.2 /><circle cx=483 cy=310 r=2.2 /><circle cx=538 cy=288 r=2.2 /><circle cx=537 cy=326 r=2.2 /><circle cx=501 cy=333 r=2.2 /><circle cx=565 cy=306 r=2.2 /><circle cx=453 cy=319 r=2.2 /><circle cx=475 cy=322 r=2.2 /><circle cx=400 cy=337 r=2.2 /><circle cx=524 cy=335 r=2.2 /><circle cx=571 cy=324 r=2.2 /><circle cx=541 cy=313 r=2.2 /><circle cx=459 cy=326 r=2.2 /><circle cx=446 cy=315 r=2.2 /><circle cx=426 cy=321 r=2.2 /><circle cx=606 cy=327 r=2.2 /><circle cx=535 cy=328 r=2.2 /><circle cx=458 cy=326 r=2.2 /><circle cx=582 cy=325 r=2.2 /><circle cx=594 cy=315 r=2.2 /><circle cx=412 cy=324 r=2.2 /><circle cx=448 cy=319 r=2.2 /><circle cx=590 cy=327 r=2.2 /><circle cx=480 cy=300 r=2.2 /><circle cx=615 cy=319 r=2.2 /><circle cx=588 cy=287 r=2.2 /><circle cx=404 cy=309 r=2.2 /><circle cx=473 cy=310 r=2.2 /><circle cx=611 cy=311 r=2.2 /><circle cx=495 cy=321 r=2.2 /><circle cx=603 cy=335 r=2.2 /><circle cx=460 cy=308 r=2.2 /><circle cx=458 cy=306 r=2.2 /><circle cx=494 cy=307 r=2.2 /><circle cx=551 cy=329 r=2.2 /><circle cx=439 cy=317 r=2.2 /><circle cx=495 cy=334 r=2.2 /><circle cx=475 cy=310 r=2.2 /><circle cx=550 cy=315 r=2.2 /><circle cx=521 cy=316 r=2.2 /><circle cx=524 cy=328 r=2.2 /><circle cx=532 cy=305 r=2.2 /><circle cx=463 cy=303 r=2.2 /><circle cx=406 cy=327 r=2.2 /><circle cx=568 cy=303 r=2.2 /><circle cx=408 cy=329 r=2.2 /><circle cx=563 cy=320 r=2.2 /><circle cx=422 cy=310 r=2.2 /><circle cx=461 cy=289 r=2.2 /><circle cx=389 cy=321 r=2.2 /><circle cx=497 cy=333 r=2.2 /><circle cx=435 cy=308 r=2.2 /><circle cx=525 cy=329 r=2.2 /><circle cx=471 cy=325 r=2.2 /><circle cx=394 cy=308 r=2.2 /><circle cx=551 cy=313 r=2.2 /><circle cx=486 cy=329 r=2.2 /><circle cx=504 cy=315 r=2.2 /><circle cx=448 cy=319 r=2.2 /><circle cx=598 cy=300 r=2.2 /><circle cx=528 cy=294 r=2.2 /><circle cx=514 cy=310 r=2.2 /><circle cx=403 cy=320 r=2.2 /><circle cx=567 cy=302 r=2.2 /><circle cx=503 cy=323 r=2.2 /><circle cx=525 cy=320 r=2.2 /><circle cx=510 cy=322 r=2.2 /><circle cx=589 cy=330 r=2.2 /><circle cx=416 cy=336 r=2.2 /><circle cx=576 cy=333 r=2.2 /><circle cx=533 cy=288 r=2.2 /><circle cx=433 cy=323 r=2.2 /><circle cx=590 cy=304 r=2.2 /><circle cx=586 cy=327 r=2.2 /><circle cx=411 cy=308 r=2.2 /><circle cx=460 cy=300 r=2.2 /><circle cx=455 cy=305 r=2.2 /><circle cx=605 cy=334 r=2.2 /><circle cx=473 cy=319 r=2.2 /><circle cx=463 cy=315 r=2.2 /><circle cx=497 cy=316 r=2.2 /><circle cx=603 cy=317 r=2.2 /><circle cx=592 cy=299 r=2.2 /><circle cx=394 cy=326 r=2.2 /><circle cx=392 cy=314 r=2.2 /><circle cx=404 cy=311 r=2.2 /><circle cx=602 cy=308 r=2.2 /><circle cx=620 cy=315 r=2.2 /><circle cx=400 cy=320 r=2.2 /><circle cx=580 cy=321 r=2.2 /><circle cx=615 cy=315 r=2.2 /><circle cx=598 cy=286 r=2.2 /><circle cx=585 cy=329 r=2.2 /><circle cx=490 cy=304 r=2.2 /><circle cx=530 cy=322 r=2.2 /><circle cx=493 cy=325 r=2.2 /><circle cx=607 cy=328 r=2.2 /><circle cx=544 cy=320 r=2.2 /><circle cx=561 cy=323 r=2.2 /><circle cx=397 cy=321 r=2.2 /><circle cx=416 cy=313 r=2.2 /><circle cx=485 cy=330 r=2.2 /><circle cx=526 cy=304 r=2.2 /><circle cx=423 cy=313 r=2.2 /><circle cx=472 cy=314 r=2.2 /><circle cx=572 cy=298 r=2.2 /><circle cx=523 cy=341 r=2.2 /><circle cx=542 cy=308 r=2.2 /><circle cx=565 cy=299 r=2.2 /><circle cx=448 cy=311 r=2.2 /><circle cx=479 cy=307 r=2.2 /><circle cx=569 cy=318 r=2.2 /><circle cx=454 cy=313 r=2.2 /><circle cx=493 cy=312 r=2.2 /><circle cx=535 cy=323 r=2.2 /><circle cx=556 cy=321 r=2.2 /><circle cx=591 cy=317 r=2.2 /><circle cx=413 cy=320 r=2.2 /><circle cx=531 cy=325 r=2.2 /><circle cx=609 cy=318 r=2.2 /><circle cx=600 cy=329 r=2.2 /><circle cx=579 cy=316 r=2.2 /><circle cx=397 cy=295 r=2.2 /><circle cx=512 cy=319 r=2.2 /><circle cx=613 cy=327 r=2.2 /><circle cx=591 cy=314 r=2.2 /><circle cx=490 cy=325 r=2.2 /><circle cx=423 cy=320 r=2.2 /><circle cx=477 cy=328 r=2.2 /><circle cx=596 cy=297 r=2.2 /><circle cx=504 cy=306 r=2.2 /><circle cx=413 cy=312 r=2.2 /><circle cx=429 cy=317 r=2.2 /><circle cx=599 cy=316 r=2.2 /><circle cx=534 cy=320 r=2.2 /><circle cx=434 cy=317 r=2.2 /><circle cx=560 cy=319 r=2.2 /><circle cx=480 cy=297 r=2.2 /><circle cx=608 cy=328 r=2.2 /><circle cx=458 cy=293 r=2.2 /><circle cx=532 cy=313 r=2.2 /><circle cx=452 cy=304 r=2.2 /><circle cx=492 cy=329 r=2.2 /><circle cx=466 cy=327 r=2.2 /><circle cx=576 cy=336 r=2.2 /><circle cx=601 cy=296 r=2.2 /><circle cx=391 cy=329 r=2.2 /><circle cx=526 cy=319 r=2.2 /><circle cx=400 cy=306 r=2.2 /><circle cx=519 cy=307 r=2.2 /><circle cx=442 cy=327 r=2.2 /><circle cx=591 cy=307 r=2.2 /><circle cx=593 cy=293 r=2.2 /><circle cx=620 cy=324 r=2.2 /><circle cx=588 cy=313 r=2.2 /><circle cx=393 cy=325 r=2.2 /><circle cx=419 cy=318 r=2.2 /><circle cx=435 cy=302 r=2.2 /><circle cx=409 cy=333 r=2.2 /><circle cx=599 cy=328 r=2.2 /><circle cx=392 cy=318 r=2.2 /><circle cx=438 cy=317 r=2.2 /><circle cx=545 cy=312 r=2.2 /><circle cx=480 cy=309 r=2.2 /><circle cx=589 cy=330 r=2.2 /><circle cx=560 cy=328 r=2.2 /><circle cx=543 cy=331 r=2.2 /><circle cx=498 cy=318 r=2.2 /><circle cx=418 cy=307 r=2.2 /><circle cx=575 cy=334 r=2.2 /><circle cx=396 cy=326 r=2.2 /><circle cx=464 cy=306 r=2.2 /><circle cx=523 cy=319 r=2.2 /><circle cx=578 cy=322 r=2.2 /><circle cx=613 cy=320 r=2.2 /><circle cx=538 cy=336 r=2.2 /><circle cx=426 cy=332 r=2.2 /><circle cx=561 cy=314 r=2.2 /><circle cx=516 cy=311 r=2.2 /><circle cx=522 cy=327 r=2.2 /><circle cx=530 cy=322 r=2.2 /><circle cx=458 cy=324 r=2.2 /><circle cx=561 cy=325 r=2.2 /><circle cx=391 cy=326 r=2.2 /><circle cx=608 cy=313 r=2.2 /><circle cx=438 cy=320 r=2.2 /><circle cx=396 cy=323 r=2.2 /><circle cx=602 cy=325 r=2.2 /><circle cx=510 cy=309 r=2.2 /><circle cx=413 cy=316 r=2.2 /><circle cx=560 cy=318 r=2.2 /><circle cx=592 cy=321 r=2.2 /><circle cx=560 cy=331 r=2.2 /><circle cx=565 cy=307 r=2.2 /><circle cx=427 cy=318 r=2.2 /><circle cx=434 cy=308 r=2.2 /><circle cx=472 cy=319 r=2.2 /><circle cx=560 cy=327 r=2.2 /><circle cx=606 cy=330 r=2.2 /><circle cx=586 cy=332 r=2.2 /><circle cx=547 cy=304 r=2.2 /><circle cx=499 cy=320 r=2.2 /><circle cx=471 cy=309 r=2.2 /><circle cx=609 cy=314 r=2.2 /><circle cx=545 cy=327 r=2.2 /><circle cx=541 cy=321 r=2.2 /><circle cx=567 cy=311 r=2.2 /><circle cx=517 cy=327 r=2.2 /><circle cx=527 cy=308 r=2.2 /><circle cx=458 cy=317 r=2.2 /><circle cx=599 cy=308 r=2.2 /><circle cx=442 cy=322 r=2.2 /><circle cx=472 cy=328 r=2.2 /><circle cx=605 cy=331 r=2.2 /><circle cx=418 cy=309 r=2.2 /><circle cx=493 cy=309 r=2.2 /><circle cx=405 cy=306 r=2.2 /><circle cx=548 cy=292 r=2.2 /><circle cx=475 cy=317 r=2.2 /><circle cx=601 cy=327 r=2.2 /><circle cx=497 cy=320 r=2.2 /><circle cx=619 cy=313 r=2.2 /><circle cx=518 cy=335 r=2.2 /><circle cx=596 cy=303 r=2.2 /><circle cx=424 cy=336 r=2.2 /><circle cx=510 cy=310 r=2.2 /><circle cx=564 cy=317 r=2.2 /><circle cx=590 cy=319 r=2.2 /><circle cx=611 cy=310 r=2.2 /><circle cx=514 cy=319 r=2.2 /><circle cx=503 cy=312 r=2.2 /><circle cx=414 cy=302 r=2.2 /><circle cx=457 cy=329 r=2.2 /><circle cx=524 cy=326 r=2.2 /><circle cx=548 cy=314 r=2.2 /><circle cx=521 cy=309 r=2.2 /><circle cx=544 cy=323 r=2.2 /><circle cx=548 cy=317 r=2.2 /><circle cx=465 cy=329 r=2.2 /><circle cx=389 cy=325 r=2.2 /><circle cx=534 cy=324 r=2.2 /><circle cx=497 cy=332 r=2.2 /><circle cx=453 cy=303 r=2.2 /><circle cx=394 cy=320 r=2.2 /><circle cx=516 cy=299 r=2.2 /><circle cx=501 cy=338 r=2.2 /><circle cx=558 cy=307 r=2.2 /><circle cx=504 cy=322 r=2.2 /><circle cx=581 cy=325 r=2.2 /><circle cx=413 cy=331 r=2.2 /><circle cx=434 cy=308 r=2.2 /><circle cx=449 cy=313 r=2.2 /><circle cx=525 cy=323 r=2.2 /><circle cx=443 cy=306 r=2.2 /><circle cx=445 cy=316 r=2.2 /><circle cx=501 cy=312 r=2.2 /><circle cx=437 cy=318 r=2.2 /><circle cx=525 cy=319 r=2.2 /><circle cx=478 cy=321 r=2.2 /><circle cx=518 cy=336 r=2.2 /><circle cx=481 cy=292 r=2.2 /><circle cx=556 cy=323 r=2.2 /><circle cx=450 cy=292 r=2.2 /><circle cx=453 cy=322 r=2.2 /><circle cx=435 cy=311 r=2.2 /><circle cx=504 cy=318 r=2.2 /><circle cx=437 cy=318 r=2.2 /><circle cx=500 cy=331 r=2.2 /><circle cx=551 cy=328 r=2.2 /><circle cx=536 cy=326 r=2.2 /><circle cx=490 cy=300 r=2.2 /><circle cx=492 cy=308 r=2.2 /><circle cx=458 cy=311 r=2.2 /><circle cx=617 cy=318 r=2.2 /><circle cx=569 cy=327 r=2.2 /><circle cx=501 cy=297 r=2.2 /><circle cx=473 cy=313 r=2.2 /><circle cx=564 cy=304 r=2.2 /><circle cx=522 cy=321 r=2.2 /><circle cx=460 cy=282 r=2.2 /><circle cx=438 cy=317 r=2.2 /><circle cx=588 cy=326 r=2.2 /><circle cx=485 cy=305 r=2.2 /><circle cx=522 cy=299 r=2.2 /><circle cx=546 cy=316 r=2.2 /><circle cx=523 cy=338 r=2.2 /><circle cx=610 cy=315 r=2.2 /><circle cx=599 cy=317 r=2.2 /><circle cx=602 cy=321 r=2.2 /><circle cx=526 cy=302 r=2.2 /><circle cx=534 cy=324 r=2.2 /><circle cx=485 cy=331 r=2.2 /><circle cx=420 cy=315 r=2.2 /><circle cx=422 cy=322 r=2.2 /><circle cx=575 cy=334 r=2.2 /><circle cx=409 cy=327 r=2.2 /><circle cx=477 cy=324 r=2.2 /><circle cx=398 cy=312 r=2.2 /><circle cx=573 cy=295 r=2.2 /><circle cx=411 cy=324 r=2.2 /><circle cx=398 cy=307 r=2.2 /><circle cx=618 cy=312 r=2.2 /><circle cx=455 cy=302 r=2.2 /><circle cx=410 cy=292 r=2.2 /><circle cx=442 cy=323 r=2.2 /><circle cx=552 cy=337 r=2.2 /><circle cx=470 cy=305 r=2.2 /><circle cx=505 cy=316 r=2.2 /><circle cx=404 cy=317 r=2.2 /><circle cx=532 cy=291 r=2.2 /><circle cx=410 cy=319 r=2.2 /><circle cx=427 cy=328 r=2.2 /><circle cx=596 cy=304 r=2.2 /><circle cx=418 cy=334 r=2.2 /><circle cx=510 cy=317 r=2.2 /><circle cx=578 cy=325 r=2.2 /><circle cx=538 cy=318 r=2.2 /><circle cx=594 cy=319 r=2.2 /><circle cx=438 cy=331 r=2.2 /><circle cx=458 cy=322 r=2.2 /><circle cx=423 cy=307 r=2.2 /><circle cx=445 cy=318 r=2.2 /><circle cx=479 cy=293 r=2.2 /><circle cx=470 cy=314 r=2.2 /><circle cx=591 cy=315 r=2.2 /><circle cx=605 cy=319 r=2.2 /><circle cx=494 cy=323 r=2.2 /><circle cx=434 cy=321 r=2.2 /><circle cx=617 cy=314 r=2.2 /><circle cx=580 cy=318 r=2.2 /><circle cx=411 cy=329 r=2.2 /><circle cx=563 cy=313 r=2.2 /><circle cx=562 cy=292 r=2.2 /><circle cx=483 cy=309 r=2.2 /><circle cx=485 cy=320 r=2.2 /><circle cx=521 cy=329 r=2.2 /><circle cx=596 cy=288 r=2.2 /><circle cx=583 cy=334 r=2.2 /><circle cx=518 cy=333 r=2.2 /><circle cx=471 cy=314 r=2.2 /><circle cx=612 cy=319 r=2.2 /><circle cx=471 cy=316 r=2.2 /><circle cx=483 cy=311 r=2.2 /><circle cx=602 cy=336 r=2.2 /><circle cx=575 cy=305 r=2.2 /><circle cx=590 cy=331 r=2.2 /><circle cx=393 cy=306 r=2.2 /><circle cx=608 cy=316 r=2.2 /><circle cx=401 cy=319 r=2.2 /><circle cx=540 cy=322 r=2.2 /><circle cx=481 cy=298 r=2.2 /><circle cx=499 cy=322 r=2.2 /><circle cx=591 cy=316 r=2.2 /><circle cx=598 cy=305 r=2.2 /><circle cx=598 cy=326 r=2.2 /><circle cx=557 cy=310 r=2.2 /><circle cx=455 cy=302 r=2.2 /><circle cx=453 cy=308 r=2.2 /><circle cx=604 cy=318 r=2.2 /><circle cx=561 cy=309 r=2.2 /><circle cx=462 cy=302 r=2.2 /><circle cx=400 cy=331 r=2.2 /><circle cx=615 cy=319 r=2.2 /><circle cx=468 cy=316 r=2.2 /><circle cx=591 cy=308 r=2.2 /><circle cx=517 cy=317 r=2.2 /><circle cx=552 cy=288 r=2.2 /><circle cx=421 cy=314 r=2.2 /><circle cx=612 cy=304 r=2.2 /><circle cx=542 cy=293 r=2.2 /><circle cx=517 cy=312 r=2.2 /><circle cx=490 cy=320 r=2.2 /><circle cx=562 cy=305 r=2.2 /><circle cx=538 cy=335 r=2.2 /><circle cx=602 cy=305 r=2.2 /><circle cx=525 cy=325 r=2.2 /><circle cx=439 cy=324 r=2.2 /><circle cx=583 cy=339 r=2.2 /><circle cx=591 cy=307 r=2.2 /><circle cx=587 cy=325 r=2.2 /><circle cx=450 cy=296 r=2.2 /><circle cx=553 cy=324 r=2.2 /><circle cx=461 cy=312 r=2.2 /><circle cx=398 cy=336 r=2.2 /><circle cx=426 cy=333 r=2.2 /><circle cx=561 cy=300 r=2.2 /><circle cx=423 cy=317 r=2.2 /><circle cx=467 cy=319 r=2.2 /><circle cx=557 cy=322 r=2.2 /><circle cx=397 cy=291 r=2.2 /><circle cx=449 cy=321 r=2.2 /><circle cx=410 cy=329 r=2.2 /><circle cx=557 cy=304 r=2.2 /><circle cx=613 cy=306 r=2.2 /><circle cx=399 cy=323 r=2.2 /><circle cx=435 cy=303 r=2.2 /><circle cx=452 cy=320 r=2.2 /><circle cx=555 cy=288 r=2.2 /><circle cx=543 cy=317 r=2.2 /><circle cx=446 cy=320 r=2.2 /><circle cx=492 cy=302 r=2.2 /><circle cx=494 cy=333 r=2.2 /><circle cx=457 cy=312 r=2.2 /><circle cx=610 cy=325 r=2.2 /><circle cx=536 cy=308 r=2.2 /><circle cx=458 cy=313 r=2.2 /><circle cx=481 cy=314 r=2.2 /><circle cx=540 cy=331 r=2.2 /><circle cx=495 cy=323 r=2.2 /><circle cx=564 cy=307 r=2.2 /><circle cx=501 cy=338 r=2.2 /><circle cx=442 cy=291 r=2.2 /><circle cx=389 cy=325 r=2.2 /><circle cx=607 cy=325 r=2.2 /><circle cx=407 cy=306 r=2.2 /><circle cx=404 cy=311 r=2.2 /><circle cx=488 cy=309 r=2.2 /><circle cx=553 cy=338 r=2.2 /><circle cx=559 cy=322 r=2.2 /><circle cx=504 cy=310 r=2.2 /><circle cx=416 cy=332 r=2.2 /><circle cx=592 cy=312 r=2.2 /><circle cx=522 cy=324 r=2.2 /><circle cx=477 cy=298 r=2.2 /><circle cx=516 cy=292 r=2.2 /><circle cx=543 cy=328 r=2.2 /><circle cx=576 cy=335 r=2.2 /><circle cx=533 cy=314 r=2.2 /><circle cx=419 cy=305 r=2.2 /><circle cx=587 cy=317 r=2.2 /><circle cx=496 cy=313 r=2.2 /><circle cx=388 cy=315 r=2.2 /><circle cx=430 cy=310 r=2.2 /><circle cx=397 cy=312 r=2.2 /><circle cx=398 cy=332 r=2.2 /><circle cx=477 cy=320 r=2.2 /><circle cx=608 cy=318 r=2.2 /><circle cx=473 cy=315 r=2.2 /><circle cx=537 cy=324 r=2.2 /><circle cx=532 cy=311 r=2.2 /><circle cx=472 cy=322 r=2.2 /><circle cx=469 cy=319 r=2.2 /><circle cx=581 cy=321 r=2.2 /><circle cx=483 cy=282 r=2.2 /><circle cx=392 cy=293 r=2.2 /><circle cx=541 cy=316 r=2.2 /><circle cx=515 cy=331 r=2.2 /><circle cx=486 cy=312 r=2.2 /><circle cx=615 cy=384 r=2.2 /><circle cx=515 cy=380 r=2.2 /><circle cx=617 cy=372 r=2.2 /><circle cx=526 cy=380 r=2.2 /><circle cx=505 cy=366 r=2.2 /><circle cx=556 cy=374 r=2.2 /><circle cx=464 cy=381 r=2.2 /><circle cx=468 cy=378 r=2.2 /><circle cx=440 cy=372 r=2.2 /><circle cx=434 cy=380 r=2.2 /><circle cx=415 cy=376 r=2.2 /><circle cx=437 cy=393 r=2.2 /><circle cx=557 cy=372 r=2.2 /><circle cx=613 cy=371 r=2.2 /><circle cx=450 cy=361 r=2.2 /><circle cx=557 cy=371 r=2.2 /><circle cx=583 cy=375 r=2.2 /><circle cx=608 cy=371 r=2.2 /><circle cx=554 cy=367 r=2.2 /><circle cx=513 cy=371 r=2.2 /><circle cx=416 cy=375 r=2.2 /><circle cx=454 cy=377 r=2.2 /><circle cx=581 cy=374 r=2.2 /><circle cx=598 cy=386 r=2.2 /><circle cx=550 cy=373 r=2.2 /><circle cx=513 cy=366 r=2.2 /><circle cx=577 cy=361 r=2.2 /><circle cx=502 cy=373 r=2.2 /><circle cx=404 cy=367 r=2.2 /><circle cx=583 cy=372 r=2.2 /><circle cx=487 cy=384 r=2.2 /><circle cx=572 cy=374 r=2.2 /><circle cx=505 cy=355 r=2.2 /><circle cx=600 cy=376 r=2.2 /><circle cx=619 cy=364 r=2.2 /><circle cx=607 cy=377 r=2.2 /><circle cx=424 cy=366 r=2.2 /><circle cx=478 cy=365 r=2.2 /><circle cx=545 cy=366 r=2.2 /><circle cx=528 cy=380 r=2.2 /><circle cx=446 cy=379 r=2.2 /><circle cx=581 cy=373 r=2.2 /><circle cx=607 cy=371 r=2.2 /><circle cx=508 cy=365 r=2.2 /><circle cx=406 cy=365 r=2.2 /><circle cx=498 cy=368 r=2.2 /><circle cx=613 cy=381 r=2.2 /><circle cx=594 cy=358 r=2.2 /><circle cx=404 cy=373 r=2.2 /><circle cx=600 cy=373 r=2.2 /><circle cx=594 cy=361 r=2.2 /><circle cx=535 cy=375 r=2.2 /><circle cx=530 cy=362 r=2.2 /><circle cx=455 cy=358 r=2.2 /><circle cx=414 cy=367 r=2.2 /><circle cx=488 cy=381 r=2.2 /><circle cx=539 cy=385 r=2.2 /><circle cx=499 cy=369 r=2.2 /><circle cx=396 cy=376 r=2.2 /><circle cx=499 cy=368 r=2.2 /><circle cx=606 cy=371 r=2.2 /><circle cx=464 cy=370 r=2.2 /><circle cx=512 cy=371 r=2.2 /><circle cx=412 cy=376 r=2.2 /><circle cx=487 cy=371 r=2.2 /><circle cx=444 cy=374 r=2.2 /><circle cx=569 cy=369 r=2.2 /><circle cx=578 cy=380 r=2.2 /><circle cx=560 cy=361 r=2.2 /><circle cx=458 cy=362 r=2.2 /><circle cx=533 cy=364 r=2.2 /><circle cx=504 cy=359 r=2.2 /><circle cx=602 cy=378 r=2.2 /><circle cx=492 cy=381 r=2.2 /><circle cx=595 cy=361 r=2.2 /><circle cx=517 cy=376 r=2.2 /><circle cx=425 cy=390 r=2.2 /><circle cx=392 cy=368 r=2.2 /><circle cx=462 cy=361 r=2.2 /><circle cx=527 cy=382 r=2.2 /><circle cx=469 cy=372 r=2.2 /><circle cx=419 cy=378 r=2.2 /><circle cx=388 cy=364 r=2.2 /><circle cx=460 cy=362 r=2.2 /><circle cx=587 cy=389 r=2.2 /><circle cx=554 cy=373 r=2.2 /><circle cx=548 cy=374 r=2.2 /><circle cx=597 cy=373 r=2.2 /><circle cx=502 cy=367 r=2.2 /><circle cx=498 cy=372 r=2.2 /><circle cx=564 cy=373 r=2.2 /><circle cx=500 cy=387 r=2.2 /><circle cx=400 cy=373 r=2.2 /><circle cx=528 cy=372 r=2.2 /><circle cx=585 cy=379 r=2.2 /><circle cx=417 cy=371 r=2.2 /><circle cx=616 cy=371 r=2.2 /><circle cx=499 cy=365 r=2.2 /><circle cx=583 cy=378 r=2.2 /><circle cx=518 cy=390 r=2.2 /><circle cx=407 cy=370 r=2.2 /><circle cx=598 cy=374 r=2.2 /><circle cx=495 cy=369 r=2.2 /><circle cx=547 cy=367 r=2.2 /><circle cx=551 cy=374 r=2.2 /><circle cx=615 cy=374 r=2.2 /><circle cx=568 cy=367 r=2.2 /><circle cx=608 cy=374 r=2.2 /><circle cx=474 cy=371 r=2.2 /><circle cx=542 cy=364 r=2.2 /><circle cx=600 cy=376 r=2.2 /><circle cx=423 cy=368 r=2.2 /><circle cx=505 cy=363 r=2.2 /><circle cx=455 cy=364 r=2.2 /><circle cx=441 cy=378 r=2.2 /><circle cx=572 cy=374 r=2.2 /><circle cx=487 cy=373 r=2.2 /><circle cx=611 cy=374 r=2.2 /><circle cx=526 cy=380 r=2.2 /><circle cx=546 cy=370 r=2.2 /><circle cx=420 cy=380 r=2.2 /><circle cx=563 cy=366 r=2.2 /><circle cx=414 cy=367 r=2.2 /><circle cx=389 cy=368 r=2.2 /><circle cx=450 cy=365 r=2.2 /><circle cx=558 cy=376 r=2.2 /><circle cx=482 cy=363 r=2.2 /><circle cx=546 cy=374 r=2.2 /><circle cx=535 cy=374 r=2.2 /><circle cx=534 cy=379 r=2.2 /><circle cx=571 cy=374 r=2.2 /><circle cx=412 cy=364 r=2.2 /><circle cx=550 cy=377 r=2.2 /><circle cx=504 cy=368 r=2.2 /><circle cx=449 cy=368 r=2.2 /><circle cx=573 cy=369 r=2.2 /><circle cx=591 cy=363 r=2.2 /><circle cx=439 cy=394 r=2.2 /><circle cx=409 cy=375 r=2.2 /><circle cx=496 cy=378 r=2.2 /><circle cx=490 cy=371 r=2.2 /><circle cx=579 cy=364 r=2.2 /><circle cx=582 cy=368 r=2.2 /><circle cx=581 cy=367 r=2.2 /><circle cx=521 cy=379 r=2.2 /><circle cx=591 cy=364 r=2.2 /><circle cx=438 cy=395 r=2.2 /><circle cx=480 cy=359 r=2.2 /><circle cx=411 cy=372 r=2.2 /><circle cx=550 cy=368 r=2.2 /><circle cx=414 cy=371 r=2.2 /><circle cx=563 cy=363 r=2.2 /><circle cx=477 cy=376 r=2.2 /><circle cx=617 cy=371 r=2.2 /><circle cx=587 cy=388 r=2.2 /><circle cx=415 cy=371 r=2.2 /><circle cx=402 cy=382 r=2.2 /><circle cx=521 cy=373 r=2.2 /><circle cx=391 cy=370 r=2.2 /><circle cx=533 cy=367 r=2.2 /><circle cx=410 cy=377 r=2.2 /><circle cx=565 cy=381 r=2.2 /><circle cx=394 cy=387 r=2.2 /><circle cx=466 cy=381 r=2.2 /><circle cx=618 cy=359 r=2.2 /><circle cx=562 cy=363 r=2.2 /><circle cx=556 cy=383 r=2.2 /><circle cx=574 cy=375 r=2.2 /><circle cx=591 cy=355 r=2.2 /><circle cx=389 cy=365 r=2.2 /><circle cx=484 cy=377 r=2.2 /><circle cx=549 cy=376 r=2.2 /><circle cx=521 cy=393 r=2.2 /><circle cx=588 cy=361 r=2.2 /><circle cx=416 cy=373 r=2.2 /><circle cx=465 cy=369 r=2.2 /><circle cx=614 cy=371 r=2.2 /><circle cx=599 cy=381 r=2.2 /><circle cx=419 cy=384 r=2.2 /><circle cx=469 cy=366 r=2.2 /><circle cx=513 cy=369 r=2.2 /><circle cx=463 cy=375 r=2.2 /><circle cx=599 cy=373 r=2.2 /><circle cx=479 cy=361 r=2.2 /><circle cx=444 cy=369 r=2.2 /><circle cx=446 cy=385 r=2.2 /><circle cx=550 cy=378 r=2.2 /><circle cx=595 cy=371 r=2.2 /><circle cx=425 cy=374 r=2.2 /><circle cx=563 cy=362 r=2.2 /><circle cx=471 cy=377 r=2.2 /><circle cx=482 cy=364 r=2.2 /><circle cx=479 cy=362 r=2.2 /><circle cx=534 cy=366 r=2.2 /><circle cx=515 cy=373 r=2.2 /><circle cx=486 cy=380 r=2.2 /><circle cx=503 cy=371 r=2.2 /><circle cx=431 cy=375 r=2.2 /><circle cx=600 cy=382 r=2.2 /><circle cx=607 cy=372 r=2.2 /><circle cx=488 cy=370 r=2.2 /><circle cx=508 cy=366 r=2.2 /><circle cx=462 cy=370 r=2.2 /><circle cx=590 cy=365 r=2.2 /><circle cx=566 cy=393 r=2.2 /><circle cx=605 cy=369 r=2.2 /><circle cx=425 cy=385 r=2.2 /><circle cx=600 cy=378 r=2.2 /><circle cx=620 cy=369 r=2.2 /><circle cx=412 cy=372 r=2.2 /><circle cx=413 cy=368 r=2.2 /><circle cx=587 cy=385 r=2.2 /><circle cx=574 cy=375 r=2.2 /><circle cx=574 cy=383 r=2.2 /><circle cx=583 cy=372 r=2.2 /><circle cx=502 cy=369 r=2.2 /><circle cx=408 cy=373 r=2.2 /><circle cx=448 cy=367 r=2.2 /><circle cx=476 cy=373 r=2.2 /><circle cx=549 cy=377 r=2.2 /><circle cx=483 cy=371 r=2.2 /><circle cx=482 cy=370 r=2.2 /><circle cx=564 cy=368 r=2.2 /><circle cx=445 cy=371 r=2.2 /><circle cx=387 cy=381 r=2.2 /><circle cx=458 cy=357 r=2.2 /><circle cx=423 cy=376 r=2.2 /><circle cx=612 cy=368 r=2.2 /><circle cx=430 cy=386 r=2.2 /><circle cx=538 cy=381 r=2.2 /><circle cx=405 cy=376 r=2.2 /><circle cx=476 cy=381 r=2.2 /><circle cx=592 cy=369 r=2.2 /><circle cx=405 cy=369 r=2.2 /><circle cx=449 cy=362 r=2.2 /><circle cx=515 cy=370 r=2.2 /><circle cx=394 cy=372 r=2.2 /><circle cx=441 cy=370 r=2.2 /><circle cx=410 cy=367 r=2.2 /><circle cx=463 cy=385 r=2.2 /><circle cx=580 cy=370 r=2.2 /><circle cx=504 cy=364 r=2.2 /><circle cx=404 cy=381 r=2.2 /><circle cx=453 cy=357 r=2.2 /><circle cx=593 cy=361 r=2.2 /><circle cx=586 cy=375 r=2.2 /><circle cx=420 cy=375 r=2.2 /><circle cx=521 cy=375 r=2.2 /><circle cx=463 cy=372 r=2.2 /><circle cx=616 cy=370 r=2.2 /><circle cx=389 cy=376 r=2.2 /><circle cx=536 cy=371 r=2.2 /><circle cx=573 cy=366 r=2.2 /><circle cx=494 cy=369 r=2.2 /><circle cx=398 cy=376 r=2.2 /><circle cx=551 cy=367 r=2.2 /><circle cx=540 cy=368 r=2.2 /><circle cx=584 cy=374 r=2.2 /><circle cx=611 cy=375 r=2.2 /><circle cx=604 cy=367 r=2.2 /><circle cx=585 cy=372 r=2.2 /><circle cx=408 cy=373 r=2.2 /><circle cx=587 cy=372 r=2.2 /><circle cx=559 cy=363 r=2.2 /><circle cx=609 cy=365 r=2.2 /><circle cx=420 cy=387 r=2.2 /><circle cx=598 cy=388 r=2.2 /><circle cx=613 cy=375 r=2.2 /><circle cx=517 cy=371 r=2.2 /><circle cx=599 cy=377 r=2.2 /><circle cx=393 cy=368 r=2.2 /><circle cx=395 cy=368 r=2.2 /><circle cx=393 cy=368 r=2.2 /><circle cx=477 cy=374 r=2.2 /><circle cx=554 cy=360 r=2.2 /><circle cx=589 cy=362 r=2.2 /><circle cx=567 cy=362 r=2.2 /><circle cx=391 cy=362 r=2.2 /><circle cx=486 cy=394 r=2.2 /><circle cx=575 cy=370 r=2.2 /><circle cx=510 cy=362 r=2.2 /><circle cx=579 cy=357 r=2.2 /><circle cx=475 cy=372 r=2.2 /><circle cx=600 cy=399 r=2.2 /><circle cx=416 cy=377 r=2.2 /><circle cx=498 cy=373 r=2.2 /><circle cx=442 cy=374 r=2.2 /><circle cx=426 cy=386 r=2.2 /><circle cx=429 cy=374 r=2.2 /><circle cx=581 cy=364 r=2.2 /><circle cx=597 cy=373 r=2.2 /><circle cx=547 cy=379 r=2.2 /><circle cx=610 cy=376 r=2.2 /><circle cx=593 cy=380 r=2.2 /><circle cx=391 cy=372 r=2.2 /><circle cx=594 cy=367 r=2.2 /><circle cx=465 cy=377 r=2.2 /><circle cx=508 cy=371 r=2.2 /><circle cx=599 cy=377 r=2.2 /><circle cx=580 cy=364 r=2.2 /><circle cx=402 cy=385 r=2.2 /><circle cx=452 cy=365 r=2.2 /><circle cx=549 cy=369 r=2.2 /><circle cx=533 cy=378 r=2.2 /><circle cx=430 cy=385 r=2.2 /><circle cx=581 cy=367 r=2.2 /><circle cx=390 cy=365 r=2.2 /><circle cx=554 cy=378 r=2.2 /><circle cx=495 cy=368 r=2.2 /><circle cx=482 cy=362 r=2.2 /><circle cx=528 cy=366 r=2.2 /><circle cx=531 cy=365 r=2.2 /><circle cx=429 cy=369 r=2.2 /><circle cx=509 cy=365 r=2.2 /><circle cx=487 cy=373 r=2.2 /><circle cx=499 cy=384 r=2.2 /><circle cx=479 cy=361 r=2.2 /><circle cx=471 cy=387 r=2.2 /><circle cx=539 cy=370 r=2.2 /><circle cx=413 cy=370 r=2.2 /><circle cx=620 cy=370 r=2.2 /><circle cx=426 cy=382 r=2.2 /><circle cx=590 cy=358 r=2.2 /><circle cx=620 cy=368 r=2.2 /><circle cx=397 cy=366 r=2.2 /><circle cx=409 cy=380 r=2.2 /><circle cx=551 cy=364 r=2.2 /><circle cx=584 cy=376 r=2.2 /><circle cx=557 cy=388 r=2.2 /><circle cx=398 cy=367 r=2.2 /><circle cx=410 cy=381 r=2.2 /><circle cx=519 cy=382 r=2.2 /><circle cx=501 cy=380 r=2.2 /><circle cx=430 cy=372 r=2.2 /><circle cx=480 cy=356 r=2.2 /><circle cx=567 cy=377 r=2.2 /><circle cx=585 cy=372 r=2.2 /><circle cx=484 cy=383 r=2.2 /><circle cx=426 cy=378 r=2.2 /><circle cx=477 cy=376 r=2.2 /><circle cx=512 cy=359 r=2.2 /><circle cx=605 cy=364 r=2.2 /><circle cx=602 cy=374 r=2.2 /><circle cx=420 cy=378 r=2.2 /><circle cx=413 cy=387 r=2.2 /><circle cx=477 cy=375 r=2.2 /><circle cx=465 cy=370 r=2.2 /><circle cx=612 cy=366 r=2.2 /><circle cx=427 cy=375 r=2.2 /><circle cx=523 cy=386 r=2.2 /><circle cx=479 cy=364 r=2.2 /><circle cx=480 cy=363 r=2.2 /><circle cx=405 cy=380 r=2.2 /><circle cx=489 cy=375 r=2.2 /><circle cx=620 cy=367 r=2.2 /><circle cx=421 cy=372 r=2.2 /><circle cx=492 cy=371 r=2.2 /><circle cx=457 cy=374 r=2.2 /><circle cx=620 cy=376 r=2.2 /><circle cx=484 cy=370 r=2.2 /><circle cx=488 cy=373 r=2.2 /><circle cx=454 cy=366 r=2.2 /><circle cx=619 cy=375 r=2.2 /><circle cx=413 cy=382 r=2.2 /><circle cx=599 cy=394 r=2.2 /><circle cx=608 cy=362 r=2.2 /><circle cx=558 cy=370 r=2.2 /><circle cx=399 cy=372 r=2.2 /><circle cx=553 cy=373 r=2.2 /><circle cx=556 cy=372 r=2.2 /><circle cx=402 cy=382 r=2.2 /><circle cx=495 cy=370 r=2.2 />
</g>
<g fill="#ff0000" fill-opacity="0.119" stroke="#ff0000" stroke-opacity="0.170" stroke-width="1">
<circle cx=429 cy=356 r=2.2 /><circle cx=566 cy=328 r=2.2 /><circle cx=618 cy=324 r=2.2 /><circle cx=412 cy=334 r=2.2 /><circle cx=564 cy=320 r=2.2 /><circle cx=437 cy=330 r=2.2 /><circle cx=491 cy=333 r=2.2 /><circle cx=420 cy=332 r=2.2 /><circle cx=603 cy=371 r=2.2 /><circle cx=489 cy=333 r=2.2 /><circle cx=410 cy=370 r=2.2 /><circle cx=389 cy=362 r=2.2 /><circle cx=410 cy=332 r=2.2 /><circle cx=469 cy=352 r=2.2 /><circle cx=478 cy=333 r=2.2 /><circle cx=428 cy=332 r=2.2 /><circle cx=573 cy=325 r=2.2 /><circle cx=501 cy=349 r=2.2 /><circle cx=601 cy=338 r=2.2 /><circle cx=428 cy=345 r=2.2 /><circle cx=561 cy=361 r=2.2 /><circle cx=603 cy=335 r=2.2 /><circle cx=447 cy=342 r=2.2 /><circle cx=607 cy=337 r=2.2 /><circle cx=535 cy=331 r=2.2 /><circle cx=579 cy=352 r=2.2 /><circle cx=579 cy=326 r=2.2 /><circle cx=611 cy=352 r=2.2 /><circle cx=578 cy=328 r=2.2 /><circle cx=431 cy=361 r=2.2 /><circle cx=535 cy=345 r=2.2 /><circle cx=511 cy=329 r=2.2 /><circle cx=589 cy=362 r=2.2 /><circle cx=611 cy=329 r=2.2 /><circle cx=458 cy=334 r=2.2 /><circle cx=549 cy=332 r=2.2 /><circle cx=585 cy=343 r=2.2 /><circle cx=578 cy=327 r=2.2 /><circle cx=584 cy=360 r=2.2 /><circle cx=511 cy=346 r=2.2 /><circle cx=470 cy=326 r=2.2 /><circle cx=439 cy=335 r=2.2 /><circle cx=464 cy=349 r=2.2 /><circle cx=498 cy=343 r=2.2 /><circle cx=392 cy=331 r=2.2 /><circle cx=391 cy=353 r=2.2 /><circle cx=502 cy=341 r=2.2 /><circle cx=504 cy=337 r=2.2 /><circle cx=565 cy=356 r=2.2 /><circle cx=521 cy=333 r=2.2 /><circle cx=609 cy=339 r=2.2 /><circle cx=569 cy=330 r=2.2 /><circle cx=488 cy=353 r=2.2 /><circle cx=424 cy=346 r=2.2 /><circle cx=600 cy=338 r=2.2 /><circle cx=569 cy=327 r=2.2 /><circle cx=519 cy=354 r=2.2 /><circle cx=462 cy=356 r=2.2 /><circle cx=526 cy=332 r=2.2 /><circle cx=496 cy=344 r=2.2 /><circle cx=440 cy=342 r=2.2 /><circle cx=540 cy=326 r=2.2 /><circle cx=510 cy=312 r=2.2 /><circle cx=516 cy=324 r=2.2 /><circle cx=415 cy=325 r=2.2 /><circle cx=610 cy=327 r=2.2 /><circle cx=436 cy=313 r=2.2 /><circle cx=514 cy=322 r=2.2 /><circle cx=454 cy=299 r=2.2 /><circle cx=583 cy=323 r=2.2 /><circle cx=465 cy=307 r=2.2 /><circle cx=491 cy=315 r=2.2 /><circle cx=558 cy=320 r=2.2 /><circle cx=426 cy=327 r=2.2 /><circle cx=507 cy=308 r=2.2 /><circle cx=591 cy=308 r=2.2 /><circle cx=577 cy=288 r=2.2 /><circle cx=616 cy=319 r=2.2 /><circle cx=510 cy=328 r=2.2 /><circle cx=489 cy=328 r=2.2 /><circle cx=481 cy=312 r=2.2 /><circle cx=596 cy=308 r=2.2 /><circle cx=560 cy=325 r=2.2 /><circle cx=464 cy=311 r=2.2 /><circle cx=395 cy=295 r=2.2 /><circle cx=561 cy=330 r=2.2 /><circle cx=501 cy=336 r=2.2 /><circle cx=510 cy=310 r=2.2 /><circle cx=581 cy=316 r=2.2 /><circle cx=408 cy=323 r=2.2 /><circle cx=426 cy=311 r=2.2 /><circle cx=456 cy=328 r=2.2 /><circle cx=470 cy=316 r=2.2 /><circle cx=467 cy=329 r=2.2 /><circle cx=438 cy=331 r=2.2 /><circle cx=461 cy=318 r=2.2 /><circle cx=465 cy=316 r=2.2 /><circle cx=542 cy=319 r=2.2 /><circle cx=474 cy=297 r=2.2 /><circle cx=483 cy=300 r=2.2 /><circle cx=479 cy=306 r=2.2 /><circle cx=409 cy=331 r=2.2 /><circle cx=512 cy=329 r=2.2 /><circle cx=600 cy=330 r=2.2 /><circle cx=509 cy=313 r=2.2 /><circle cx=402 cy=324 r=2.2 /><circle cx=411 cy=310 r=2.2 /><circle cx=485 cy=328 r=2.2 /><circle cx=601 cy=328 r=2.2 /><circle cx=458 cy=328 r=2.2 /><circle cx=506 cy=309 r=2.2 /><circle cx=494 cy=329 r=2.2 /><circle cx=536 cy=374 r=2.2 /><circle cx=587 cy=387 r=2.2 /><circle cx=494 cy=370 r=2.2 /><circle cx=402 cy=386 r=2.2 /><circle cx=419 cy=386 r=2.2 /><circle cx=531 cy=367 r=2.2 /><circle cx=605 cy=371 r=2.2 /><circle cx=520 cy=384 r=2.2 />
</g>
<path fill="none" stroke="#c00010" stroke-opacity="0.5" stroke-width="1" d="M580 344v12M429 357v7M457 344v12M415 332v4M447 330v5M503 324v11M428 336v13M472 344v7M615 327v9M552 343v5M607 350v9M473 329v8M505 341v9M407 348v6M596 322v9M602 365v10M476 340v7M546 319v13M489 338v7M526 334v11M597 313v8M615 351v14M474 356v12M578 351v7M493 347v12M551 357v12M407 351v7M404 323v7M445 332v7M611 348v13M498 351v12M388 328v7M398 341v11M508 357v6M416 350v10M533 331v13M550 327v5M597 320v5M481 334v7M472 334v13M422 328v13M575 347v9M400 364v4M416 350v9M540 341v9M500 347v9M561 334v11M527 342v11M530 318v4M477 361v6M468 332v5M574 324v9M466 340v10M492 344v6M404 321v8M433 330v7M419 343v10M572 359v6M413 340v12M504 347v5M584 360v13M581 343v6M509 321v9M558 332v7M486 360v7M580 339v12M446 364v5M495 352v14M607 331v6M500 347v7M559 332v12M463 328v7M489 333v13M568 332v13M504 324v6M498 332v14M447 345v4M526 335v6M433 343v14M493 334v12M477 326v14M578 331v8M599 344v10M578 327v8M575 348v11M471 361v5M609 358v5M496 342v4M410 362v5M421 355v5M421 349v13M459 341v13M497 347v14M435 331v7M546 331v13M553 352v11M467 350v12M551 330v6M516 362v8M533 348v14M528 324v6M447 324v11M499 342v9M475 329v4M519 339v9M620 329v14M441 355v11M552 338v10M582 330v9M482 347v8"/>
</g>
<path d="M387 327H620" stroke="#00ffff" stroke-width="1.6" stroke-dasharray="6 2.4"/>
<path d="M376.5 275.5H631M376.5 275.5V441.5H631" fill="none" stroke="#222" stroke-width="1.2"/>
<path d="M387.3 441.5v3" stroke="#333" stroke-width="0.9"/>
<text x="387.3" y="453" font-size="8.3" text-anchor="middle">0</text>
<path d="M435.34000000000003 441.5v3" stroke="#333" stroke-width="0.9"/>
<text x="435.34000000000003" y="453" font-size="8.3" text-anchor="middle">2000</text>
<path d="M483.38 441.5v3" stroke="#333" stroke-width="0.9"/>
<text x="483.38" y="453" font-size="8.3" text-anchor="middle">4000</text>
<path d="M531.42 441.5v3" stroke="#333" stroke-width="0.9"/>
<text x="531.42" y="453" font-size="8.3" text-anchor="middle">6000</text>
<path d="M579.46 441.5v3" stroke="#333" stroke-width="0.9"/>
<text x="579.46" y="453" font-size="8.3" text-anchor="middle">8000</text>
<path d="M627.5 441.5v3" stroke="#333" stroke-width="0.9"/>
<text x="627.5" y="453" font-size="8.3" text-anchor="middle">10000</text>
<path d="M376.7 291h-2.5" stroke="#555" stroke-width="0.8"/>
<text x="366.2" y="294.6" font-size="8.3" text-anchor="end">10</text>
<text x="365.9" y="291.2" font-size="5.8">1</text>
<path d="M376.7 363h-2.5" stroke="#555" stroke-width="0.8"/>
<text x="366.2" y="366.6" font-size="8.3" text-anchor="end">10</text>
<text x="365.9" y="363.2" font-size="5.8">0</text>
<path d="M376.7 434.3h-2.5" stroke="#555" stroke-width="0.8"/>
<text x="366.2" y="437.90000000000003" font-size="8.3" text-anchor="end">10</text>
<text x="365.9" y="434.5" font-size="5.8">−1</text>
<path d="M376.7 341.41614931089254h-2" stroke="#333" stroke-width="0.7"/>
<path d="M376.7 328.7904060366002h-2" stroke="#333" stroke-width="0.7"/>
<path d="M376.7 319.83229862178507h-2" stroke="#333" stroke-width="0.7"/>
<path d="M376.7 312.8838506891075h-2" stroke="#333" stroke-width="0.7"/>
<path d="M376.7 307.2065553474928h-2" stroke="#333" stroke-width="0.7"/>
<path d="M376.7 302.4064705309778h-2" stroke="#333" stroke-width="0.7"/>
<path d="M376.7 298.24844793267766h-2" stroke="#333" stroke-width="0.7"/>
<path d="M376.7 294.5808120732004h-2" stroke="#333" stroke-width="0.7"/>
<path d="M376.7 413.1161493108925h-2" stroke="#333" stroke-width="0.7"/>
<path d="M376.7 400.49040603660023h-2" stroke="#333" stroke-width="0.7"/>
<path d="M376.7 391.5322986217851h-2" stroke="#333" stroke-width="0.7"/>
<path d="M376.7 384.58385068910746h-2" stroke="#333" stroke-width="0.7"/>
<path d="M376.7 378.90655534749277h-2" stroke="#333" stroke-width="0.7"/>
<path d="M376.7 374.1064705309778h-2" stroke="#333" stroke-width="0.7"/>
<path d="M376.7 369.94844793267765h-2" stroke="#333" stroke-width="0.7"/>
<path d="M376.7 366.2808120732004h-2" stroke="#333" stroke-width="0.7"/>
<path d="M376.7 369.5484479326777h-2" stroke="#333" stroke-width="0.7"/>
<path d="M376.7 365.88081207320045h-2" stroke="#333" stroke-width="0.7"/>
<path d="M376.7 441.24844793267766h-2" stroke="#333" stroke-width="0.7"/>
<path d="M376.7 437.58081207320043h-2" stroke="#333" stroke-width="0.7"/>
<text x="503.5" y="271" font-size="10.15" text-anchor="middle" >GLUE with Robust Error (Testing data)</text>
<text x="504" y="463.5" font-size="8.6" text-anchor="middle" >Time</text>
<text x="0" y="0" font-size="8.6" text-anchor="middle" transform="translate(347 359.6) rotate(-90)">Max Robust Error</text>
<rect x="380.3" y="424.3" width="65.69999999999999" height="13.5" rx="1.5" fill="#fff" fill-opacity="0.8" stroke="#ddd" stroke-width="0.8"/>
<path d="M382.6 429.6H396.8" stroke="#00ffff" stroke-width="1.6" stroke-dasharray="6 2.4"/>
<text x="405" y="434.05" font-size="8.2">Threshold</text>
<text x="490" y="497" font-size="24" text-anchor="middle" style='font-family:"Liberation Serif", serif' letter-spacing="0.9">(b) NASA test</text>
</svg></body></html>
